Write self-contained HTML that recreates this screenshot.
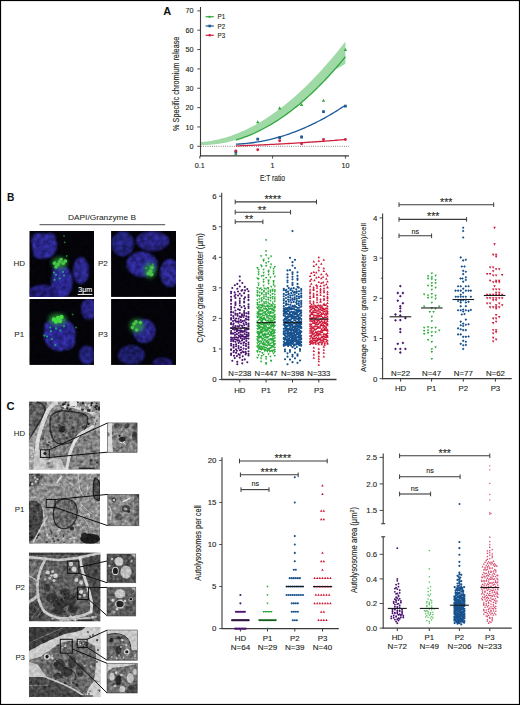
<!DOCTYPE html><html><head><meta charset="utf-8"><style>html,body{margin:0;padding:0;background:#fff;}svg{display:block;font-family:"Liberation Sans", sans-serif;}</style></head><body>
<svg width="520" height="705" viewBox="0 0 520 705">
<defs><filter id="b1" x="-20%" y="-20%" width="140%" height="140%"><feGaussianBlur stdDeviation="1.2"/></filter><filter id="b2" x="-20%" y="-20%" width="140%" height="140%"><feGaussianBlur stdDeviation="0.6"/></filter><filter id="b3" x="-20%" y="-20%" width="140%" height="140%"><feGaussianBlur stdDeviation="2"/></filter><filter id="nz" x="0" y="0" width="100%" height="100%" color-interpolation-filters="sRGB"><feTurbulence type="fractalNoise" baseFrequency="0.3" numOctaves="2" seed="5"/><feColorMatrix type="matrix" values="1.6 0 0 0 -0.3  1.6 0 0 0 -0.3  1.6 0 0 0 -0.3  0 0 0 0 1"/></filter><filter id="nz2" x="0" y="0" width="100%" height="100%" color-interpolation-filters="sRGB"><feTurbulence type="fractalNoise" baseFrequency="0.22" numOctaves="2" seed="9"/><feColorMatrix type="matrix" values="1.8 0 0 0 -0.4  1.8 0 0 0 -0.4  1.8 0 0 0 -0.4  0 0 0 0 1"/></filter><filter id="bem" x="-5%" y="-5%" width="110%" height="110%"><feGaussianBlur stdDeviation="0.55"/></filter></defs>
<rect x="0" y="0" width="520" height="705" fill="#fff"/>
<text x="167.3" y="15" font-size="11" text-anchor="middle" fill="#111" font-weight="bold">A</text>
<path d="M199.8 142.26L202.23 142.06L204.65 141.8L207.08 141.5L209.51 141.14L211.93 140.73L214.36 140.27L216.79 139.76L219.21 139.2L221.64 138.59L224.07 137.92L226.49 137.21L228.92 136.44L231.35 135.63L233.77 134.76L236.2 133.84L238.63 132.88L241.05 131.86L243.48 130.79L245.91 129.67L248.33 128.5L250.76 127.29L253.19 126.02L255.61 124.7L258.04 123.33L260.47 121.91L262.89 120.45L265.32 118.93L267.75 117.36L270.17 115.75L272.6 114.08L275.03 112.37L277.45 110.6L279.88 108.79L282.31 106.93L284.73 105.02L287.16 103.06L289.59 101.05L292.01 98.99L294.44 96.89L296.87 94.73L299.29 92.53L301.72 90.28L304.15 87.98L306.57 85.63L309 83.23L311.43 80.79L313.85 78.3L316.28 75.76L318.71 73.17L321.13 70.53L323.56 67.85L325.99 65.12L328.41 62.34L330.84 59.51L333.27 56.63L335.69 53.71L338.12 50.74L340.55 47.73L342.97 44.66L345.4 41.55L345.4 63.7L342.97 65.21L340.55 66.66L338.12 68.06L335.69 69.41L333.27 71.01L330.84 73.71L328.41 76.36L325.99 78.96L323.56 81.51L321.13 84.02L318.71 86.47L316.28 88.87L313.85 91.22L311.43 93.51L309 95.76L306.57 97.96L304.15 100.11L301.72 102.21L299.29 104.26L296.87 106.25L294.44 108.2L292.01 110.1L289.59 111.94L287.16 113.74L284.73 115.49L282.31 117.18L279.88 118.83L277.45 120.43L275.03 121.97L272.6 123.47L270.17 124.91L267.75 126.31L265.32 127.65L262.89 128.95L260.47 130.19L258.04 131.39L255.61 132.53L253.19 133.63L250.76 134.68L248.33 135.67L245.91 136.62L243.48 137.51L241.05 138.36L238.63 139.15L236.2 139.9L233.77 140.6L231.35 141.24L228.92 141.84L226.49 142.38L224.07 142.88L221.64 143.33L219.21 143.72L216.79 144.07L214.36 144.37L211.93 144.62L209.51 144.82L207.08 144.96L204.65 145.06L202.23 145.11L199.8 145.11Z" fill="#9fdaa6"/>
<line x1="201" y1="146.3" x2="349" y2="146.3" stroke="#444" stroke-width="0.8" stroke-dasharray="0.8 1.4"/>
<path d="M235.84 140.01L237.66 139.46L239.49 138.88L241.31 138.27L243.14 137.63L244.97 136.97L246.79 136.28L248.62 135.56L250.44 134.81L252.27 134.03L254.1 133.23L255.92 132.39L257.75 131.53L259.57 130.64L261.4 129.72L263.23 128.77L265.05 127.8L266.88 126.79L268.71 125.76L270.53 124.7L272.36 123.61L274.18 122.5L276.01 121.35L277.84 120.18L279.66 118.98L281.49 117.74L283.31 116.49L285.14 115.2L286.97 113.88L288.79 112.54L290.62 111.17L292.44 109.76L294.27 108.34L296.1 106.88L297.92 105.39L299.75 103.88L301.57 102.33L303.4 100.76L305.23 99.16L307.05 97.53L308.88 95.87L310.7 94.19L312.53 92.47L314.36 90.73L316.18 88.96L318.01 87.16L319.84 85.33L321.66 83.48L323.49 81.59L325.31 79.68L327.14 77.73L328.97 75.76L330.79 73.76L332.62 71.73L334.44 69.68L336.27 67.59L338.1 65.48L339.92 63.34L341.75 61.16L343.57 58.97L345.4 56.74" fill="none" stroke="#2fa83e" stroke-width="1.3"/>
<path d="M235.84 144.17L237.66 144.09L239.49 143.99L241.31 143.87L243.14 143.74L244.97 143.58L246.79 143.4L248.62 143.21L250.44 142.99L252.27 142.76L254.1 142.51L255.92 142.23L257.75 141.94L259.57 141.63L261.4 141.3L263.23 140.95L265.05 140.58L266.88 140.19L268.71 139.78L270.53 139.36L272.36 138.91L274.18 138.45L276.01 137.96L277.84 137.46L279.66 136.93L281.49 136.39L283.31 135.83L285.14 135.25L286.97 134.64L288.79 134.02L290.62 133.38L292.44 132.73L294.27 132.05L296.1 131.35L297.92 130.63L299.75 129.9L301.57 129.14L303.4 128.37L305.23 127.57L307.05 126.76L308.88 125.93L310.7 125.08L312.53 124.2L314.36 123.31L316.18 122.4L318.01 121.47L319.84 120.53L321.66 119.56L323.49 118.57L325.31 117.56L327.14 116.54L328.97 115.49L330.79 114.43L332.62 113.35L334.44 112.24L336.27 111.12L338.1 109.98L339.92 108.82L341.75 107.64L343.57 106.44L345.4 105.22" fill="none" stroke="#1d5a98" stroke-width="1.3"/>
<path d="M235.84 145.91L237.66 145.85L239.49 145.78L241.31 145.72L243.14 145.65L244.97 145.58L246.79 145.51L248.62 145.44L250.44 145.37L252.27 145.29L254.1 145.22L255.92 145.14L257.75 145.06L259.57 144.98L261.4 144.9L263.23 144.82L265.05 144.73L266.88 144.65L268.71 144.56L270.53 144.47L272.36 144.38L274.18 144.28L276.01 144.19L277.84 144.1L279.66 144L281.49 143.9L283.31 143.8L285.14 143.7L286.97 143.6L288.79 143.49L290.62 143.39L292.44 143.28L294.27 143.17L296.1 143.06L297.92 142.95L299.75 142.84L301.57 142.72L303.4 142.61L305.23 142.49L307.05 142.37L308.88 142.25L310.7 142.13L312.53 142L314.36 141.88L316.18 141.75L318.01 141.62L319.84 141.5L321.66 141.36L323.49 141.23L325.31 141.1L327.14 140.96L328.97 140.83L330.79 140.69L332.62 140.55L334.44 140.41L336.27 140.26L338.1 140.12L339.92 139.97L341.75 139.83L343.57 139.68L345.4 139.53" fill="none" stroke="#d0203f" stroke-width="1.3"/>
<path d="M235.83 152.2L237.53 155.26L234.13 155.26ZM257.74 120.28L259.44 123.34L256.04 123.34ZM279.66 106.34L281.36 109.4L277.96 109.4ZM301.57 102.86L303.27 105.92L299.87 105.92ZM323.49 98.8L325.19 101.86L321.79 101.86ZM345.4 47.91L347.1 50.97L343.7 50.97Z" fill="#2fa83e"/>
<path d="M234.43 150.71h2.8v2.8h-2.8ZM256.34 137.74h2.8v2.8h-2.8ZM278.26 136.19h2.8v2.8h-2.8ZM300.17 135.61h2.8v2.8h-2.8ZM322.09 110.26h2.8v2.8h-2.8ZM344 104.65h2.8v2.8h-2.8Z" fill="#1d5a98"/>
<path d="M234.38 150.94a1.45 1.45 0 1 0 2.9 0a1.45 1.45 0 1 0 -2.9 0ZM256.29 149.78a1.45 1.45 0 1 0 2.9 0a1.45 1.45 0 1 0 -2.9 0ZM278.21 140.69a1.45 1.45 0 1 0 2.9 0a1.45 1.45 0 1 0 -2.9 0ZM300.12 143.78a1.45 1.45 0 1 0 2.9 0a1.45 1.45 0 1 0 -2.9 0ZM322.04 139.53a1.45 1.45 0 1 0 2.9 0a1.45 1.45 0 1 0 -2.9 0ZM343.95 139.53a1.45 1.45 0 1 0 2.9 0a1.45 1.45 0 1 0 -2.9 0Z" fill="#d0203f"/>
<line x1="200.5" y1="7" x2="200.5" y2="156.5" stroke="#3a3a3a" stroke-width="1.1"/>
<line x1="200" y1="155.9" x2="349" y2="155.9" stroke="#3a3a3a" stroke-width="1.4"/>
<line x1="197.3" y1="146.3" x2="200.5" y2="146.3" stroke="#3a3a3a" stroke-width="0.9"/>
<text x="193.6" y="148.9" font-size="7.2" text-anchor="end" fill="#231f20" font-weight="normal" stroke="#231f20" stroke-width="0.12">0</text>
<line x1="197.3" y1="126.95" x2="200.5" y2="126.95" stroke="#3a3a3a" stroke-width="0.9"/>
<text x="193.6" y="129.55" font-size="7.2" text-anchor="end" fill="#231f20" font-weight="normal" stroke="#231f20" stroke-width="0.12">10</text>
<line x1="197.3" y1="107.6" x2="200.5" y2="107.6" stroke="#3a3a3a" stroke-width="0.9"/>
<text x="193.6" y="110.2" font-size="7.2" text-anchor="end" fill="#231f20" font-weight="normal" stroke="#231f20" stroke-width="0.12">20</text>
<line x1="197.3" y1="88.25" x2="200.5" y2="88.25" stroke="#3a3a3a" stroke-width="0.9"/>
<text x="193.6" y="90.85" font-size="7.2" text-anchor="end" fill="#231f20" font-weight="normal" stroke="#231f20" stroke-width="0.12">30</text>
<line x1="197.3" y1="68.9" x2="200.5" y2="68.9" stroke="#3a3a3a" stroke-width="0.9"/>
<text x="193.6" y="71.5" font-size="7.2" text-anchor="end" fill="#231f20" font-weight="normal" stroke="#231f20" stroke-width="0.12">40</text>
<line x1="197.3" y1="49.55" x2="200.5" y2="49.55" stroke="#3a3a3a" stroke-width="0.9"/>
<text x="193.6" y="52.15" font-size="7.2" text-anchor="end" fill="#231f20" font-weight="normal" stroke="#231f20" stroke-width="0.12">50</text>
<line x1="197.3" y1="30.2" x2="200.5" y2="30.2" stroke="#3a3a3a" stroke-width="0.9"/>
<text x="193.6" y="32.8" font-size="7.2" text-anchor="end" fill="#231f20" font-weight="normal" stroke="#231f20" stroke-width="0.12">60</text>
<line x1="197.3" y1="10.85" x2="200.5" y2="10.85" stroke="#3a3a3a" stroke-width="0.9"/>
<text x="193.6" y="13.45" font-size="7.2" text-anchor="end" fill="#231f20" font-weight="normal" stroke="#231f20" stroke-width="0.12">70</text>
<line x1="199.8" y1="155.9" x2="199.8" y2="158.6" stroke="#3a3a3a" stroke-width="0.9"/>
<text x="199.8" y="168.3" font-size="7.2" text-anchor="middle" fill="#231f20" font-weight="normal" stroke="#231f20" stroke-width="0.12">0.1</text>
<line x1="272.6" y1="155.9" x2="272.6" y2="158.6" stroke="#3a3a3a" stroke-width="0.9"/>
<text x="272.6" y="168.3" font-size="7.2" text-anchor="middle" fill="#231f20" font-weight="normal" stroke="#231f20" stroke-width="0.12">1</text>
<line x1="345.4" y1="155.9" x2="345.4" y2="158.6" stroke="#3a3a3a" stroke-width="0.9"/>
<text x="345.4" y="168.3" font-size="7.2" text-anchor="middle" fill="#231f20" font-weight="normal" stroke="#231f20" stroke-width="0.12">10</text>
<text x="272.5" y="181.3" font-size="8.4" text-anchor="middle" fill="#231f20" font-weight="normal" stroke="#231f20" stroke-width="0.12" textLength="25.2" lengthAdjust="spacingAndGlyphs">E:T ratio</text>
<text x="178.8" y="83.8" font-size="8.4" text-anchor="middle" fill="#231f20" font-weight="normal" stroke="#231f20" stroke-width="0.12" textLength="94.5" lengthAdjust="spacingAndGlyphs" transform="rotate(-90 178.8 83.8)">% Specific chromium release</text>
<line x1="205.6" y1="16.7" x2="213.8" y2="16.7" stroke="#2fa83e" stroke-width="1.2"/>
<path d="M209.7 15.3L211 17.64L208.4 17.64Z" fill="#2fa83e"/>
<text x="217.6" y="19.3" font-size="7.4" text-anchor="start" fill="#231f20" font-weight="normal" stroke="#231f20" stroke-width="0.12" textLength="7.6" lengthAdjust="spacingAndGlyphs">P1</text>
<line x1="205.6" y1="26" x2="213.8" y2="26" stroke="#1d5a98" stroke-width="1.2"/>
<path d="M208.4 24.7h2.6v2.6h-2.6Z" fill="#1d5a98"/>
<text x="217.6" y="28.6" font-size="7.4" text-anchor="start" fill="#231f20" font-weight="normal" stroke="#231f20" stroke-width="0.12" textLength="7.6" lengthAdjust="spacingAndGlyphs">P2</text>
<line x1="205.6" y1="35.3" x2="213.8" y2="35.3" stroke="#d0203f" stroke-width="1.2"/>
<path d="M208.4 35.3a1.3 1.3 0 1 0 2.6 0a1.3 1.3 0 1 0 -2.6 0Z" fill="#d0203f"/>
<text x="217.6" y="37.9" font-size="7.4" text-anchor="start" fill="#231f20" font-weight="normal" stroke="#231f20" stroke-width="0.12" textLength="7.6" lengthAdjust="spacingAndGlyphs">P3</text>
<text x="7" y="200.6" font-size="10.2" text-anchor="start" fill="#111" font-weight="bold">B</text>
<text x="102" y="220" font-size="8" text-anchor="middle" fill="#231f20" font-weight="normal" stroke="#231f20" stroke-width="0.05" textLength="68" lengthAdjust="spacingAndGlyphs">DAPI/Granzyme B</text>
<line x1="39.5" y1="224.6" x2="165.2" y2="224.6" stroke="#6d6e70" stroke-width="1.1"/>
<clipPath id="mc1"><rect x="29.3" y="231" width="64.7" height="65.9"/></clipPath>
<g clip-path="url(#mc1)" style="isolation:isolate">
<rect x="29.3" y="231" width="64.7" height="65.9" fill="#030308"/>
<g filter="url(#b1)">
<ellipse cx="44.5" cy="246" rx="12.5" ry="12.5" fill="#2a268c"/>
<ellipse cx="38" cy="240" rx="7" ry="7" fill="#2a268c"/>
<ellipse cx="50" cy="238" rx="6" ry="5" fill="#2a268c"/>
<ellipse cx="40" cy="253" rx="7" ry="6" fill="#2a268c"/>
<ellipse cx="81" cy="270.5" rx="8" ry="13.5" fill="#2a268a"/>
<ellipse cx="62" cy="282" rx="10.5" ry="16.5" fill="#2c2890"/>
<ellipse cx="58" cy="271" rx="5.5" ry="5.5" fill="#2c2890"/>
<ellipse cx="43" cy="293" rx="14.5" ry="8.5" fill="#221e72"/>
</g>
<rect x="29.3" y="231" width="64.7" height="65.9" fill="#808080" filter="url(#nz2)" style="mix-blend-mode:overlay" opacity="0.32"/>
<g filter="url(#b3)" opacity="0.8">
<ellipse cx="59.5" cy="263" rx="7.8" ry="5.85" fill="#2a9a3a"/>
</g><g filter="url(#b2)">
<ellipse cx="54.6" cy="263.2" rx="1.9" ry="1.9" fill="#46c646"/>
<ellipse cx="59.6" cy="261.8" rx="1.9" ry="1.9" fill="#46c646"/>
<ellipse cx="63.2" cy="263.2" rx="1.9" ry="1.9" fill="#46c646"/>
<ellipse cx="56" cy="266.8" rx="1.9" ry="1.9" fill="#46c646"/>
<ellipse cx="61.1" cy="259.6" rx="1.9" ry="1.9" fill="#46c646"/>
<ellipse cx="65.4" cy="261.1" rx="1.9" ry="1.9" fill="#46c646"/>
<ellipse cx="58" cy="264.5" rx="1.9" ry="1.9" fill="#46c646"/>
<ellipse cx="53.9" cy="272.6" rx="1.1" ry="1.1" fill="#22a07a"/>
<ellipse cx="63.2" cy="271.9" rx="1.1" ry="1.1" fill="#22a07a"/>
<ellipse cx="56" cy="274.8" rx="1.1" ry="1.1" fill="#22a07a"/>
<ellipse cx="64" cy="275.5" rx="1.1" ry="1.1" fill="#22a07a"/>
<ellipse cx="59.6" cy="278.4" rx="1.1" ry="1.1" fill="#22a07a"/>
<ellipse cx="54.6" cy="279.8" rx="1.1" ry="1.1" fill="#22a07a"/>
<ellipse cx="64" cy="235.8" rx="0.9" ry="0.9" fill="#1d8a30"/>
<ellipse cx="64.7" cy="242.3" rx="0.9" ry="0.9" fill="#1d8a30"/>
<ellipse cx="66.8" cy="256" rx="0.9" ry="0.9" fill="#1d8a30"/>
</g></g>
<text x="85.3" y="292" font-size="7" text-anchor="middle" fill="#fff" font-weight="normal" stroke="#fff" stroke-width="0.12" textLength="14" lengthAdjust="spacingAndGlyphs">3&#956;m</text>
<line x1="77.7" y1="294.4" x2="92.5" y2="294.4" stroke="#fff" stroke-width="1"/>
<clipPath id="mc2"><rect x="111.1" y="231" width="64.9" height="65.9"/></clipPath>
<g clip-path="url(#mc2)" style="isolation:isolate">
<rect x="111.1" y="231" width="64.9" height="65.9" fill="#030308"/>
<g filter="url(#b1)">
<ellipse cx="122.7" cy="243.7" rx="11.2" ry="12.5" fill="#24207a"/>
<ellipse cx="152.6" cy="241" rx="16.6" ry="10" fill="#26227e"/>
<ellipse cx="142" cy="264.4" rx="15.5" ry="12.6" fill="#2c2890"/>
<ellipse cx="170" cy="273" rx="10" ry="14" fill="#2a268a"/>
</g>
<rect x="111.1" y="231" width="64.9" height="65.9" fill="#808080" filter="url(#nz2)" style="mix-blend-mode:overlay" opacity="0.32"/>
<g filter="url(#b3)" opacity="0.8">
<ellipse cx="150" cy="270.5" rx="5.85" ry="7.8" fill="#2a9a3a"/>
</g><g filter="url(#b2)">
<ellipse cx="150.5" cy="271.2" rx="2" ry="2" fill="#46c646"/>
<ellipse cx="148.5" cy="273.5" rx="2" ry="2" fill="#46c646"/>
<ellipse cx="152" cy="267.5" rx="2" ry="2" fill="#46c646"/>
<ellipse cx="151.5" cy="274.5" rx="2" ry="2" fill="#46c646"/>
<ellipse cx="153" cy="264.5" rx="1" ry="1" fill="#2aa84a"/>
<ellipse cx="146" cy="268" rx="1" ry="1" fill="#2aa84a"/>
</g></g>
<clipPath id="mc3"><rect x="29.3" y="299" width="64.7" height="65.9"/></clipPath>
<g clip-path="url(#mc3)" style="isolation:isolate">
<rect x="29.3" y="299" width="64.7" height="65.9" fill="#030308"/>
<g filter="url(#b1)">
<ellipse cx="59.7" cy="334.6" rx="15.9" ry="16.3" fill="#2c2890"/>
<ellipse cx="52" cy="328" rx="8" ry="8" fill="#2c2890"/>
<ellipse cx="66" cy="342" rx="9" ry="8" fill="#2c2890"/>
<ellipse cx="89" cy="309" rx="8" ry="11" fill="#26227e"/>
<ellipse cx="87" cy="355" rx="8" ry="9.5" fill="#24207a"/>
</g>
<rect x="29.3" y="299" width="64.7" height="65.9" fill="#808080" filter="url(#nz2)" style="mix-blend-mode:overlay" opacity="0.32"/>
<g filter="url(#b3)" opacity="0.8">
<ellipse cx="57.5" cy="319.3" rx="9.1" ry="5.85" fill="#2a9a3a"/>
</g><g filter="url(#b2)">
<ellipse cx="54" cy="319.5" rx="2.2" ry="2.2" fill="#44dc44"/>
<ellipse cx="58" cy="318" rx="2.2" ry="2.2" fill="#44dc44"/>
<ellipse cx="61.5" cy="317" rx="2.2" ry="2.2" fill="#44dc44"/>
<ellipse cx="56" cy="321.5" rx="2.2" ry="2.2" fill="#44dc44"/>
<ellipse cx="60" cy="321" rx="2.2" ry="2.2" fill="#44dc44"/>
<ellipse cx="64" cy="326.2" rx="1.1" ry="1.1" fill="#22a07a"/>
<ellipse cx="56" cy="328.4" rx="1.1" ry="1.1" fill="#22a07a"/>
<ellipse cx="60.4" cy="330.5" rx="1.1" ry="1.1" fill="#22a07a"/>
<ellipse cx="50.3" cy="327.6" rx="1.1" ry="1.1" fill="#22a07a"/>
<ellipse cx="51" cy="331.2" rx="1.1" ry="1.1" fill="#22a07a"/>
<ellipse cx="44.5" cy="335.6" rx="1.1" ry="1.1" fill="#22a07a"/>
<ellipse cx="47" cy="336.5" rx="1.1" ry="1.1" fill="#22a07a"/>
<ellipse cx="51.7" cy="339.2" rx="1.1" ry="1.1" fill="#22a07a"/>
<ellipse cx="55.3" cy="345" rx="1.1" ry="1.1" fill="#22a07a"/>
<ellipse cx="72.6" cy="314.6" rx="1" ry="1" fill="#1d7a30"/>
<ellipse cx="76.2" cy="327.6" rx="1" ry="1" fill="#1d7a30"/>
</g></g>
<clipPath id="mc4"><rect x="111.1" y="299" width="64.9" height="65.9"/></clipPath>
<g clip-path="url(#mc4)" style="isolation:isolate">
<rect x="111.1" y="299" width="64.9" height="65.9" fill="#030308"/>
<g filter="url(#b1)">
<ellipse cx="144.3" cy="331" rx="11.2" ry="11.9" fill="#2a268a"/>
<ellipse cx="131.4" cy="355" rx="13.4" ry="10" fill="#1e1a66"/>
<ellipse cx="162.7" cy="362.5" rx="10" ry="5" fill="#1c1860"/>
</g>
<rect x="111.1" y="299" width="64.9" height="65.9" fill="#808080" filter="url(#nz2)" style="mix-blend-mode:overlay" opacity="0.32"/>
<g filter="url(#b3)" opacity="0.8">
<ellipse cx="136.7" cy="325.8" rx="7.15" ry="6.76" fill="#2a9a3a"/>
</g><g filter="url(#b2)">
<ellipse cx="136" cy="321.9" rx="1.8" ry="1.8" fill="#46c646"/>
<ellipse cx="140.4" cy="322.6" rx="1.8" ry="1.8" fill="#46c646"/>
<ellipse cx="132.4" cy="327.6" rx="1.8" ry="1.8" fill="#46c646"/>
<ellipse cx="136.7" cy="330" rx="1.8" ry="1.8" fill="#46c646"/>
<ellipse cx="134" cy="324" rx="1.8" ry="1.8" fill="#46c646"/>
</g></g>
<text x="19.2" y="266.2" font-size="8" text-anchor="middle" fill="#231f20" font-weight="normal" stroke="#231f20" stroke-width="0.05">HD</text>
<text x="102.8" y="266.2" font-size="8" text-anchor="middle" fill="#231f20" font-weight="normal" stroke="#231f20" stroke-width="0.05">P2</text>
<text x="19.2" y="336.6" font-size="8" text-anchor="middle" fill="#231f20" font-weight="normal" stroke="#231f20" stroke-width="0.05">P1</text>
<text x="102.8" y="336.6" font-size="8" text-anchor="middle" fill="#231f20" font-weight="normal" stroke="#231f20" stroke-width="0.05">P3</text>
<line x1="221.7" y1="192.8" x2="221.7" y2="380" stroke="#3a3a3a" stroke-width="1.1"/>
<line x1="221.2" y1="379.5" x2="336.5" y2="379.5" stroke="#3a3a3a" stroke-width="1.3"/>
<line x1="218.9" y1="379.5" x2="221.7" y2="379.5" stroke="#3a3a3a" stroke-width="0.9"/>
<text x="216.6" y="382.3" font-size="7.8" text-anchor="end" fill="#231f20" font-weight="normal" stroke="#231f20" stroke-width="0.12">0</text>
<line x1="218.9" y1="348.95" x2="221.7" y2="348.95" stroke="#3a3a3a" stroke-width="0.9"/>
<text x="216.6" y="351.75" font-size="7.8" text-anchor="end" fill="#231f20" font-weight="normal" stroke="#231f20" stroke-width="0.12">1</text>
<line x1="218.9" y1="318.4" x2="221.7" y2="318.4" stroke="#3a3a3a" stroke-width="0.9"/>
<text x="216.6" y="321.2" font-size="7.8" text-anchor="end" fill="#231f20" font-weight="normal" stroke="#231f20" stroke-width="0.12">2</text>
<line x1="218.9" y1="287.85" x2="221.7" y2="287.85" stroke="#3a3a3a" stroke-width="0.9"/>
<text x="216.6" y="290.65" font-size="7.8" text-anchor="end" fill="#231f20" font-weight="normal" stroke="#231f20" stroke-width="0.12">3</text>
<line x1="218.9" y1="257.3" x2="221.7" y2="257.3" stroke="#3a3a3a" stroke-width="0.9"/>
<text x="216.6" y="260.1" font-size="7.8" text-anchor="end" fill="#231f20" font-weight="normal" stroke="#231f20" stroke-width="0.12">4</text>
<line x1="218.9" y1="226.75" x2="221.7" y2="226.75" stroke="#3a3a3a" stroke-width="0.9"/>
<text x="216.6" y="229.55" font-size="7.8" text-anchor="end" fill="#231f20" font-weight="normal" stroke="#231f20" stroke-width="0.12">5</text>
<line x1="218.9" y1="196.2" x2="221.7" y2="196.2" stroke="#3a3a3a" stroke-width="0.9"/>
<text x="216.6" y="199" font-size="7.8" text-anchor="end" fill="#231f20" font-weight="normal" stroke="#231f20" stroke-width="0.12">6</text>
<text x="203.4" y="288" font-size="8.2" text-anchor="middle" fill="#231f20" font-weight="normal" stroke="#231f20" stroke-width="0.12" textLength="109.6" lengthAdjust="spacingAndGlyphs" transform="rotate(-90 203.4 288)">Cytotoxic granule diameter (&#956;m)</text>
<path d="M238.75 276.55a1.05 1.05 0 1 0 2.1 0a1.05 1.05 0 1 0 -2.1 0ZM238.75 280.59a1.05 1.05 0 1 0 2.1 0a1.05 1.05 0 1 0 -2.1 0ZM241.25 282.99a1.05 1.05 0 1 0 2.1 0a1.05 1.05 0 1 0 -2.1 0ZM236.25 283.88a1.05 1.05 0 1 0 2.1 0a1.05 1.05 0 1 0 -2.1 0ZM233.75 285.26a1.05 1.05 0 1 0 2.1 0a1.05 1.05 0 1 0 -2.1 0ZM238.75 286.46a1.05 1.05 0 1 0 2.1 0a1.05 1.05 0 1 0 -2.1 0ZM243.75 286.88a1.05 1.05 0 1 0 2.1 0a1.05 1.05 0 1 0 -2.1 0ZM231.25 288.05a1.05 1.05 0 1 0 2.1 0a1.05 1.05 0 1 0 -2.1 0ZM236.25 288.78a1.05 1.05 0 1 0 2.1 0a1.05 1.05 0 1 0 -2.1 0ZM246.25 289.09a1.05 1.05 0 1 0 2.1 0a1.05 1.05 0 1 0 -2.1 0ZM241.25 289.99a1.05 1.05 0 1 0 2.1 0a1.05 1.05 0 1 0 -2.1 0ZM243.97 290.39a1.05 1.05 0 1 0 2.1 0a1.05 1.05 0 1 0 -2.1 0ZM240.49 290.66a1.05 1.05 0 1 0 2.1 0a1.05 1.05 0 1 0 -2.1 0ZM247.45 291.21a1.05 1.05 0 1 0 2.1 0a1.05 1.05 0 1 0 -2.1 0ZM237.01 291.53a1.05 1.05 0 1 0 2.1 0a1.05 1.05 0 1 0 -2.1 0ZM230.05 291.84a1.05 1.05 0 1 0 2.1 0a1.05 1.05 0 1 0 -2.1 0ZM233.53 292.37a1.05 1.05 0 1 0 2.1 0a1.05 1.05 0 1 0 -2.1 0ZM243.1 293.14a1.05 1.05 0 1 0 2.1 0a1.05 1.05 0 1 0 -2.1 0ZM230.05 293.3a1.05 1.05 0 1 0 2.1 0a1.05 1.05 0 1 0 -2.1 0ZM238.75 293.72a1.05 1.05 0 1 0 2.1 0a1.05 1.05 0 1 0 -2.1 0ZM234.4 294.52a1.05 1.05 0 1 0 2.1 0a1.05 1.05 0 1 0 -2.1 0ZM247.45 294.99a1.05 1.05 0 1 0 2.1 0a1.05 1.05 0 1 0 -2.1 0ZM237.01 295.43a1.05 1.05 0 1 0 2.1 0a1.05 1.05 0 1 0 -2.1 0ZM240.49 295.64a1.05 1.05 0 1 0 2.1 0a1.05 1.05 0 1 0 -2.1 0ZM233.53 295.99a1.05 1.05 0 1 0 2.1 0a1.05 1.05 0 1 0 -2.1 0ZM230.05 296.71a1.05 1.05 0 1 0 2.1 0a1.05 1.05 0 1 0 -2.1 0ZM247.45 297.17a1.05 1.05 0 1 0 2.1 0a1.05 1.05 0 1 0 -2.1 0ZM243.97 297.36a1.05 1.05 0 1 0 2.1 0a1.05 1.05 0 1 0 -2.1 0ZM234.4 297.9a1.05 1.05 0 1 0 2.1 0a1.05 1.05 0 1 0 -2.1 0ZM238.75 298.58a1.05 1.05 0 1 0 2.1 0a1.05 1.05 0 1 0 -2.1 0ZM243.1 298.83a1.05 1.05 0 1 0 2.1 0a1.05 1.05 0 1 0 -2.1 0ZM230.05 299.57a1.05 1.05 0 1 0 2.1 0a1.05 1.05 0 1 0 -2.1 0ZM247.45 299.89a1.05 1.05 0 1 0 2.1 0a1.05 1.05 0 1 0 -2.1 0ZM247.45 300.22a1.05 1.05 0 1 0 2.1 0a1.05 1.05 0 1 0 -2.1 0ZM230.05 300.67a1.05 1.05 0 1 0 2.1 0a1.05 1.05 0 1 0 -2.1 0ZM238.75 301.07a1.05 1.05 0 1 0 2.1 0a1.05 1.05 0 1 0 -2.1 0ZM243.1 301.64a1.05 1.05 0 1 0 2.1 0a1.05 1.05 0 1 0 -2.1 0ZM234.4 302.37a1.05 1.05 0 1 0 2.1 0a1.05 1.05 0 1 0 -2.1 0ZM243.1 302.5a1.05 1.05 0 1 0 2.1 0a1.05 1.05 0 1 0 -2.1 0ZM238.75 303.03a1.05 1.05 0 1 0 2.1 0a1.05 1.05 0 1 0 -2.1 0ZM234.4 303.56a1.05 1.05 0 1 0 2.1 0a1.05 1.05 0 1 0 -2.1 0ZM230.05 303.86a1.05 1.05 0 1 0 2.1 0a1.05 1.05 0 1 0 -2.1 0ZM247.45 304.29a1.05 1.05 0 1 0 2.1 0a1.05 1.05 0 1 0 -2.1 0ZM234.4 304.88a1.05 1.05 0 1 0 2.1 0a1.05 1.05 0 1 0 -2.1 0ZM238.75 305.53a1.05 1.05 0 1 0 2.1 0a1.05 1.05 0 1 0 -2.1 0ZM243.1 305.99a1.05 1.05 0 1 0 2.1 0a1.05 1.05 0 1 0 -2.1 0ZM247.45 306.44a1.05 1.05 0 1 0 2.1 0a1.05 1.05 0 1 0 -2.1 0ZM230.05 306.9a1.05 1.05 0 1 0 2.1 0a1.05 1.05 0 1 0 -2.1 0ZM240.49 307.3a1.05 1.05 0 1 0 2.1 0a1.05 1.05 0 1 0 -2.1 0ZM233.53 307.48a1.05 1.05 0 1 0 2.1 0a1.05 1.05 0 1 0 -2.1 0ZM247.45 307.93a1.05 1.05 0 1 0 2.1 0a1.05 1.05 0 1 0 -2.1 0ZM243.97 308.41a1.05 1.05 0 1 0 2.1 0a1.05 1.05 0 1 0 -2.1 0ZM230.05 309.1a1.05 1.05 0 1 0 2.1 0a1.05 1.05 0 1 0 -2.1 0ZM237.01 309.32a1.05 1.05 0 1 0 2.1 0a1.05 1.05 0 1 0 -2.1 0ZM238.75 309.9a1.05 1.05 0 1 0 2.1 0a1.05 1.05 0 1 0 -2.1 0ZM234.4 310.56a1.05 1.05 0 1 0 2.1 0a1.05 1.05 0 1 0 -2.1 0ZM243.1 311.01a1.05 1.05 0 1 0 2.1 0a1.05 1.05 0 1 0 -2.1 0ZM230.05 311.59a1.05 1.05 0 1 0 2.1 0a1.05 1.05 0 1 0 -2.1 0ZM247.45 312.05a1.05 1.05 0 1 0 2.1 0a1.05 1.05 0 1 0 -2.1 0ZM232.22 312.33a1.05 1.05 0 1 0 2.1 0a1.05 1.05 0 1 0 -2.1 0ZM230.05 312.55a1.05 1.05 0 1 0 2.1 0a1.05 1.05 0 1 0 -2.1 0ZM243.1 312.9a1.05 1.05 0 1 0 2.1 0a1.05 1.05 0 1 0 -2.1 0ZM238.75 313.03a1.05 1.05 0 1 0 2.1 0a1.05 1.05 0 1 0 -2.1 0ZM245.28 313.27a1.05 1.05 0 1 0 2.1 0a1.05 1.05 0 1 0 -2.1 0ZM234.4 313.54a1.05 1.05 0 1 0 2.1 0a1.05 1.05 0 1 0 -2.1 0ZM247.45 313.8a1.05 1.05 0 1 0 2.1 0a1.05 1.05 0 1 0 -2.1 0ZM236.57 314.03a1.05 1.05 0 1 0 2.1 0a1.05 1.05 0 1 0 -2.1 0ZM240.93 314.34a1.05 1.05 0 1 0 2.1 0a1.05 1.05 0 1 0 -2.1 0ZM234.4 314.77a1.05 1.05 0 1 0 2.1 0a1.05 1.05 0 1 0 -2.1 0ZM230.05 315.01a1.05 1.05 0 1 0 2.1 0a1.05 1.05 0 1 0 -2.1 0ZM243.1 315.15a1.05 1.05 0 1 0 2.1 0a1.05 1.05 0 1 0 -2.1 0ZM240.93 315.49a1.05 1.05 0 1 0 2.1 0a1.05 1.05 0 1 0 -2.1 0ZM236.57 315.69a1.05 1.05 0 1 0 2.1 0a1.05 1.05 0 1 0 -2.1 0ZM232.22 316.12a1.05 1.05 0 1 0 2.1 0a1.05 1.05 0 1 0 -2.1 0ZM245.28 316.33a1.05 1.05 0 1 0 2.1 0a1.05 1.05 0 1 0 -2.1 0ZM238.75 316.63a1.05 1.05 0 1 0 2.1 0a1.05 1.05 0 1 0 -2.1 0ZM247.45 316.78a1.05 1.05 0 1 0 2.1 0a1.05 1.05 0 1 0 -2.1 0ZM242.48 317a1.05 1.05 0 1 0 2.1 0a1.05 1.05 0 1 0 -2.1 0ZM239.99 317.24a1.05 1.05 0 1 0 2.1 0a1.05 1.05 0 1 0 -2.1 0ZM247.45 317.62a1.05 1.05 0 1 0 2.1 0a1.05 1.05 0 1 0 -2.1 0ZM232.54 318.02a1.05 1.05 0 1 0 2.1 0a1.05 1.05 0 1 0 -2.1 0ZM230.05 318.15a1.05 1.05 0 1 0 2.1 0a1.05 1.05 0 1 0 -2.1 0ZM235.02 318.53a1.05 1.05 0 1 0 2.1 0a1.05 1.05 0 1 0 -2.1 0ZM237.51 318.69a1.05 1.05 0 1 0 2.1 0a1.05 1.05 0 1 0 -2.1 0ZM244.96 318.84a1.05 1.05 0 1 0 2.1 0a1.05 1.05 0 1 0 -2.1 0ZM245.52 319.36a1.05 1.05 0 1 0 2.1 0a1.05 1.05 0 1 0 -2.1 0ZM230.05 319.59a1.05 1.05 0 1 0 2.1 0a1.05 1.05 0 1 0 -2.1 0ZM247.45 319.68a1.05 1.05 0 1 0 2.1 0a1.05 1.05 0 1 0 -2.1 0ZM239.72 320.1a1.05 1.05 0 1 0 2.1 0a1.05 1.05 0 1 0 -2.1 0ZM233.92 320.34a1.05 1.05 0 1 0 2.1 0a1.05 1.05 0 1 0 -2.1 0ZM243.58 320.67a1.05 1.05 0 1 0 2.1 0a1.05 1.05 0 1 0 -2.1 0ZM241.65 320.94a1.05 1.05 0 1 0 2.1 0a1.05 1.05 0 1 0 -2.1 0ZM231.98 321.11a1.05 1.05 0 1 0 2.1 0a1.05 1.05 0 1 0 -2.1 0ZM237.78 321.38a1.05 1.05 0 1 0 2.1 0a1.05 1.05 0 1 0 -2.1 0ZM235.85 321.5a1.05 1.05 0 1 0 2.1 0a1.05 1.05 0 1 0 -2.1 0ZM235.02 321.81a1.05 1.05 0 1 0 2.1 0a1.05 1.05 0 1 0 -2.1 0ZM239.99 322.27a1.05 1.05 0 1 0 2.1 0a1.05 1.05 0 1 0 -2.1 0ZM244.96 322.47a1.05 1.05 0 1 0 2.1 0a1.05 1.05 0 1 0 -2.1 0ZM237.51 322.74a1.05 1.05 0 1 0 2.1 0a1.05 1.05 0 1 0 -2.1 0ZM230.05 323.04a1.05 1.05 0 1 0 2.1 0a1.05 1.05 0 1 0 -2.1 0ZM242.48 323.33a1.05 1.05 0 1 0 2.1 0a1.05 1.05 0 1 0 -2.1 0ZM232.54 323.47a1.05 1.05 0 1 0 2.1 0a1.05 1.05 0 1 0 -2.1 0ZM247.45 323.67a1.05 1.05 0 1 0 2.1 0a1.05 1.05 0 1 0 -2.1 0ZM230.05 324.16a1.05 1.05 0 1 0 2.1 0a1.05 1.05 0 1 0 -2.1 0ZM245.28 324.34a1.05 1.05 0 1 0 2.1 0a1.05 1.05 0 1 0 -2.1 0ZM232.22 324.68a1.05 1.05 0 1 0 2.1 0a1.05 1.05 0 1 0 -2.1 0ZM243.1 324.93a1.05 1.05 0 1 0 2.1 0a1.05 1.05 0 1 0 -2.1 0ZM238.75 325.24a1.05 1.05 0 1 0 2.1 0a1.05 1.05 0 1 0 -2.1 0ZM247.45 325.49a1.05 1.05 0 1 0 2.1 0a1.05 1.05 0 1 0 -2.1 0ZM240.93 325.68a1.05 1.05 0 1 0 2.1 0a1.05 1.05 0 1 0 -2.1 0ZM234.4 326a1.05 1.05 0 1 0 2.1 0a1.05 1.05 0 1 0 -2.1 0ZM236.57 326.25a1.05 1.05 0 1 0 2.1 0a1.05 1.05 0 1 0 -2.1 0ZM247.45 326.56a1.05 1.05 0 1 0 2.1 0a1.05 1.05 0 1 0 -2.1 0ZM237.78 326.82a1.05 1.05 0 1 0 2.1 0a1.05 1.05 0 1 0 -2.1 0ZM231.98 326.94a1.05 1.05 0 1 0 2.1 0a1.05 1.05 0 1 0 -2.1 0ZM241.65 327.35a1.05 1.05 0 1 0 2.1 0a1.05 1.05 0 1 0 -2.1 0ZM233.92 327.54a1.05 1.05 0 1 0 2.1 0a1.05 1.05 0 1 0 -2.1 0ZM243.58 327.8a1.05 1.05 0 1 0 2.1 0a1.05 1.05 0 1 0 -2.1 0ZM230.05 327.96a1.05 1.05 0 1 0 2.1 0a1.05 1.05 0 1 0 -2.1 0ZM245.52 328.2a1.05 1.05 0 1 0 2.1 0a1.05 1.05 0 1 0 -2.1 0ZM239.72 328.45a1.05 1.05 0 1 0 2.1 0a1.05 1.05 0 1 0 -2.1 0ZM235.85 328.64a1.05 1.05 0 1 0 2.1 0a1.05 1.05 0 1 0 -2.1 0ZM231.79 329.05a1.05 1.05 0 1 0 2.1 0a1.05 1.05 0 1 0 -2.1 0ZM247.45 329.13a1.05 1.05 0 1 0 2.1 0a1.05 1.05 0 1 0 -2.1 0ZM235.27 329.36a1.05 1.05 0 1 0 2.1 0a1.05 1.05 0 1 0 -2.1 0ZM245.71 329.61a1.05 1.05 0 1 0 2.1 0a1.05 1.05 0 1 0 -2.1 0ZM233.53 329.79a1.05 1.05 0 1 0 2.1 0a1.05 1.05 0 1 0 -2.1 0ZM243.97 329.95a1.05 1.05 0 1 0 2.1 0a1.05 1.05 0 1 0 -2.1 0ZM237.01 330.26a1.05 1.05 0 1 0 2.1 0a1.05 1.05 0 1 0 -2.1 0ZM238.75 330.52a1.05 1.05 0 1 0 2.1 0a1.05 1.05 0 1 0 -2.1 0ZM240.49 330.73a1.05 1.05 0 1 0 2.1 0a1.05 1.05 0 1 0 -2.1 0ZM230.05 331.05a1.05 1.05 0 1 0 2.1 0a1.05 1.05 0 1 0 -2.1 0ZM242.23 331.21a1.05 1.05 0 1 0 2.1 0a1.05 1.05 0 1 0 -2.1 0ZM235.85 331.36a1.05 1.05 0 1 0 2.1 0a1.05 1.05 0 1 0 -2.1 0ZM243.58 331.6a1.05 1.05 0 1 0 2.1 0a1.05 1.05 0 1 0 -2.1 0ZM239.72 331.88a1.05 1.05 0 1 0 2.1 0a1.05 1.05 0 1 0 -2.1 0ZM241.65 332.1a1.05 1.05 0 1 0 2.1 0a1.05 1.05 0 1 0 -2.1 0ZM245.52 332.33a1.05 1.05 0 1 0 2.1 0a1.05 1.05 0 1 0 -2.1 0ZM230.05 332.56a1.05 1.05 0 1 0 2.1 0a1.05 1.05 0 1 0 -2.1 0ZM233.92 332.6a1.05 1.05 0 1 0 2.1 0a1.05 1.05 0 1 0 -2.1 0ZM237.78 332.84a1.05 1.05 0 1 0 2.1 0a1.05 1.05 0 1 0 -2.1 0ZM247.45 333.17a1.05 1.05 0 1 0 2.1 0a1.05 1.05 0 1 0 -2.1 0ZM231.98 333.38a1.05 1.05 0 1 0 2.1 0a1.05 1.05 0 1 0 -2.1 0ZM230.05 333.63a1.05 1.05 0 1 0 2.1 0a1.05 1.05 0 1 0 -2.1 0ZM231.98 333.73a1.05 1.05 0 1 0 2.1 0a1.05 1.05 0 1 0 -2.1 0ZM243.58 333.96a1.05 1.05 0 1 0 2.1 0a1.05 1.05 0 1 0 -2.1 0ZM235.85 334.16a1.05 1.05 0 1 0 2.1 0a1.05 1.05 0 1 0 -2.1 0ZM239.72 334.46a1.05 1.05 0 1 0 2.1 0a1.05 1.05 0 1 0 -2.1 0ZM245.52 334.7a1.05 1.05 0 1 0 2.1 0a1.05 1.05 0 1 0 -2.1 0ZM247.45 335a1.05 1.05 0 1 0 2.1 0a1.05 1.05 0 1 0 -2.1 0ZM233.92 335.05a1.05 1.05 0 1 0 2.1 0a1.05 1.05 0 1 0 -2.1 0ZM241.65 335.38a1.05 1.05 0 1 0 2.1 0a1.05 1.05 0 1 0 -2.1 0ZM237.78 335.63a1.05 1.05 0 1 0 2.1 0a1.05 1.05 0 1 0 -2.1 0ZM247.45 335.87a1.05 1.05 0 1 0 2.1 0a1.05 1.05 0 1 0 -2.1 0ZM240.49 335.95a1.05 1.05 0 1 0 2.1 0a1.05 1.05 0 1 0 -2.1 0ZM245.71 336.33a1.05 1.05 0 1 0 2.1 0a1.05 1.05 0 1 0 -2.1 0ZM238.75 336.54a1.05 1.05 0 1 0 2.1 0a1.05 1.05 0 1 0 -2.1 0ZM242.23 336.75a1.05 1.05 0 1 0 2.1 0a1.05 1.05 0 1 0 -2.1 0ZM243.97 336.91a1.05 1.05 0 1 0 2.1 0a1.05 1.05 0 1 0 -2.1 0ZM235.27 337.22a1.05 1.05 0 1 0 2.1 0a1.05 1.05 0 1 0 -2.1 0ZM233.53 337.3a1.05 1.05 0 1 0 2.1 0a1.05 1.05 0 1 0 -2.1 0ZM230.05 337.58a1.05 1.05 0 1 0 2.1 0a1.05 1.05 0 1 0 -2.1 0ZM237.01 337.83a1.05 1.05 0 1 0 2.1 0a1.05 1.05 0 1 0 -2.1 0ZM231.79 337.93a1.05 1.05 0 1 0 2.1 0a1.05 1.05 0 1 0 -2.1 0ZM239.72 338.11a1.05 1.05 0 1 0 2.1 0a1.05 1.05 0 1 0 -2.1 0ZM245.52 338.41a1.05 1.05 0 1 0 2.1 0a1.05 1.05 0 1 0 -2.1 0ZM247.45 338.62a1.05 1.05 0 1 0 2.1 0a1.05 1.05 0 1 0 -2.1 0ZM243.58 338.98a1.05 1.05 0 1 0 2.1 0a1.05 1.05 0 1 0 -2.1 0ZM241.65 339.07a1.05 1.05 0 1 0 2.1 0a1.05 1.05 0 1 0 -2.1 0ZM233.92 339.33a1.05 1.05 0 1 0 2.1 0a1.05 1.05 0 1 0 -2.1 0ZM230.05 339.45a1.05 1.05 0 1 0 2.1 0a1.05 1.05 0 1 0 -2.1 0ZM235.85 339.69a1.05 1.05 0 1 0 2.1 0a1.05 1.05 0 1 0 -2.1 0ZM231.98 340a1.05 1.05 0 1 0 2.1 0a1.05 1.05 0 1 0 -2.1 0ZM237.78 340.19a1.05 1.05 0 1 0 2.1 0a1.05 1.05 0 1 0 -2.1 0ZM240.93 340.41a1.05 1.05 0 1 0 2.1 0a1.05 1.05 0 1 0 -2.1 0ZM236.57 340.61a1.05 1.05 0 1 0 2.1 0a1.05 1.05 0 1 0 -2.1 0ZM245.28 340.91a1.05 1.05 0 1 0 2.1 0a1.05 1.05 0 1 0 -2.1 0ZM230.05 341.01a1.05 1.05 0 1 0 2.1 0a1.05 1.05 0 1 0 -2.1 0ZM232.22 341.3a1.05 1.05 0 1 0 2.1 0a1.05 1.05 0 1 0 -2.1 0ZM238.75 341.53a1.05 1.05 0 1 0 2.1 0a1.05 1.05 0 1 0 -2.1 0ZM234.4 341.86a1.05 1.05 0 1 0 2.1 0a1.05 1.05 0 1 0 -2.1 0ZM243.1 342.35a1.05 1.05 0 1 0 2.1 0a1.05 1.05 0 1 0 -2.1 0ZM247.45 342.51a1.05 1.05 0 1 0 2.1 0a1.05 1.05 0 1 0 -2.1 0ZM242.48 342.91a1.05 1.05 0 1 0 2.1 0a1.05 1.05 0 1 0 -2.1 0ZM237.51 343.03a1.05 1.05 0 1 0 2.1 0a1.05 1.05 0 1 0 -2.1 0ZM239.99 343.43a1.05 1.05 0 1 0 2.1 0a1.05 1.05 0 1 0 -2.1 0ZM244.96 343.82a1.05 1.05 0 1 0 2.1 0a1.05 1.05 0 1 0 -2.1 0ZM230.05 343.86a1.05 1.05 0 1 0 2.1 0a1.05 1.05 0 1 0 -2.1 0ZM235.02 344.37a1.05 1.05 0 1 0 2.1 0a1.05 1.05 0 1 0 -2.1 0ZM247.45 344.54a1.05 1.05 0 1 0 2.1 0a1.05 1.05 0 1 0 -2.1 0ZM232.54 344.79a1.05 1.05 0 1 0 2.1 0a1.05 1.05 0 1 0 -2.1 0ZM242.48 345.2a1.05 1.05 0 1 0 2.1 0a1.05 1.05 0 1 0 -2.1 0ZM230.05 345.48a1.05 1.05 0 1 0 2.1 0a1.05 1.05 0 1 0 -2.1 0ZM244.96 345.88a1.05 1.05 0 1 0 2.1 0a1.05 1.05 0 1 0 -2.1 0ZM237.51 346.05a1.05 1.05 0 1 0 2.1 0a1.05 1.05 0 1 0 -2.1 0ZM235.02 346.32a1.05 1.05 0 1 0 2.1 0a1.05 1.05 0 1 0 -2.1 0ZM232.54 346.76a1.05 1.05 0 1 0 2.1 0a1.05 1.05 0 1 0 -2.1 0ZM247.45 347.02a1.05 1.05 0 1 0 2.1 0a1.05 1.05 0 1 0 -2.1 0ZM239.99 347.28a1.05 1.05 0 1 0 2.1 0a1.05 1.05 0 1 0 -2.1 0ZM232.54 347.66a1.05 1.05 0 1 0 2.1 0a1.05 1.05 0 1 0 -2.1 0ZM247.45 347.92a1.05 1.05 0 1 0 2.1 0a1.05 1.05 0 1 0 -2.1 0ZM237.51 348.15a1.05 1.05 0 1 0 2.1 0a1.05 1.05 0 1 0 -2.1 0ZM242.48 348.59a1.05 1.05 0 1 0 2.1 0a1.05 1.05 0 1 0 -2.1 0ZM244.96 348.93a1.05 1.05 0 1 0 2.1 0a1.05 1.05 0 1 0 -2.1 0ZM230.05 349.23a1.05 1.05 0 1 0 2.1 0a1.05 1.05 0 1 0 -2.1 0ZM235.02 349.38a1.05 1.05 0 1 0 2.1 0a1.05 1.05 0 1 0 -2.1 0ZM239.99 349.74a1.05 1.05 0 1 0 2.1 0a1.05 1.05 0 1 0 -2.1 0ZM230.05 349.96a1.05 1.05 0 1 0 2.1 0a1.05 1.05 0 1 0 -2.1 0ZM238.75 350.27a1.05 1.05 0 1 0 2.1 0a1.05 1.05 0 1 0 -2.1 0ZM235.85 350.69a1.05 1.05 0 1 0 2.1 0a1.05 1.05 0 1 0 -2.1 0ZM232.95 350.8a1.05 1.05 0 1 0 2.1 0a1.05 1.05 0 1 0 -2.1 0ZM247.45 351.25a1.05 1.05 0 1 0 2.1 0a1.05 1.05 0 1 0 -2.1 0ZM241.65 351.61a1.05 1.05 0 1 0 2.1 0a1.05 1.05 0 1 0 -2.1 0ZM244.55 351.9a1.05 1.05 0 1 0 2.1 0a1.05 1.05 0 1 0 -2.1 0ZM242.48 352.16a1.05 1.05 0 1 0 2.1 0a1.05 1.05 0 1 0 -2.1 0ZM232.54 352.29a1.05 1.05 0 1 0 2.1 0a1.05 1.05 0 1 0 -2.1 0ZM235.02 352.83a1.05 1.05 0 1 0 2.1 0a1.05 1.05 0 1 0 -2.1 0ZM239.99 352.85a1.05 1.05 0 1 0 2.1 0a1.05 1.05 0 1 0 -2.1 0ZM244.96 353.32a1.05 1.05 0 1 0 2.1 0a1.05 1.05 0 1 0 -2.1 0ZM230.05 353.57a1.05 1.05 0 1 0 2.1 0a1.05 1.05 0 1 0 -2.1 0ZM247.45 353.76a1.05 1.05 0 1 0 2.1 0a1.05 1.05 0 1 0 -2.1 0ZM237.51 354.15a1.05 1.05 0 1 0 2.1 0a1.05 1.05 0 1 0 -2.1 0ZM244.55 354.57a1.05 1.05 0 1 0 2.1 0a1.05 1.05 0 1 0 -2.1 0ZM230.05 354.9a1.05 1.05 0 1 0 2.1 0a1.05 1.05 0 1 0 -2.1 0ZM238.75 354.99a1.05 1.05 0 1 0 2.1 0a1.05 1.05 0 1 0 -2.1 0ZM247.45 355.41a1.05 1.05 0 1 0 2.1 0a1.05 1.05 0 1 0 -2.1 0ZM232.95 355.81a1.05 1.05 0 1 0 2.1 0a1.05 1.05 0 1 0 -2.1 0ZM235.85 356.12a1.05 1.05 0 1 0 2.1 0a1.05 1.05 0 1 0 -2.1 0ZM241.65 356.36a1.05 1.05 0 1 0 2.1 0a1.05 1.05 0 1 0 -2.1 0ZM238.75 357.61a1.05 1.05 0 1 0 2.1 0a1.05 1.05 0 1 0 -2.1 0ZM233.75 358.09a1.05 1.05 0 1 0 2.1 0a1.05 1.05 0 1 0 -2.1 0ZM243.75 359.39a1.05 1.05 0 1 0 2.1 0a1.05 1.05 0 1 0 -2.1 0ZM241.25 360.01a1.05 1.05 0 1 0 2.1 0a1.05 1.05 0 1 0 -2.1 0ZM231.25 360.73a1.05 1.05 0 1 0 2.1 0a1.05 1.05 0 1 0 -2.1 0ZM236.25 361.86a1.05 1.05 0 1 0 2.1 0a1.05 1.05 0 1 0 -2.1 0ZM246.25 362.18a1.05 1.05 0 1 0 2.1 0a1.05 1.05 0 1 0 -2.1 0ZM241.25 363.34a1.05 1.05 0 1 0 2.1 0a1.05 1.05 0 1 0 -2.1 0ZM236.25 364.23a1.05 1.05 0 1 0 2.1 0a1.05 1.05 0 1 0 -2.1 0Z" fill="#4b1570"/>
<path d="M266.1 241.49L267.3 239.33L264.9 239.33ZM266.1 252.48L267.3 250.32L264.9 250.32ZM266.1 256.38L267.3 254.22L264.9 254.22ZM261.1 257.43L262.3 255.27L259.9 255.27ZM271.1 257.76L272.3 255.6L269.9 255.6ZM268.6 259.71L269.8 257.55L267.4 257.55ZM263.6 260.96L264.8 258.8L262.4 258.8ZM263.6 262.21L264.8 260.05L262.4 260.05ZM268.6 263.11L269.8 260.95L267.4 260.95ZM266.1 264.52L267.3 262.36L264.9 262.36ZM271.1 265.72L272.3 263.56L269.9 263.56ZM261.1 266.57L262.3 264.41L259.9 264.41ZM266.1 267.17L267.3 265.01L264.9 265.01ZM261.75 267.76L262.95 265.6L260.55 265.6ZM274.8 268.07L276 265.91L273.6 265.91ZM270.45 268.69L271.65 266.53L269.25 266.53ZM257.4 269.28L258.6 267.12L256.2 267.12ZM273.6 270.02L274.8 267.86L272.4 267.86ZM263.6 270.81L264.8 268.65L262.4 268.65ZM258.6 271.02L259.8 268.86L257.4 268.86ZM268.6 271.88L269.8 269.72L267.4 269.72ZM273.6 272.68L274.8 270.52L272.4 270.52ZM268.6 273.26L269.8 271.1L267.4 271.1ZM258.6 273.38L259.8 271.22L257.4 271.22ZM263.6 273.97L264.8 271.81L262.4 271.81ZM273.6 274.92L274.8 272.76L272.4 272.76ZM258.6 275.65L259.8 273.49L257.4 273.49ZM268.6 276L269.8 273.84L267.4 273.84ZM263.6 276.94L264.8 274.78L262.4 274.78ZM261.75 277.52L262.95 275.36L260.55 275.36ZM274.8 277.93L276 275.77L273.6 275.77ZM270.45 278.69L271.65 276.53L269.25 276.53ZM266.1 279.07L267.3 276.91L264.9 276.91ZM257.4 279.71L258.6 277.55L256.2 277.55ZM258.6 280.21L259.8 278.05L257.4 278.05ZM263.6 280.96L264.8 278.8L262.4 278.8ZM268.6 281.71L269.8 279.55L267.4 279.55ZM273.6 282.17L274.8 280.01L272.4 280.01ZM268.6 282.7L269.8 280.54L267.4 280.54ZM263.6 283.26L264.8 281.1L262.4 281.1ZM273.6 283.75L274.8 281.59L272.4 281.59ZM258.6 284.54L259.8 282.38L257.4 282.38ZM268.6 284.91L269.8 282.75L267.4 282.75ZM273.6 285.89L274.8 283.73L272.4 283.73ZM258.6 286.54L259.8 284.38L257.4 284.38ZM263.6 286.82L264.8 284.66L262.4 284.66ZM274.8 287.65L276 285.49L273.6 285.49ZM271.32 287.88L272.52 285.72L270.12 285.72ZM267.84 289.04L269.04 286.88L266.64 286.88ZM257.4 289.24L258.6 287.08L256.2 287.08ZM260.88 289.6L262.08 287.44L259.68 287.44ZM264.36 289.69L265.56 287.53L263.16 287.53ZM268.28 289.93L269.48 287.77L267.08 287.77ZM259.58 290.23L260.78 288.07L258.38 288.07ZM266.1 290.5L267.3 288.34L264.9 288.34ZM272.62 290.85L273.82 288.69L271.43 288.69ZM261.75 291.06L262.95 288.9L260.55 288.9ZM274.8 291.49L276 289.33L273.6 289.33ZM270.45 291.56L271.65 289.4L269.25 289.4ZM263.93 292.04L265.12 289.88L262.73 289.88ZM257.4 292.07L258.6 289.91L256.2 289.91ZM272.62 292.37L273.82 290.21L271.43 290.21ZM268.28 292.7L269.48 290.54L267.08 290.54ZM274.8 292.93L276 290.77L273.6 290.77ZM263.93 293.32L265.12 291.16L262.73 291.16ZM270.45 293.42L271.65 291.26L269.25 291.26ZM259.58 293.75L260.78 291.59L258.38 291.59ZM257.4 294L258.6 291.84L256.2 291.84ZM266.1 294.46L267.3 292.3L264.9 292.3ZM261.75 294.48L262.95 292.32L260.55 292.32ZM268.28 294.92L269.48 292.76L267.08 292.76ZM272.62 295.18L273.82 293.02L271.43 293.02ZM261.75 295.38L262.95 293.22L260.55 293.22ZM274.8 295.8L276 293.64L273.6 293.64ZM266.1 296.03L267.3 293.87L264.9 293.87ZM263.93 296.33L265.12 294.17L262.73 294.17ZM257.4 296.4L258.6 294.24L256.2 294.24ZM270.45 296.76L271.65 294.6L269.25 294.6ZM259.58 297.05L260.78 294.89L258.38 294.89ZM257.4 297.32L258.6 295.16L256.2 295.16ZM259.58 297.52L260.78 295.36L258.38 295.36ZM266.1 297.89L267.3 295.73L264.9 295.73ZM272.62 298.06L273.82 295.9L271.43 295.9ZM263.93 298.37L265.12 296.21L262.73 296.21ZM274.8 298.57L276 296.41L273.6 296.41ZM268.28 298.95L269.48 296.79L267.08 296.79ZM270.45 299.18L271.65 297.02L269.25 297.02ZM261.75 299.43L262.95 297.27L260.55 297.27ZM272.62 299.79L273.82 297.63L271.43 297.63ZM263.93 299.92L265.12 297.76L262.73 297.76ZM259.58 300.35L260.78 298.19L258.38 298.19ZM274.8 300.43L276 298.27L273.6 298.27ZM266.1 300.83L267.3 298.67L264.9 298.67ZM268.28 300.98L269.48 298.82L267.08 298.82ZM261.75 301.35L262.95 299.19L260.55 299.19ZM257.4 301.52L258.6 299.36L256.2 299.36ZM270.45 301.84L271.65 299.68L269.25 299.68ZM270.45 302.02L271.65 299.86L269.25 299.86ZM261.75 302.41L262.95 300.25L260.55 300.25ZM274.8 302.77L276 300.61L273.6 300.61ZM266.1 303.04L267.3 300.88L264.9 300.88ZM263.93 303.3L265.12 301.14L262.73 301.14ZM259.58 303.48L260.78 301.32L258.38 301.32ZM272.62 303.6L273.82 301.44L271.43 301.44ZM268.28 303.91L269.48 301.75L267.08 301.75ZM257.4 304.21L258.6 302.05L256.2 302.05ZM264.36 304.59L265.56 302.43L263.16 302.43ZM266.1 304.82L267.3 302.66L264.9 302.66ZM269.58 305.07L270.78 302.91L268.38 302.91ZM273.06 305.3L274.26 303.14L271.86 303.14ZM262.62 305.7L263.82 303.54L261.42 303.54ZM257.4 305.96L258.6 303.8L256.2 303.8ZM271.32 306.14L272.52 303.98L270.12 303.98ZM259.14 306.29L260.34 304.13L257.94 304.13ZM274.8 306.42L276 304.26L273.6 304.26ZM260.88 306.52L262.08 304.36L259.68 304.36ZM267.84 306.72L269.04 304.56L266.64 304.56ZM264.09 306.93L265.29 304.77L262.89 304.77ZM261.42 307L262.62 304.84L260.22 304.84ZM272.12 307.21L273.32 305.05L270.92 305.05ZM266.77 307.34L267.97 305.18L265.57 305.18ZM269.45 307.6L270.65 305.44L268.25 305.44ZM270.78 307.75L271.98 305.59L269.58 305.59ZM262.75 307.78L263.95 305.62L261.55 305.62ZM258.74 307.99L259.94 305.83L257.54 305.83ZM265.43 308.24L266.63 306.08L264.23 306.08ZM274.8 308.26L276 306.1L273.6 306.1ZM268.11 308.49L269.31 306.33L266.91 306.33ZM273.46 308.59L274.66 306.43L272.26 306.43ZM257.4 308.79L258.6 306.63L256.2 306.63ZM260.08 308.95L261.28 306.79L258.88 306.79ZM274.8 309.2L276 307.04L273.6 307.04ZM261.13 309.23L262.33 307.07L259.93 307.07ZM257.4 309.49L258.6 307.33L256.2 307.33ZM263.61 309.62L264.81 307.46L262.41 307.46ZM271.07 309.83L272.27 307.67L269.87 307.67ZM268.59 309.9L269.79 307.74L267.39 307.74ZM272.31 310.15L273.51 307.99L271.11 307.99ZM266.1 310.26L267.3 308.1L264.9 308.1ZM264.86 310.49L266.06 308.33L263.66 308.33ZM269.83 310.53L271.03 308.37L268.63 308.37ZM258.64 310.78L259.84 308.62L257.44 308.62ZM273.56 310.99L274.76 308.83L272.36 308.83ZM267.34 311.09L268.54 308.93L266.14 308.93ZM259.89 311.25L261.09 309.09L258.69 309.09ZM262.37 311.36L263.57 309.2L261.17 309.2ZM272.12 311.52L273.32 309.36L270.92 309.36ZM273.46 311.72L274.66 309.56L272.26 309.56ZM266.77 311.9L267.97 309.74L265.57 309.74ZM261.42 312.05L262.62 309.89L260.22 309.89ZM262.75 312.24L263.95 310.08L261.55 310.08ZM268.11 312.43L269.31 310.27L266.91 310.27ZM274.8 312.5L276 310.34L273.6 310.34ZM260.08 312.62L261.28 310.46L258.88 310.46ZM258.74 312.89L259.94 310.73L257.54 310.73ZM265.43 313.08L266.63 310.92L264.23 310.92ZM270.78 313.14L271.98 310.98L269.58 310.98ZM269.45 313.34L270.65 311.18L268.25 311.18ZM257.4 313.56L258.6 311.4L256.2 311.4ZM264.09 313.64L265.29 311.48L262.89 311.48ZM264.09 313.81L265.29 311.65L262.89 311.65ZM273.46 314.01L274.66 311.85L272.26 311.85ZM268.11 314.08L269.31 311.92L266.91 311.92ZM272.12 314.33L273.32 312.17L270.92 312.17ZM270.78 314.49L271.98 312.33L269.58 312.33ZM258.74 314.54L259.94 312.38L257.54 312.38ZM262.75 314.77L263.95 312.61L261.55 312.61ZM265.43 315.02L266.63 312.86L264.23 312.86ZM257.4 315.06L258.6 312.9L256.2 312.9ZM261.42 315.3L262.62 313.14L260.22 313.14ZM269.45 315.47L270.65 313.31L268.25 313.31ZM260.08 315.51L261.28 313.35L258.88 313.35ZM266.77 315.78L267.97 313.62L265.57 313.62ZM274.8 315.97L276 313.81L273.6 313.81ZM265.43 316.03L266.63 313.87L264.23 313.87ZM258.74 316.24L259.94 314.08L257.54 314.08ZM260.08 316.39L261.28 314.23L258.88 314.23ZM266.77 316.53L267.97 314.37L265.57 314.37ZM262.75 316.64L263.95 314.48L261.55 314.48ZM273.46 316.84L274.66 314.68L272.26 314.68ZM269.45 317.11L270.65 314.95L268.25 314.95ZM264.09 317.19L265.29 315.03L262.89 315.03ZM270.78 317.42L271.98 315.26L269.58 315.26ZM268.11 317.6L269.31 315.44L266.91 315.44ZM257.4 317.64L258.6 315.48L256.2 315.48ZM274.8 317.91L276 315.75L273.6 315.75ZM272.12 317.94L273.32 315.78L270.92 315.78ZM261.42 318.11L262.62 315.95L260.22 315.95ZM258.74 318.3L259.94 316.14L257.54 316.14ZM266.77 318.44L267.97 316.28L265.57 316.28ZM257.4 318.71L258.6 316.55L256.2 316.55ZM272.12 318.74L273.32 316.58L270.92 316.58ZM274.8 319.03L276 316.87L273.6 316.87ZM260.08 319.18L261.28 317.02L258.88 317.02ZM264.09 319.25L265.29 317.09L262.89 317.09ZM268.11 319.47L269.31 317.31L266.91 317.31ZM273.46 319.62L274.66 317.46L272.26 317.46ZM261.42 319.77L262.62 317.61L260.22 317.61ZM269.45 319.87L270.65 317.71L268.25 317.71ZM262.75 320.03L263.95 317.87L261.55 317.87ZM265.43 320.33L266.63 318.17L264.23 318.17ZM270.78 320.43L271.98 318.27L269.58 318.27ZM264.09 320.51L265.29 318.35L262.89 318.35ZM260.08 320.7L261.28 318.54L258.88 318.54ZM274.8 320.87L276 318.71L273.6 318.71ZM262.75 321.08L263.95 318.92L261.55 318.92ZM273.46 321.29L274.66 319.13L272.26 319.13ZM258.74 321.32L259.94 319.16L257.54 319.16ZM265.43 321.5L266.63 319.34L264.23 319.34ZM268.11 321.75L269.31 319.59L266.91 319.59ZM270.78 321.89L271.98 319.73L269.58 319.73ZM261.42 322.01L262.62 319.85L260.22 319.85ZM272.12 322.22L273.32 320.06L270.92 320.06ZM266.77 322.3L267.97 320.14L265.57 320.14ZM269.45 322.59L270.65 320.43L268.25 320.43ZM257.4 322.63L258.6 320.47L256.2 320.47ZM261.13 322.8L262.33 320.64L259.93 320.64ZM262.37 323L263.57 320.84L261.17 320.84ZM274.8 323.14L276 320.98L273.6 320.98ZM272.31 323.35L273.51 321.19L271.11 321.19ZM269.83 323.48L271.03 321.32L268.63 321.32ZM271.07 323.65L272.27 321.49L269.87 321.49ZM268.59 323.77L269.79 321.61L267.39 321.61ZM257.4 324L258.6 321.84L256.2 321.84ZM267.34 324.14L268.54 321.98L266.14 321.98ZM266.1 324.2L267.3 322.04L264.9 322.04ZM258.64 324.38L259.84 322.22L257.44 322.22ZM273.56 324.45L274.76 322.29L272.36 322.29ZM264.86 324.69L266.06 322.53L263.66 322.53ZM263.61 324.8L264.81 322.64L262.41 322.64ZM259.89 324.85L261.09 322.69L258.69 322.69ZM267.19 325.04L268.39 322.88L265.99 322.88ZM260.66 325.18L261.86 323.02L259.46 323.02ZM269.36 325.28L270.56 323.12L268.16 323.12ZM265.01 325.46L266.21 323.3L263.81 323.3ZM271.54 325.58L272.74 323.42L270.34 323.42ZM262.84 325.67L264.04 323.51L261.64 323.51ZM261.75 325.82L262.95 323.66L260.55 323.66ZM258.49 325.91L259.69 323.75L257.29 323.75ZM272.62 326.09L273.82 323.93L271.43 323.93ZM273.71 326.21L274.91 324.05L272.51 324.05ZM268.28 326.33L269.48 324.17L267.08 324.17ZM263.93 326.43L265.12 324.27L262.73 324.27ZM266.1 326.6L267.3 324.44L264.9 324.44ZM270.45 326.78L271.65 324.62L269.25 324.62ZM257.4 326.84L258.6 324.68L256.2 324.68ZM259.58 327.04L260.78 324.88L258.38 324.88ZM274.8 327.1L276 324.94L273.6 324.94ZM274.8 327.26L276 325.1L273.6 325.1ZM272.62 327.42L273.82 325.26L271.43 325.26ZM257.4 327.53L258.6 325.37L256.2 325.37ZM271.54 327.63L272.74 325.47L270.34 325.47ZM263.93 327.75L265.12 325.59L262.73 325.59ZM266.1 327.94L267.3 325.78L264.9 325.78ZM265.01 328.07L266.21 325.91L263.81 325.91ZM259.58 328.18L260.78 326.02L258.38 326.02ZM261.75 328.35L262.95 326.19L260.55 326.19ZM273.71 328.43L274.91 326.27L272.51 326.27ZM258.49 328.51L259.69 326.35L257.29 326.35ZM260.66 328.7L261.86 326.54L259.46 326.54ZM269.36 328.78L270.56 326.62L268.16 326.62ZM270.45 329.01L271.65 326.85L269.25 326.85ZM268.28 329.08L269.48 326.92L267.08 326.92ZM262.84 329.23L264.04 327.07L261.64 327.07ZM267.19 329.3L268.39 327.14L265.99 327.14ZM259.58 329.54L260.78 327.38L258.38 327.38ZM270.45 329.65L271.65 327.49L269.25 327.49ZM263.93 329.74L265.12 327.58L262.73 327.58ZM269.36 329.83L270.56 327.67L268.16 327.67ZM265.01 330.02L266.21 327.86L263.81 327.86ZM258.49 330.11L259.69 327.95L257.29 327.95ZM257.4 330.33L258.6 328.17L256.2 328.17ZM268.28 330.41L269.48 328.25L267.08 328.25ZM262.84 330.5L264.04 328.34L261.64 328.34ZM272.62 330.63L273.82 328.47L271.43 328.47ZM266.1 330.82L267.3 328.66L264.9 328.66ZM271.54 330.94L272.74 328.78L270.34 328.78ZM261.75 331L262.95 328.84L260.55 328.84ZM267.19 331.24L268.39 329.08L265.99 329.08ZM260.66 331.3L261.86 329.14L259.46 329.14ZM273.71 331.43L274.91 329.27L272.51 329.27ZM274.8 331.64L276 329.48L273.6 329.48ZM265.01 331.74L266.21 329.58L263.81 329.58ZM272.62 331.8L273.82 329.64L271.43 329.64ZM274.8 331.94L276 329.78L273.6 329.78ZM267.19 332.05L268.39 329.89L265.99 329.89ZM269.36 332.3L270.56 330.14L268.16 330.14ZM260.66 332.32L261.86 330.16L259.46 330.16ZM263.93 332.52L265.12 330.36L262.73 330.36ZM262.84 332.69L264.04 330.53L261.64 330.53ZM257.4 332.8L258.6 330.64L256.2 330.64ZM266.1 332.86L267.3 330.7L264.9 330.7ZM258.49 333.09L259.69 330.93L257.29 330.93ZM261.75 333.2L262.95 331.04L260.55 331.04ZM271.54 333.23L272.74 331.07L270.34 331.07ZM273.71 333.43L274.91 331.27L272.51 331.27ZM259.58 333.57L260.78 331.41L258.38 331.41ZM270.45 333.71L271.65 331.55L269.25 331.55ZM268.28 333.84L269.48 331.68L267.08 331.68ZM260.66 334L261.86 331.84L259.46 331.84ZM274.8 334.09L276 331.93L273.6 331.93ZM270.45 334.22L271.65 332.06L269.25 332.06ZM257.4 334.31L258.6 332.15L256.2 332.15ZM261.75 334.48L262.95 332.32L260.55 332.32ZM272.62 334.58L273.82 332.42L271.43 332.42ZM273.71 334.67L274.91 332.51L272.51 332.51ZM265.01 334.91L266.21 332.75L263.81 332.75ZM258.49 335.01L259.69 332.85L257.29 332.85ZM268.28 335.08L269.48 332.92L267.08 332.92ZM271.54 335.26L272.74 333.1L270.34 333.1ZM259.58 335.41L260.78 333.25L258.38 333.25ZM267.19 335.57L268.39 333.41L265.99 333.41ZM262.84 335.68L264.04 333.52L261.64 333.52ZM263.93 335.77L265.12 333.61L262.73 333.61ZM266.1 335.9L267.3 333.74L264.9 333.74ZM269.36 336.06L270.56 333.9L268.16 333.9ZM262.52 336.21L263.72 334.05L261.32 334.05ZM264.56 336.28L265.76 334.12L263.36 334.12ZM269.68 336.49L270.88 334.33L268.48 334.33ZM258.42 336.63L259.62 334.47L257.22 334.47ZM270.71 336.64L271.91 334.48L269.51 334.48ZM271.73 336.78L272.93 334.62L270.53 334.62ZM273.78 336.98L274.98 334.82L272.58 334.82ZM265.59 337.03L266.79 334.87L264.39 334.87ZM263.54 337.16L264.74 335L262.34 335ZM274.8 337.36L276 335.2L273.6 335.2ZM261.49 337.54L262.69 335.38L260.29 335.38ZM259.45 337.65L260.65 335.49L258.25 335.49ZM260.47 337.75L261.67 335.59L259.27 335.59ZM272.75 337.94L273.95 335.78L271.55 335.78ZM268.66 338.04L269.86 335.88L267.46 335.88ZM257.4 338.14L258.6 335.98L256.2 335.98ZM267.64 338.21L268.84 336.05L266.44 336.05ZM266.61 338.37L267.81 336.21L265.41 336.21ZM264.86 338.54L266.06 336.38L263.66 336.38ZM267.34 338.71L268.54 336.55L266.14 336.55ZM261.13 338.8L262.33 336.64L259.93 336.64ZM258.64 338.99L259.84 336.83L257.44 336.83ZM259.89 339.19L261.09 337.03L258.69 337.03ZM266.1 339.36L267.3 337.2L264.9 337.2ZM274.8 339.38L276 337.22L273.6 337.22ZM262.37 339.62L263.57 337.46L261.17 337.46ZM263.61 339.77L264.81 337.61L262.41 337.61ZM273.56 339.98L274.76 337.82L272.36 337.82ZM271.07 340.06L272.27 337.9L269.87 337.9ZM272.31 340.21L273.51 338.05L271.11 338.05ZM257.4 340.37L258.6 338.21L256.2 338.21ZM269.83 340.58L271.03 338.42L268.63 338.42ZM268.59 340.69L269.79 338.53L267.39 338.53ZM262.37 340.91L263.57 338.75L261.17 338.75ZM269.83 341L271.03 338.84L268.63 338.84ZM264.86 341.25L266.06 339.09L263.66 339.09ZM272.31 341.36L273.51 339.2L271.11 339.2ZM271.07 341.42L272.27 339.26L269.87 339.26ZM258.64 341.71L259.84 339.55L257.44 339.55ZM257.4 341.75L258.6 339.59L256.2 339.59ZM267.34 341.96L268.54 339.8L266.14 339.8ZM273.56 342.09L274.76 339.93L272.36 339.93ZM266.1 342.31L267.3 340.15L264.9 340.15ZM274.8 342.39L276 340.23L273.6 340.23ZM263.61 342.62L264.81 340.46L262.41 340.46ZM261.13 342.68L262.33 340.52L259.93 340.52ZM259.89 342.85L261.09 340.69L258.69 340.69ZM268.59 343.05L269.79 340.89L267.39 340.89ZM266.1 343.17L267.3 341.01L264.9 341.01ZM258.64 343.36L259.84 341.2L257.44 341.2ZM272.31 343.58L273.51 341.42L271.11 341.42ZM261.13 343.61L262.33 341.45L259.93 341.45ZM273.56 343.76L274.76 341.6L272.36 341.6ZM268.59 344.05L269.79 341.89L267.39 341.89ZM263.61 344.15L264.81 341.99L262.41 341.99ZM267.34 344.34L268.54 342.18L266.14 342.18ZM257.4 344.5L258.6 342.34L256.2 342.34ZM271.07 344.61L272.27 342.45L269.87 342.45ZM264.86 344.84L266.06 342.68L263.66 342.68ZM262.37 344.99L263.57 342.83L261.17 342.83ZM274.8 345.09L276 342.93L273.6 342.93ZM259.89 345.26L261.09 343.1L258.69 343.1ZM269.83 345.32L271.03 343.16L268.63 343.16ZM262.37 345.53L263.57 343.37L261.17 343.37ZM273.56 345.78L274.76 343.62L272.36 343.62ZM274.8 345.93L276 343.77L273.6 343.77ZM268.59 346L269.79 343.84L267.39 343.84ZM263.61 346.1L264.81 343.94L262.41 343.94ZM266.1 346.3L267.3 344.14L264.9 344.14ZM258.64 346.44L259.84 344.28L257.44 344.28ZM264.86 346.61L266.06 344.45L263.66 344.45ZM269.83 346.87L271.03 344.71L268.63 344.71ZM267.34 346.91L268.54 344.75L266.14 344.75ZM271.07 347.1L272.27 344.94L269.87 344.94ZM272.31 347.23L273.51 345.07L271.11 345.07ZM257.4 347.36L258.6 345.2L256.2 345.2ZM259.89 347.58L261.09 345.42L258.69 345.42ZM261.13 347.71L262.33 345.55L259.93 345.55ZM273.56 347.9L274.76 345.74L272.36 345.74ZM263.61 348.05L264.81 345.89L262.41 345.89ZM257.4 348.17L258.6 346.01L256.2 346.01ZM272.31 348.31L273.51 346.15L271.11 346.15ZM258.64 348.57L259.84 346.41L257.44 346.41ZM262.37 348.66L263.57 346.5L261.17 346.5ZM266.1 348.86L267.3 346.7L264.9 346.7ZM274.8 348.99L276 346.83L273.6 346.83ZM271.07 349.11L272.27 346.95L269.87 346.95ZM264.86 349.26L266.06 347.1L263.66 347.1ZM259.89 349.44L261.09 347.28L258.69 347.28ZM261.13 349.57L262.33 347.41L259.93 347.41ZM269.83 349.71L271.03 347.55L268.63 347.55ZM267.34 349.98L268.54 347.82L266.14 347.82ZM268.59 350.02L269.79 347.86L267.39 347.86ZM262.75 350.16L263.95 348L261.55 348ZM258.74 350.46L259.94 348.3L257.54 348.3ZM260.08 350.53L261.28 348.37L258.88 348.37ZM269.45 350.74L270.65 348.58L268.25 348.58ZM264.09 350.88L265.29 348.72L262.89 348.72ZM261.42 351L262.62 348.84L260.22 348.84ZM274.8 351.23L276 349.07L273.6 349.07ZM265.43 351.28L266.63 349.12L264.23 349.12ZM273.46 351.55L274.66 349.39L272.26 349.39ZM268.11 351.6L269.31 349.44L266.91 349.44ZM266.77 351.84L267.97 349.68L265.57 349.68ZM272.12 351.93L273.32 349.77L270.92 349.77ZM257.4 352.15L258.6 349.99L256.2 349.99ZM270.78 352.33L271.98 350.17L269.58 350.17ZM264.86 352.45L266.06 350.29L263.66 350.29ZM269.83 352.63L271.03 350.47L268.63 350.47ZM267.34 352.78L268.54 350.62L266.14 350.62ZM272.31 352.83L273.51 350.67L271.11 350.67ZM274.8 353.12L276 350.96L273.6 350.96ZM257.4 353.23L258.6 351.07L256.2 351.07ZM259.89 353.28L261.09 351.12L258.69 351.12ZM262.37 354.15L263.57 351.99L261.17 351.99ZM273.6 354.68L274.8 352.52L272.4 352.52ZM268.6 355.42L269.8 353.26L267.4 353.26ZM263.6 355.82L264.8 353.66L262.4 353.66ZM258.6 356.41L259.8 354.25L257.4 354.25ZM274.8 357.04L276 354.88L273.6 354.88ZM261.75 357.23L262.95 355.07L260.55 355.07ZM270.45 357.83L271.65 355.67L269.25 355.67ZM266.1 358.17L267.3 356.01L264.9 356.01ZM257.4 358.97L258.6 356.81L256.2 356.81ZM261.1 359.71L262.3 357.55L259.9 357.55ZM266.1 360.36L267.3 358.2L264.9 358.2ZM271.1 361.83L272.3 359.67L269.9 359.67ZM271.1 362.39L272.3 360.23L269.9 360.23ZM261.1 362.9L262.3 360.74L259.9 360.74ZM266.1 364.04L267.3 361.88L264.9 361.88ZM266.1 365.52L267.3 363.36L264.9 363.36Z" fill="#2aab3c"/>
<path d="M291.4 231.03a1.1 1.1 0 1 0 2.2 0a1.1 1.1 0 1 0 -2.2 0ZM288.9 257.78a1.1 1.1 0 1 0 2.2 0a1.1 1.1 0 1 0 -2.2 0ZM293.9 259.82a1.1 1.1 0 1 0 2.2 0a1.1 1.1 0 1 0 -2.2 0ZM291.4 262.2a1.1 1.1 0 1 0 2.2 0a1.1 1.1 0 1 0 -2.2 0ZM291.4 265.56a1.1 1.1 0 1 0 2.2 0a1.1 1.1 0 1 0 -2.2 0ZM293.9 268.01a1.1 1.1 0 1 0 2.2 0a1.1 1.1 0 1 0 -2.2 0ZM288.9 270.1a1.1 1.1 0 1 0 2.2 0a1.1 1.1 0 1 0 -2.2 0ZM286.4 270.47a1.1 1.1 0 1 0 2.2 0a1.1 1.1 0 1 0 -2.2 0ZM291.4 272.23a1.1 1.1 0 1 0 2.2 0a1.1 1.1 0 1 0 -2.2 0ZM296.4 272.34a1.1 1.1 0 1 0 2.2 0a1.1 1.1 0 1 0 -2.2 0ZM291.4 274.04a1.1 1.1 0 1 0 2.2 0a1.1 1.1 0 1 0 -2.2 0ZM286.4 274.42a1.1 1.1 0 1 0 2.2 0a1.1 1.1 0 1 0 -2.2 0ZM296.4 275.82a1.1 1.1 0 1 0 2.2 0a1.1 1.1 0 1 0 -2.2 0ZM291.4 276.81a1.1 1.1 0 1 0 2.2 0a1.1 1.1 0 1 0 -2.2 0ZM286.4 277.38a1.1 1.1 0 1 0 2.2 0a1.1 1.1 0 1 0 -2.2 0ZM296.4 278.57a1.1 1.1 0 1 0 2.2 0a1.1 1.1 0 1 0 -2.2 0ZM291.4 279.36a1.1 1.1 0 1 0 2.2 0a1.1 1.1 0 1 0 -2.2 0ZM296.4 279.8a1.1 1.1 0 1 0 2.2 0a1.1 1.1 0 1 0 -2.2 0ZM286.4 280.62a1.1 1.1 0 1 0 2.2 0a1.1 1.1 0 1 0 -2.2 0ZM286.4 282.14a1.1 1.1 0 1 0 2.2 0a1.1 1.1 0 1 0 -2.2 0ZM291.4 282.91a1.1 1.1 0 1 0 2.2 0a1.1 1.1 0 1 0 -2.2 0ZM296.4 283.96a1.1 1.1 0 1 0 2.2 0a1.1 1.1 0 1 0 -2.2 0ZM291.4 284.94a1.1 1.1 0 1 0 2.2 0a1.1 1.1 0 1 0 -2.2 0ZM286.4 286.08a1.1 1.1 0 1 0 2.2 0a1.1 1.1 0 1 0 -2.2 0ZM296.4 286.82a1.1 1.1 0 1 0 2.2 0a1.1 1.1 0 1 0 -2.2 0ZM297.61 287.65a1.1 1.1 0 1 0 2.2 0a1.1 1.1 0 1 0 -2.2 0ZM287.67 288.08a1.1 1.1 0 1 0 2.2 0a1.1 1.1 0 1 0 -2.2 0ZM292.64 288.18a1.1 1.1 0 1 0 2.2 0a1.1 1.1 0 1 0 -2.2 0ZM290.16 288.54a1.1 1.1 0 1 0 2.2 0a1.1 1.1 0 1 0 -2.2 0ZM282.7 288.75a1.1 1.1 0 1 0 2.2 0a1.1 1.1 0 1 0 -2.2 0ZM300.1 289.14a1.1 1.1 0 1 0 2.2 0a1.1 1.1 0 1 0 -2.2 0ZM295.13 289.33a1.1 1.1 0 1 0 2.2 0a1.1 1.1 0 1 0 -2.2 0ZM285.19 289.75a1.1 1.1 0 1 0 2.2 0a1.1 1.1 0 1 0 -2.2 0ZM289.22 290.01a1.1 1.1 0 1 0 2.2 0a1.1 1.1 0 1 0 -2.2 0ZM282.7 290.2a1.1 1.1 0 1 0 2.2 0a1.1 1.1 0 1 0 -2.2 0ZM284.88 290.52a1.1 1.1 0 1 0 2.2 0a1.1 1.1 0 1 0 -2.2 0ZM300.1 290.81a1.1 1.1 0 1 0 2.2 0a1.1 1.1 0 1 0 -2.2 0ZM291.4 290.92a1.1 1.1 0 1 0 2.2 0a1.1 1.1 0 1 0 -2.2 0ZM297.92 291.26a1.1 1.1 0 1 0 2.2 0a1.1 1.1 0 1 0 -2.2 0ZM295.75 291.64a1.1 1.1 0 1 0 2.2 0a1.1 1.1 0 1 0 -2.2 0ZM287.05 291.71a1.1 1.1 0 1 0 2.2 0a1.1 1.1 0 1 0 -2.2 0ZM293.57 291.93a1.1 1.1 0 1 0 2.2 0a1.1 1.1 0 1 0 -2.2 0ZM285.19 292.27a1.1 1.1 0 1 0 2.2 0a1.1 1.1 0 1 0 -2.2 0ZM292.64 292.73a1.1 1.1 0 1 0 2.2 0a1.1 1.1 0 1 0 -2.2 0ZM295.13 293a1.1 1.1 0 1 0 2.2 0a1.1 1.1 0 1 0 -2.2 0ZM290.16 293.1a1.1 1.1 0 1 0 2.2 0a1.1 1.1 0 1 0 -2.2 0ZM300.1 293.45a1.1 1.1 0 1 0 2.2 0a1.1 1.1 0 1 0 -2.2 0ZM287.67 293.77a1.1 1.1 0 1 0 2.2 0a1.1 1.1 0 1 0 -2.2 0ZM282.7 293.91a1.1 1.1 0 1 0 2.2 0a1.1 1.1 0 1 0 -2.2 0ZM297.61 294.09a1.1 1.1 0 1 0 2.2 0a1.1 1.1 0 1 0 -2.2 0ZM287.05 294.51a1.1 1.1 0 1 0 2.2 0a1.1 1.1 0 1 0 -2.2 0ZM293.57 294.77a1.1 1.1 0 1 0 2.2 0a1.1 1.1 0 1 0 -2.2 0ZM284.88 295.09a1.1 1.1 0 1 0 2.2 0a1.1 1.1 0 1 0 -2.2 0ZM291.4 295.3a1.1 1.1 0 1 0 2.2 0a1.1 1.1 0 1 0 -2.2 0ZM289.22 295.52a1.1 1.1 0 1 0 2.2 0a1.1 1.1 0 1 0 -2.2 0ZM300.1 295.89a1.1 1.1 0 1 0 2.2 0a1.1 1.1 0 1 0 -2.2 0ZM295.75 296.2a1.1 1.1 0 1 0 2.2 0a1.1 1.1 0 1 0 -2.2 0ZM282.7 296.32a1.1 1.1 0 1 0 2.2 0a1.1 1.1 0 1 0 -2.2 0ZM297.92 296.62a1.1 1.1 0 1 0 2.2 0a1.1 1.1 0 1 0 -2.2 0ZM287.05 297.01a1.1 1.1 0 1 0 2.2 0a1.1 1.1 0 1 0 -2.2 0ZM300.1 297.26a1.1 1.1 0 1 0 2.2 0a1.1 1.1 0 1 0 -2.2 0ZM293.57 297.41a1.1 1.1 0 1 0 2.2 0a1.1 1.1 0 1 0 -2.2 0ZM289.22 297.62a1.1 1.1 0 1 0 2.2 0a1.1 1.1 0 1 0 -2.2 0ZM284.88 298a1.1 1.1 0 1 0 2.2 0a1.1 1.1 0 1 0 -2.2 0ZM297.92 298.25a1.1 1.1 0 1 0 2.2 0a1.1 1.1 0 1 0 -2.2 0ZM291.4 298.55a1.1 1.1 0 1 0 2.2 0a1.1 1.1 0 1 0 -2.2 0ZM295.75 298.72a1.1 1.1 0 1 0 2.2 0a1.1 1.1 0 1 0 -2.2 0ZM282.7 299.1a1.1 1.1 0 1 0 2.2 0a1.1 1.1 0 1 0 -2.2 0ZM293.57 299.45a1.1 1.1 0 1 0 2.2 0a1.1 1.1 0 1 0 -2.2 0ZM287.05 299.72a1.1 1.1 0 1 0 2.2 0a1.1 1.1 0 1 0 -2.2 0ZM291.4 299.84a1.1 1.1 0 1 0 2.2 0a1.1 1.1 0 1 0 -2.2 0ZM289.22 300.06a1.1 1.1 0 1 0 2.2 0a1.1 1.1 0 1 0 -2.2 0ZM282.7 300.54a1.1 1.1 0 1 0 2.2 0a1.1 1.1 0 1 0 -2.2 0ZM295.75 300.77a1.1 1.1 0 1 0 2.2 0a1.1 1.1 0 1 0 -2.2 0ZM300.1 300.97a1.1 1.1 0 1 0 2.2 0a1.1 1.1 0 1 0 -2.2 0ZM297.92 301.29a1.1 1.1 0 1 0 2.2 0a1.1 1.1 0 1 0 -2.2 0ZM284.88 301.47a1.1 1.1 0 1 0 2.2 0a1.1 1.1 0 1 0 -2.2 0ZM287.67 301.76a1.1 1.1 0 1 0 2.2 0a1.1 1.1 0 1 0 -2.2 0ZM292.64 301.94a1.1 1.1 0 1 0 2.2 0a1.1 1.1 0 1 0 -2.2 0ZM290.16 302.42a1.1 1.1 0 1 0 2.2 0a1.1 1.1 0 1 0 -2.2 0ZM295.13 302.45a1.1 1.1 0 1 0 2.2 0a1.1 1.1 0 1 0 -2.2 0ZM300.1 302.8a1.1 1.1 0 1 0 2.2 0a1.1 1.1 0 1 0 -2.2 0ZM282.7 303.09a1.1 1.1 0 1 0 2.2 0a1.1 1.1 0 1 0 -2.2 0ZM297.61 303.38a1.1 1.1 0 1 0 2.2 0a1.1 1.1 0 1 0 -2.2 0ZM285.19 303.69a1.1 1.1 0 1 0 2.2 0a1.1 1.1 0 1 0 -2.2 0ZM295.75 304.01a1.1 1.1 0 1 0 2.2 0a1.1 1.1 0 1 0 -2.2 0ZM300.1 304.12a1.1 1.1 0 1 0 2.2 0a1.1 1.1 0 1 0 -2.2 0ZM287.05 304.48a1.1 1.1 0 1 0 2.2 0a1.1 1.1 0 1 0 -2.2 0ZM289.22 304.83a1.1 1.1 0 1 0 2.2 0a1.1 1.1 0 1 0 -2.2 0ZM284.88 304.92a1.1 1.1 0 1 0 2.2 0a1.1 1.1 0 1 0 -2.2 0ZM297.92 305.26a1.1 1.1 0 1 0 2.2 0a1.1 1.1 0 1 0 -2.2 0ZM293.57 305.52a1.1 1.1 0 1 0 2.2 0a1.1 1.1 0 1 0 -2.2 0ZM291.4 305.88a1.1 1.1 0 1 0 2.2 0a1.1 1.1 0 1 0 -2.2 0ZM282.7 306.2a1.1 1.1 0 1 0 2.2 0a1.1 1.1 0 1 0 -2.2 0ZM300.1 306.44a1.1 1.1 0 1 0 2.2 0a1.1 1.1 0 1 0 -2.2 0ZM293.14 306.59a1.1 1.1 0 1 0 2.2 0a1.1 1.1 0 1 0 -2.2 0ZM294.88 306.88a1.1 1.1 0 1 0 2.2 0a1.1 1.1 0 1 0 -2.2 0ZM287.92 307.21a1.1 1.1 0 1 0 2.2 0a1.1 1.1 0 1 0 -2.2 0ZM289.66 307.43a1.1 1.1 0 1 0 2.2 0a1.1 1.1 0 1 0 -2.2 0ZM298.36 307.59a1.1 1.1 0 1 0 2.2 0a1.1 1.1 0 1 0 -2.2 0ZM296.62 307.88a1.1 1.1 0 1 0 2.2 0a1.1 1.1 0 1 0 -2.2 0ZM284.44 308a1.1 1.1 0 1 0 2.2 0a1.1 1.1 0 1 0 -2.2 0ZM286.18 308.22a1.1 1.1 0 1 0 2.2 0a1.1 1.1 0 1 0 -2.2 0ZM291.4 308.33a1.1 1.1 0 1 0 2.2 0a1.1 1.1 0 1 0 -2.2 0ZM282.7 308.49a1.1 1.1 0 1 0 2.2 0a1.1 1.1 0 1 0 -2.2 0ZM287.67 308.66a1.1 1.1 0 1 0 2.2 0a1.1 1.1 0 1 0 -2.2 0ZM292.64 308.7a1.1 1.1 0 1 0 2.2 0a1.1 1.1 0 1 0 -2.2 0ZM290.16 308.97a1.1 1.1 0 1 0 2.2 0a1.1 1.1 0 1 0 -2.2 0ZM291.4 309.04a1.1 1.1 0 1 0 2.2 0a1.1 1.1 0 1 0 -2.2 0ZM288.91 309.21a1.1 1.1 0 1 0 2.2 0a1.1 1.1 0 1 0 -2.2 0ZM285.19 309.39a1.1 1.1 0 1 0 2.2 0a1.1 1.1 0 1 0 -2.2 0ZM286.43 309.49a1.1 1.1 0 1 0 2.2 0a1.1 1.1 0 1 0 -2.2 0ZM283.94 309.68a1.1 1.1 0 1 0 2.2 0a1.1 1.1 0 1 0 -2.2 0ZM293.89 309.77a1.1 1.1 0 1 0 2.2 0a1.1 1.1 0 1 0 -2.2 0ZM295.13 309.92a1.1 1.1 0 1 0 2.2 0a1.1 1.1 0 1 0 -2.2 0ZM297.61 310.12a1.1 1.1 0 1 0 2.2 0a1.1 1.1 0 1 0 -2.2 0ZM298.86 310.24a1.1 1.1 0 1 0 2.2 0a1.1 1.1 0 1 0 -2.2 0ZM296.37 310.34a1.1 1.1 0 1 0 2.2 0a1.1 1.1 0 1 0 -2.2 0ZM282.7 310.54a1.1 1.1 0 1 0 2.2 0a1.1 1.1 0 1 0 -2.2 0ZM300.1 310.69a1.1 1.1 0 1 0 2.2 0a1.1 1.1 0 1 0 -2.2 0ZM298.86 310.91a1.1 1.1 0 1 0 2.2 0a1.1 1.1 0 1 0 -2.2 0ZM286.43 310.97a1.1 1.1 0 1 0 2.2 0a1.1 1.1 0 1 0 -2.2 0ZM287.67 311.17a1.1 1.1 0 1 0 2.2 0a1.1 1.1 0 1 0 -2.2 0ZM283.94 311.28a1.1 1.1 0 1 0 2.2 0a1.1 1.1 0 1 0 -2.2 0ZM297.61 311.45a1.1 1.1 0 1 0 2.2 0a1.1 1.1 0 1 0 -2.2 0ZM282.7 311.58a1.1 1.1 0 1 0 2.2 0a1.1 1.1 0 1 0 -2.2 0ZM290.16 311.69a1.1 1.1 0 1 0 2.2 0a1.1 1.1 0 1 0 -2.2 0ZM292.64 311.93a1.1 1.1 0 1 0 2.2 0a1.1 1.1 0 1 0 -2.2 0ZM285.19 312.03a1.1 1.1 0 1 0 2.2 0a1.1 1.1 0 1 0 -2.2 0ZM295.13 312.17a1.1 1.1 0 1 0 2.2 0a1.1 1.1 0 1 0 -2.2 0ZM291.4 312.35a1.1 1.1 0 1 0 2.2 0a1.1 1.1 0 1 0 -2.2 0ZM296.37 312.58a1.1 1.1 0 1 0 2.2 0a1.1 1.1 0 1 0 -2.2 0ZM293.89 312.62a1.1 1.1 0 1 0 2.2 0a1.1 1.1 0 1 0 -2.2 0ZM300.1 312.79a1.1 1.1 0 1 0 2.2 0a1.1 1.1 0 1 0 -2.2 0ZM288.91 312.95a1.1 1.1 0 1 0 2.2 0a1.1 1.1 0 1 0 -2.2 0ZM283.86 313.17a1.1 1.1 0 1 0 2.2 0a1.1 1.1 0 1 0 -2.2 0ZM291.98 313.23a1.1 1.1 0 1 0 2.2 0a1.1 1.1 0 1 0 -2.2 0ZM286.18 313.49a1.1 1.1 0 1 0 2.2 0a1.1 1.1 0 1 0 -2.2 0ZM298.94 313.51a1.1 1.1 0 1 0 2.2 0a1.1 1.1 0 1 0 -2.2 0ZM295.46 313.78a1.1 1.1 0 1 0 2.2 0a1.1 1.1 0 1 0 -2.2 0ZM282.7 313.88a1.1 1.1 0 1 0 2.2 0a1.1 1.1 0 1 0 -2.2 0ZM285.02 313.96a1.1 1.1 0 1 0 2.2 0a1.1 1.1 0 1 0 -2.2 0ZM294.3 314.1a1.1 1.1 0 1 0 2.2 0a1.1 1.1 0 1 0 -2.2 0ZM288.5 314.26a1.1 1.1 0 1 0 2.2 0a1.1 1.1 0 1 0 -2.2 0ZM293.14 314.41a1.1 1.1 0 1 0 2.2 0a1.1 1.1 0 1 0 -2.2 0ZM287.34 314.64a1.1 1.1 0 1 0 2.2 0a1.1 1.1 0 1 0 -2.2 0ZM290.82 314.81a1.1 1.1 0 1 0 2.2 0a1.1 1.1 0 1 0 -2.2 0ZM297.78 314.99a1.1 1.1 0 1 0 2.2 0a1.1 1.1 0 1 0 -2.2 0ZM296.62 315.07a1.1 1.1 0 1 0 2.2 0a1.1 1.1 0 1 0 -2.2 0ZM289.66 315.2a1.1 1.1 0 1 0 2.2 0a1.1 1.1 0 1 0 -2.2 0ZM300.1 315.36a1.1 1.1 0 1 0 2.2 0a1.1 1.1 0 1 0 -2.2 0ZM282.7 315.47a1.1 1.1 0 1 0 2.2 0a1.1 1.1 0 1 0 -2.2 0ZM300.1 315.75a1.1 1.1 0 1 0 2.2 0a1.1 1.1 0 1 0 -2.2 0ZM296.37 315.9a1.1 1.1 0 1 0 2.2 0a1.1 1.1 0 1 0 -2.2 0ZM283.94 316a1.1 1.1 0 1 0 2.2 0a1.1 1.1 0 1 0 -2.2 0ZM291.4 316.17a1.1 1.1 0 1 0 2.2 0a1.1 1.1 0 1 0 -2.2 0ZM288.91 316.26a1.1 1.1 0 1 0 2.2 0a1.1 1.1 0 1 0 -2.2 0ZM292.64 316.42a1.1 1.1 0 1 0 2.2 0a1.1 1.1 0 1 0 -2.2 0ZM295.13 316.55a1.1 1.1 0 1 0 2.2 0a1.1 1.1 0 1 0 -2.2 0ZM286.43 316.67a1.1 1.1 0 1 0 2.2 0a1.1 1.1 0 1 0 -2.2 0ZM290.16 316.88a1.1 1.1 0 1 0 2.2 0a1.1 1.1 0 1 0 -2.2 0ZM297.61 317.08a1.1 1.1 0 1 0 2.2 0a1.1 1.1 0 1 0 -2.2 0ZM287.67 317.11a1.1 1.1 0 1 0 2.2 0a1.1 1.1 0 1 0 -2.2 0ZM293.89 317.34a1.1 1.1 0 1 0 2.2 0a1.1 1.1 0 1 0 -2.2 0ZM285.19 317.45a1.1 1.1 0 1 0 2.2 0a1.1 1.1 0 1 0 -2.2 0ZM298.86 317.66a1.1 1.1 0 1 0 2.2 0a1.1 1.1 0 1 0 -2.2 0ZM291.98 317.81a1.1 1.1 0 1 0 2.2 0a1.1 1.1 0 1 0 -2.2 0ZM294.3 317.89a1.1 1.1 0 1 0 2.2 0a1.1 1.1 0 1 0 -2.2 0ZM286.18 318.16a1.1 1.1 0 1 0 2.2 0a1.1 1.1 0 1 0 -2.2 0ZM298.94 318.24a1.1 1.1 0 1 0 2.2 0a1.1 1.1 0 1 0 -2.2 0ZM290.82 318.43a1.1 1.1 0 1 0 2.2 0a1.1 1.1 0 1 0 -2.2 0ZM283.86 318.55a1.1 1.1 0 1 0 2.2 0a1.1 1.1 0 1 0 -2.2 0ZM295.46 318.64a1.1 1.1 0 1 0 2.2 0a1.1 1.1 0 1 0 -2.2 0ZM296.62 318.86a1.1 1.1 0 1 0 2.2 0a1.1 1.1 0 1 0 -2.2 0ZM300.1 319.04a1.1 1.1 0 1 0 2.2 0a1.1 1.1 0 1 0 -2.2 0ZM293.14 319.07a1.1 1.1 0 1 0 2.2 0a1.1 1.1 0 1 0 -2.2 0ZM285.02 319.26a1.1 1.1 0 1 0 2.2 0a1.1 1.1 0 1 0 -2.2 0ZM289.66 319.48a1.1 1.1 0 1 0 2.2 0a1.1 1.1 0 1 0 -2.2 0ZM297.78 319.63a1.1 1.1 0 1 0 2.2 0a1.1 1.1 0 1 0 -2.2 0ZM287.34 319.8a1.1 1.1 0 1 0 2.2 0a1.1 1.1 0 1 0 -2.2 0ZM288.5 319.83a1.1 1.1 0 1 0 2.2 0a1.1 1.1 0 1 0 -2.2 0ZM282.7 319.99a1.1 1.1 0 1 0 2.2 0a1.1 1.1 0 1 0 -2.2 0ZM293.14 320.27a1.1 1.1 0 1 0 2.2 0a1.1 1.1 0 1 0 -2.2 0ZM288.5 320.37a1.1 1.1 0 1 0 2.2 0a1.1 1.1 0 1 0 -2.2 0ZM297.78 320.44a1.1 1.1 0 1 0 2.2 0a1.1 1.1 0 1 0 -2.2 0ZM294.3 320.59a1.1 1.1 0 1 0 2.2 0a1.1 1.1 0 1 0 -2.2 0ZM282.7 320.77a1.1 1.1 0 1 0 2.2 0a1.1 1.1 0 1 0 -2.2 0ZM287.34 320.94a1.1 1.1 0 1 0 2.2 0a1.1 1.1 0 1 0 -2.2 0ZM285.02 321.04a1.1 1.1 0 1 0 2.2 0a1.1 1.1 0 1 0 -2.2 0ZM300.1 321.32a1.1 1.1 0 1 0 2.2 0a1.1 1.1 0 1 0 -2.2 0ZM286.18 321.4a1.1 1.1 0 1 0 2.2 0a1.1 1.1 0 1 0 -2.2 0ZM289.66 321.5a1.1 1.1 0 1 0 2.2 0a1.1 1.1 0 1 0 -2.2 0ZM290.82 321.75a1.1 1.1 0 1 0 2.2 0a1.1 1.1 0 1 0 -2.2 0ZM296.62 321.82a1.1 1.1 0 1 0 2.2 0a1.1 1.1 0 1 0 -2.2 0ZM298.94 322.02a1.1 1.1 0 1 0 2.2 0a1.1 1.1 0 1 0 -2.2 0ZM283.86 322.19a1.1 1.1 0 1 0 2.2 0a1.1 1.1 0 1 0 -2.2 0ZM291.98 322.24a1.1 1.1 0 1 0 2.2 0a1.1 1.1 0 1 0 -2.2 0ZM295.46 322.42a1.1 1.1 0 1 0 2.2 0a1.1 1.1 0 1 0 -2.2 0ZM299.01 322.64a1.1 1.1 0 1 0 2.2 0a1.1 1.1 0 1 0 -2.2 0ZM296.84 322.75a1.1 1.1 0 1 0 2.2 0a1.1 1.1 0 1 0 -2.2 0ZM292.49 322.93a1.1 1.1 0 1 0 2.2 0a1.1 1.1 0 1 0 -2.2 0ZM284.88 323.06a1.1 1.1 0 1 0 2.2 0a1.1 1.1 0 1 0 -2.2 0ZM287.05 323.19a1.1 1.1 0 1 0 2.2 0a1.1 1.1 0 1 0 -2.2 0ZM285.96 323.27a1.1 1.1 0 1 0 2.2 0a1.1 1.1 0 1 0 -2.2 0ZM297.92 323.4a1.1 1.1 0 1 0 2.2 0a1.1 1.1 0 1 0 -2.2 0ZM293.57 323.5a1.1 1.1 0 1 0 2.2 0a1.1 1.1 0 1 0 -2.2 0ZM288.14 323.67a1.1 1.1 0 1 0 2.2 0a1.1 1.1 0 1 0 -2.2 0ZM294.66 323.8a1.1 1.1 0 1 0 2.2 0a1.1 1.1 0 1 0 -2.2 0ZM283.79 323.91a1.1 1.1 0 1 0 2.2 0a1.1 1.1 0 1 0 -2.2 0ZM300.1 324.08a1.1 1.1 0 1 0 2.2 0a1.1 1.1 0 1 0 -2.2 0ZM290.31 324.22a1.1 1.1 0 1 0 2.2 0a1.1 1.1 0 1 0 -2.2 0ZM289.22 324.34a1.1 1.1 0 1 0 2.2 0a1.1 1.1 0 1 0 -2.2 0ZM295.75 324.45a1.1 1.1 0 1 0 2.2 0a1.1 1.1 0 1 0 -2.2 0ZM282.7 324.67a1.1 1.1 0 1 0 2.2 0a1.1 1.1 0 1 0 -2.2 0ZM291.4 324.84a1.1 1.1 0 1 0 2.2 0a1.1 1.1 0 1 0 -2.2 0ZM282.7 324.87a1.1 1.1 0 1 0 2.2 0a1.1 1.1 0 1 0 -2.2 0ZM298.94 325.07a1.1 1.1 0 1 0 2.2 0a1.1 1.1 0 1 0 -2.2 0ZM297.78 325.24a1.1 1.1 0 1 0 2.2 0a1.1 1.1 0 1 0 -2.2 0ZM287.34 325.34a1.1 1.1 0 1 0 2.2 0a1.1 1.1 0 1 0 -2.2 0ZM290.82 325.38a1.1 1.1 0 1 0 2.2 0a1.1 1.1 0 1 0 -2.2 0ZM288.5 325.62a1.1 1.1 0 1 0 2.2 0a1.1 1.1 0 1 0 -2.2 0ZM289.66 325.73a1.1 1.1 0 1 0 2.2 0a1.1 1.1 0 1 0 -2.2 0ZM285.02 325.8a1.1 1.1 0 1 0 2.2 0a1.1 1.1 0 1 0 -2.2 0ZM283.86 326.05a1.1 1.1 0 1 0 2.2 0a1.1 1.1 0 1 0 -2.2 0ZM294.3 326.13a1.1 1.1 0 1 0 2.2 0a1.1 1.1 0 1 0 -2.2 0ZM295.46 326.2a1.1 1.1 0 1 0 2.2 0a1.1 1.1 0 1 0 -2.2 0ZM296.62 326.42a1.1 1.1 0 1 0 2.2 0a1.1 1.1 0 1 0 -2.2 0ZM286.18 326.47a1.1 1.1 0 1 0 2.2 0a1.1 1.1 0 1 0 -2.2 0ZM293.14 326.72a1.1 1.1 0 1 0 2.2 0a1.1 1.1 0 1 0 -2.2 0ZM291.98 326.83a1.1 1.1 0 1 0 2.2 0a1.1 1.1 0 1 0 -2.2 0ZM300.1 326.96a1.1 1.1 0 1 0 2.2 0a1.1 1.1 0 1 0 -2.2 0ZM297.92 327.09a1.1 1.1 0 1 0 2.2 0a1.1 1.1 0 1 0 -2.2 0ZM292.49 327.25a1.1 1.1 0 1 0 2.2 0a1.1 1.1 0 1 0 -2.2 0ZM289.22 327.38a1.1 1.1 0 1 0 2.2 0a1.1 1.1 0 1 0 -2.2 0ZM296.84 327.51a1.1 1.1 0 1 0 2.2 0a1.1 1.1 0 1 0 -2.2 0ZM299.01 327.59a1.1 1.1 0 1 0 2.2 0a1.1 1.1 0 1 0 -2.2 0ZM284.88 327.79a1.1 1.1 0 1 0 2.2 0a1.1 1.1 0 1 0 -2.2 0ZM291.4 327.81a1.1 1.1 0 1 0 2.2 0a1.1 1.1 0 1 0 -2.2 0ZM293.57 327.95a1.1 1.1 0 1 0 2.2 0a1.1 1.1 0 1 0 -2.2 0ZM300.1 328.18a1.1 1.1 0 1 0 2.2 0a1.1 1.1 0 1 0 -2.2 0ZM294.66 328.22a1.1 1.1 0 1 0 2.2 0a1.1 1.1 0 1 0 -2.2 0ZM283.79 328.45a1.1 1.1 0 1 0 2.2 0a1.1 1.1 0 1 0 -2.2 0ZM288.14 328.57a1.1 1.1 0 1 0 2.2 0a1.1 1.1 0 1 0 -2.2 0ZM290.31 328.67a1.1 1.1 0 1 0 2.2 0a1.1 1.1 0 1 0 -2.2 0ZM282.7 328.79a1.1 1.1 0 1 0 2.2 0a1.1 1.1 0 1 0 -2.2 0ZM285.96 328.89a1.1 1.1 0 1 0 2.2 0a1.1 1.1 0 1 0 -2.2 0ZM287.05 329.06a1.1 1.1 0 1 0 2.2 0a1.1 1.1 0 1 0 -2.2 0ZM295.75 329.21a1.1 1.1 0 1 0 2.2 0a1.1 1.1 0 1 0 -2.2 0ZM288.14 329.32a1.1 1.1 0 1 0 2.2 0a1.1 1.1 0 1 0 -2.2 0ZM293.57 329.46a1.1 1.1 0 1 0 2.2 0a1.1 1.1 0 1 0 -2.2 0ZM297.92 329.67a1.1 1.1 0 1 0 2.2 0a1.1 1.1 0 1 0 -2.2 0ZM296.84 329.77a1.1 1.1 0 1 0 2.2 0a1.1 1.1 0 1 0 -2.2 0ZM291.4 329.88a1.1 1.1 0 1 0 2.2 0a1.1 1.1 0 1 0 -2.2 0ZM284.88 330.02a1.1 1.1 0 1 0 2.2 0a1.1 1.1 0 1 0 -2.2 0ZM289.22 330.2a1.1 1.1 0 1 0 2.2 0a1.1 1.1 0 1 0 -2.2 0ZM287.05 330.35a1.1 1.1 0 1 0 2.2 0a1.1 1.1 0 1 0 -2.2 0ZM295.75 330.48a1.1 1.1 0 1 0 2.2 0a1.1 1.1 0 1 0 -2.2 0ZM294.66 330.55a1.1 1.1 0 1 0 2.2 0a1.1 1.1 0 1 0 -2.2 0ZM290.31 330.72a1.1 1.1 0 1 0 2.2 0a1.1 1.1 0 1 0 -2.2 0ZM292.49 330.87a1.1 1.1 0 1 0 2.2 0a1.1 1.1 0 1 0 -2.2 0ZM285.96 330.98a1.1 1.1 0 1 0 2.2 0a1.1 1.1 0 1 0 -2.2 0ZM299.01 331.13a1.1 1.1 0 1 0 2.2 0a1.1 1.1 0 1 0 -2.2 0ZM283.79 331.21a1.1 1.1 0 1 0 2.2 0a1.1 1.1 0 1 0 -2.2 0ZM282.7 331.39a1.1 1.1 0 1 0 2.2 0a1.1 1.1 0 1 0 -2.2 0ZM300.1 331.51a1.1 1.1 0 1 0 2.2 0a1.1 1.1 0 1 0 -2.2 0ZM296.01 331.72a1.1 1.1 0 1 0 2.2 0a1.1 1.1 0 1 0 -2.2 0ZM293.96 331.78a1.1 1.1 0 1 0 2.2 0a1.1 1.1 0 1 0 -2.2 0ZM300.1 331.91a1.1 1.1 0 1 0 2.2 0a1.1 1.1 0 1 0 -2.2 0ZM286.79 332.05a1.1 1.1 0 1 0 2.2 0a1.1 1.1 0 1 0 -2.2 0ZM297.03 332.25a1.1 1.1 0 1 0 2.2 0a1.1 1.1 0 1 0 -2.2 0ZM289.86 332.28a1.1 1.1 0 1 0 2.2 0a1.1 1.1 0 1 0 -2.2 0ZM294.98 332.45a1.1 1.1 0 1 0 2.2 0a1.1 1.1 0 1 0 -2.2 0ZM287.82 332.54a1.1 1.1 0 1 0 2.2 0a1.1 1.1 0 1 0 -2.2 0ZM291.91 332.79a1.1 1.1 0 1 0 2.2 0a1.1 1.1 0 1 0 -2.2 0ZM298.05 332.87a1.1 1.1 0 1 0 2.2 0a1.1 1.1 0 1 0 -2.2 0ZM282.7 333.02a1.1 1.1 0 1 0 2.2 0a1.1 1.1 0 1 0 -2.2 0ZM299.08 333.17a1.1 1.1 0 1 0 2.2 0a1.1 1.1 0 1 0 -2.2 0ZM288.84 333.3a1.1 1.1 0 1 0 2.2 0a1.1 1.1 0 1 0 -2.2 0ZM284.75 333.4a1.1 1.1 0 1 0 2.2 0a1.1 1.1 0 1 0 -2.2 0ZM285.77 333.56a1.1 1.1 0 1 0 2.2 0a1.1 1.1 0 1 0 -2.2 0ZM292.94 333.65a1.1 1.1 0 1 0 2.2 0a1.1 1.1 0 1 0 -2.2 0ZM283.72 333.77a1.1 1.1 0 1 0 2.2 0a1.1 1.1 0 1 0 -2.2 0ZM290.89 333.9a1.1 1.1 0 1 0 2.2 0a1.1 1.1 0 1 0 -2.2 0ZM296.01 334.15a1.1 1.1 0 1 0 2.2 0a1.1 1.1 0 1 0 -2.2 0ZM282.7 334.25a1.1 1.1 0 1 0 2.2 0a1.1 1.1 0 1 0 -2.2 0ZM286.79 334.42a1.1 1.1 0 1 0 2.2 0a1.1 1.1 0 1 0 -2.2 0ZM297.03 334.49a1.1 1.1 0 1 0 2.2 0a1.1 1.1 0 1 0 -2.2 0ZM289.86 334.57a1.1 1.1 0 1 0 2.2 0a1.1 1.1 0 1 0 -2.2 0ZM293.96 334.77a1.1 1.1 0 1 0 2.2 0a1.1 1.1 0 1 0 -2.2 0ZM294.98 334.87a1.1 1.1 0 1 0 2.2 0a1.1 1.1 0 1 0 -2.2 0ZM299.08 334.98a1.1 1.1 0 1 0 2.2 0a1.1 1.1 0 1 0 -2.2 0ZM288.84 335.22a1.1 1.1 0 1 0 2.2 0a1.1 1.1 0 1 0 -2.2 0ZM298.05 335.34a1.1 1.1 0 1 0 2.2 0a1.1 1.1 0 1 0 -2.2 0ZM283.72 335.38a1.1 1.1 0 1 0 2.2 0a1.1 1.1 0 1 0 -2.2 0ZM292.94 335.54a1.1 1.1 0 1 0 2.2 0a1.1 1.1 0 1 0 -2.2 0ZM300.1 335.76a1.1 1.1 0 1 0 2.2 0a1.1 1.1 0 1 0 -2.2 0ZM291.91 335.84a1.1 1.1 0 1 0 2.2 0a1.1 1.1 0 1 0 -2.2 0ZM287.82 335.98a1.1 1.1 0 1 0 2.2 0a1.1 1.1 0 1 0 -2.2 0ZM290.89 336.06a1.1 1.1 0 1 0 2.2 0a1.1 1.1 0 1 0 -2.2 0ZM284.75 336.24a1.1 1.1 0 1 0 2.2 0a1.1 1.1 0 1 0 -2.2 0ZM285.77 336.32a1.1 1.1 0 1 0 2.2 0a1.1 1.1 0 1 0 -2.2 0ZM294.66 336.46a1.1 1.1 0 1 0 2.2 0a1.1 1.1 0 1 0 -2.2 0ZM285.96 336.61a1.1 1.1 0 1 0 2.2 0a1.1 1.1 0 1 0 -2.2 0ZM296.84 336.82a1.1 1.1 0 1 0 2.2 0a1.1 1.1 0 1 0 -2.2 0ZM284.88 336.91a1.1 1.1 0 1 0 2.2 0a1.1 1.1 0 1 0 -2.2 0ZM299.01 337.08a1.1 1.1 0 1 0 2.2 0a1.1 1.1 0 1 0 -2.2 0ZM289.22 337.12a1.1 1.1 0 1 0 2.2 0a1.1 1.1 0 1 0 -2.2 0ZM292.49 337.31a1.1 1.1 0 1 0 2.2 0a1.1 1.1 0 1 0 -2.2 0ZM290.31 337.41a1.1 1.1 0 1 0 2.2 0a1.1 1.1 0 1 0 -2.2 0ZM297.92 337.55a1.1 1.1 0 1 0 2.2 0a1.1 1.1 0 1 0 -2.2 0ZM293.57 337.7a1.1 1.1 0 1 0 2.2 0a1.1 1.1 0 1 0 -2.2 0ZM295.75 337.79a1.1 1.1 0 1 0 2.2 0a1.1 1.1 0 1 0 -2.2 0ZM291.4 337.89a1.1 1.1 0 1 0 2.2 0a1.1 1.1 0 1 0 -2.2 0ZM282.7 338.03a1.1 1.1 0 1 0 2.2 0a1.1 1.1 0 1 0 -2.2 0ZM300.1 338.18a1.1 1.1 0 1 0 2.2 0a1.1 1.1 0 1 0 -2.2 0ZM287.05 338.38a1.1 1.1 0 1 0 2.2 0a1.1 1.1 0 1 0 -2.2 0ZM283.79 338.45a1.1 1.1 0 1 0 2.2 0a1.1 1.1 0 1 0 -2.2 0ZM288.14 338.63a1.1 1.1 0 1 0 2.2 0a1.1 1.1 0 1 0 -2.2 0ZM293.96 338.7a1.1 1.1 0 1 0 2.2 0a1.1 1.1 0 1 0 -2.2 0ZM284.75 338.89a1.1 1.1 0 1 0 2.2 0a1.1 1.1 0 1 0 -2.2 0ZM282.7 338.93a1.1 1.1 0 1 0 2.2 0a1.1 1.1 0 1 0 -2.2 0ZM290.89 339.06a1.1 1.1 0 1 0 2.2 0a1.1 1.1 0 1 0 -2.2 0ZM292.94 339.25a1.1 1.1 0 1 0 2.2 0a1.1 1.1 0 1 0 -2.2 0ZM300.1 339.35a1.1 1.1 0 1 0 2.2 0a1.1 1.1 0 1 0 -2.2 0ZM298.05 339.47a1.1 1.1 0 1 0 2.2 0a1.1 1.1 0 1 0 -2.2 0ZM299.08 339.57a1.1 1.1 0 1 0 2.2 0a1.1 1.1 0 1 0 -2.2 0ZM294.98 339.69a1.1 1.1 0 1 0 2.2 0a1.1 1.1 0 1 0 -2.2 0ZM283.72 339.83a1.1 1.1 0 1 0 2.2 0a1.1 1.1 0 1 0 -2.2 0ZM288.84 340.06a1.1 1.1 0 1 0 2.2 0a1.1 1.1 0 1 0 -2.2 0ZM286.79 340.07a1.1 1.1 0 1 0 2.2 0a1.1 1.1 0 1 0 -2.2 0ZM296.01 340.28a1.1 1.1 0 1 0 2.2 0a1.1 1.1 0 1 0 -2.2 0ZM287.82 340.42a1.1 1.1 0 1 0 2.2 0a1.1 1.1 0 1 0 -2.2 0ZM289.86 340.54a1.1 1.1 0 1 0 2.2 0a1.1 1.1 0 1 0 -2.2 0ZM285.77 340.67a1.1 1.1 0 1 0 2.2 0a1.1 1.1 0 1 0 -2.2 0ZM297.03 340.75a1.1 1.1 0 1 0 2.2 0a1.1 1.1 0 1 0 -2.2 0ZM291.91 340.86a1.1 1.1 0 1 0 2.2 0a1.1 1.1 0 1 0 -2.2 0ZM292.94 341.08a1.1 1.1 0 1 0 2.2 0a1.1 1.1 0 1 0 -2.2 0ZM290.89 341.16a1.1 1.1 0 1 0 2.2 0a1.1 1.1 0 1 0 -2.2 0ZM293.96 341.27a1.1 1.1 0 1 0 2.2 0a1.1 1.1 0 1 0 -2.2 0ZM286.79 341.39a1.1 1.1 0 1 0 2.2 0a1.1 1.1 0 1 0 -2.2 0ZM299.08 341.6a1.1 1.1 0 1 0 2.2 0a1.1 1.1 0 1 0 -2.2 0ZM294.98 341.65a1.1 1.1 0 1 0 2.2 0a1.1 1.1 0 1 0 -2.2 0ZM282.7 341.75a1.1 1.1 0 1 0 2.2 0a1.1 1.1 0 1 0 -2.2 0ZM289.86 341.88a1.1 1.1 0 1 0 2.2 0a1.1 1.1 0 1 0 -2.2 0ZM300.1 342.13a1.1 1.1 0 1 0 2.2 0a1.1 1.1 0 1 0 -2.2 0ZM287.82 342.23a1.1 1.1 0 1 0 2.2 0a1.1 1.1 0 1 0 -2.2 0ZM291.91 342.36a1.1 1.1 0 1 0 2.2 0a1.1 1.1 0 1 0 -2.2 0ZM298.05 342.47a1.1 1.1 0 1 0 2.2 0a1.1 1.1 0 1 0 -2.2 0ZM285.77 342.56a1.1 1.1 0 1 0 2.2 0a1.1 1.1 0 1 0 -2.2 0ZM296.01 342.68a1.1 1.1 0 1 0 2.2 0a1.1 1.1 0 1 0 -2.2 0ZM284.75 342.79a1.1 1.1 0 1 0 2.2 0a1.1 1.1 0 1 0 -2.2 0ZM283.72 342.95a1.1 1.1 0 1 0 2.2 0a1.1 1.1 0 1 0 -2.2 0ZM288.84 343.1a1.1 1.1 0 1 0 2.2 0a1.1 1.1 0 1 0 -2.2 0ZM297.03 343.17a1.1 1.1 0 1 0 2.2 0a1.1 1.1 0 1 0 -2.2 0ZM299.08 343.4a1.1 1.1 0 1 0 2.2 0a1.1 1.1 0 1 0 -2.2 0ZM290.89 343.45a1.1 1.1 0 1 0 2.2 0a1.1 1.1 0 1 0 -2.2 0ZM288.84 343.57a1.1 1.1 0 1 0 2.2 0a1.1 1.1 0 1 0 -2.2 0ZM297.03 343.81a1.1 1.1 0 1 0 2.2 0a1.1 1.1 0 1 0 -2.2 0ZM286.79 343.93a1.1 1.1 0 1 0 2.2 0a1.1 1.1 0 1 0 -2.2 0ZM291.91 344.06a1.1 1.1 0 1 0 2.2 0a1.1 1.1 0 1 0 -2.2 0ZM296.01 344.12a1.1 1.1 0 1 0 2.2 0a1.1 1.1 0 1 0 -2.2 0ZM293.96 344.31a1.1 1.1 0 1 0 2.2 0a1.1 1.1 0 1 0 -2.2 0ZM282.7 344.45a1.1 1.1 0 1 0 2.2 0a1.1 1.1 0 1 0 -2.2 0ZM285.77 344.5a1.1 1.1 0 1 0 2.2 0a1.1 1.1 0 1 0 -2.2 0ZM294.98 344.59a1.1 1.1 0 1 0 2.2 0a1.1 1.1 0 1 0 -2.2 0ZM284.75 344.82a1.1 1.1 0 1 0 2.2 0a1.1 1.1 0 1 0 -2.2 0ZM287.82 344.89a1.1 1.1 0 1 0 2.2 0a1.1 1.1 0 1 0 -2.2 0ZM300.1 345.09a1.1 1.1 0 1 0 2.2 0a1.1 1.1 0 1 0 -2.2 0ZM283.72 345.23a1.1 1.1 0 1 0 2.2 0a1.1 1.1 0 1 0 -2.2 0ZM298.05 345.34a1.1 1.1 0 1 0 2.2 0a1.1 1.1 0 1 0 -2.2 0ZM289.86 345.42a1.1 1.1 0 1 0 2.2 0a1.1 1.1 0 1 0 -2.2 0ZM292.94 345.55a1.1 1.1 0 1 0 2.2 0a1.1 1.1 0 1 0 -2.2 0ZM300.1 345.7a1.1 1.1 0 1 0 2.2 0a1.1 1.1 0 1 0 -2.2 0ZM282.7 345.78a1.1 1.1 0 1 0 2.2 0a1.1 1.1 0 1 0 -2.2 0ZM287.05 345.89a1.1 1.1 0 1 0 2.2 0a1.1 1.1 0 1 0 -2.2 0ZM295.75 347a1.1 1.1 0 1 0 2.2 0a1.1 1.1 0 1 0 -2.2 0ZM291.4 347.19a1.1 1.1 0 1 0 2.2 0a1.1 1.1 0 1 0 -2.2 0ZM293.9 348.48a1.1 1.1 0 1 0 2.2 0a1.1 1.1 0 1 0 -2.2 0ZM298.9 349.17a1.1 1.1 0 1 0 2.2 0a1.1 1.1 0 1 0 -2.2 0ZM283.9 349.49a1.1 1.1 0 1 0 2.2 0a1.1 1.1 0 1 0 -2.2 0ZM288.9 350.2a1.1 1.1 0 1 0 2.2 0a1.1 1.1 0 1 0 -2.2 0ZM298.9 350.83a1.1 1.1 0 1 0 2.2 0a1.1 1.1 0 1 0 -2.2 0ZM283.9 351.29a1.1 1.1 0 1 0 2.2 0a1.1 1.1 0 1 0 -2.2 0ZM288.9 351.87a1.1 1.1 0 1 0 2.2 0a1.1 1.1 0 1 0 -2.2 0ZM293.9 352.58a1.1 1.1 0 1 0 2.2 0a1.1 1.1 0 1 0 -2.2 0ZM286.4 353.3a1.1 1.1 0 1 0 2.2 0a1.1 1.1 0 1 0 -2.2 0ZM296.4 354.29a1.1 1.1 0 1 0 2.2 0a1.1 1.1 0 1 0 -2.2 0ZM291.4 354.81a1.1 1.1 0 1 0 2.2 0a1.1 1.1 0 1 0 -2.2 0ZM296.4 355.63a1.1 1.1 0 1 0 2.2 0a1.1 1.1 0 1 0 -2.2 0ZM291.4 356.43a1.1 1.1 0 1 0 2.2 0a1.1 1.1 0 1 0 -2.2 0ZM286.4 356.63a1.1 1.1 0 1 0 2.2 0a1.1 1.1 0 1 0 -2.2 0ZM293.9 358.32a1.1 1.1 0 1 0 2.2 0a1.1 1.1 0 1 0 -2.2 0ZM283.9 359.23a1.1 1.1 0 1 0 2.2 0a1.1 1.1 0 1 0 -2.2 0ZM288.9 359.58a1.1 1.1 0 1 0 2.2 0a1.1 1.1 0 1 0 -2.2 0ZM298.9 360.48a1.1 1.1 0 1 0 2.2 0a1.1 1.1 0 1 0 -2.2 0ZM291.4 362.14a1.1 1.1 0 1 0 2.2 0a1.1 1.1 0 1 0 -2.2 0ZM296.4 362.78a1.1 1.1 0 1 0 2.2 0a1.1 1.1 0 1 0 -2.2 0ZM286.4 364.23a1.1 1.1 0 1 0 2.2 0a1.1 1.1 0 1 0 -2.2 0Z" fill="#17528e"/>
<path d="M318.8 255.95L320.05 258.2L317.55 258.2ZM323.8 258.62L325.05 260.87L322.55 260.87ZM318.8 259.51L320.05 261.76L317.55 261.76ZM313.8 260.23L315.05 262.48L312.55 262.48ZM321.3 262.54L322.55 264.79L320.05 264.79ZM316.3 263.08L317.55 265.33L315.05 265.33ZM313.8 264.86L315.05 267.11L312.55 267.11ZM318.8 266.09L320.05 268.34L317.55 268.34ZM323.8 267L325.05 269.25L322.55 269.25ZM318.8 269.01L320.05 271.26L317.55 271.26ZM323.8 269.74L325.05 271.99L322.55 271.99ZM313.8 270.68L315.05 272.93L312.55 272.93ZM316.3 271.3L317.55 273.55L315.05 273.55ZM311.3 271.68L312.55 273.93L310.05 273.93ZM326.3 272.55L327.55 274.8L325.05 274.8ZM321.3 273.06L322.55 275.31L320.05 275.31ZM314.45 273.79L315.7 276.04L313.2 276.04ZM327.5 274.21L328.75 276.46L326.25 276.46ZM310.1 274.8L311.35 277.05L308.85 277.05ZM323.15 275.55L324.4 277.8L321.9 277.8ZM318.8 275.75L320.05 278L317.55 278ZM316.3 276.37L317.55 278.62L315.05 278.62ZM321.3 277.02L322.55 279.27L320.05 279.27ZM326.3 277.43L327.55 279.68L325.05 279.68ZM311.3 278.1L312.55 280.35L310.05 280.35ZM314.45 278.9L315.7 281.15L313.2 281.15ZM310.1 279.48L311.35 281.73L308.85 281.73ZM327.5 280.21L328.75 282.46L326.25 282.46ZM318.8 280.82L320.05 283.07L317.55 283.07ZM323.15 280.95L324.4 283.2L321.9 283.2ZM321.3 281.71L322.55 283.96L320.05 283.96ZM311.3 282.38L312.55 284.63L310.05 284.63ZM326.3 283.03L327.55 285.28L325.05 285.28ZM316.3 283.63L317.55 285.88L315.05 285.88ZM324.02 284.09L325.27 286.34L322.77 286.34ZM317.06 284.51L318.31 286.76L315.81 286.76ZM320.54 284.74L321.79 286.99L319.29 286.99ZM310.1 285.04L311.35 287.29L308.85 287.29ZM327.5 285.69L328.75 287.94L326.25 287.94ZM313.58 285.92L314.83 288.17L312.33 288.17ZM327.5 286.34L328.75 288.59L326.25 288.59ZM317.06 286.61L318.31 288.86L315.81 288.86ZM324.02 286.97L325.27 289.22L322.77 289.22ZM320.54 287.52L321.79 289.77L319.29 289.77ZM313.58 287.85L314.83 290.1L312.33 290.1ZM310.1 288.37L311.35 290.62L308.85 290.62ZM313.58 288.68L314.83 290.93L312.33 290.93ZM320.54 289.17L321.79 291.42L319.29 291.42ZM324.02 289.33L325.27 291.58L322.77 291.58ZM317.06 289.98L318.31 292.23L315.81 292.23ZM327.5 290.47L328.75 292.72L326.25 292.72ZM310.1 290.5L311.35 292.75L308.85 292.75ZM324.02 290.92L325.27 293.17L322.77 293.17ZM320.54 291.29L321.79 293.54L319.29 293.54ZM310.1 291.94L311.35 294.19L308.85 294.19ZM313.58 292.37L314.83 294.62L312.33 294.62ZM327.5 292.63L328.75 294.88L326.25 294.88ZM317.06 292.88L318.31 295.13L315.81 295.13ZM317.06 293.53L318.31 295.78L315.81 295.78ZM320.54 293.73L321.79 295.98L319.29 295.98ZM313.58 294.36L314.83 296.61L312.33 296.61ZM324.02 294.7L325.27 296.95L322.77 296.95ZM310.1 295.08L311.35 297.33L308.85 297.33ZM327.5 295.33L328.75 297.58L326.25 297.58ZM313.58 295.83L314.83 298.08L312.33 298.08ZM317.06 296.33L318.31 298.58L315.81 298.58ZM310.1 296.69L311.35 298.94L308.85 298.94ZM327.5 296.85L328.75 299.1L326.25 299.1ZM324.02 297.34L325.27 299.59L322.77 299.59ZM320.54 298.03L321.79 300.28L319.29 300.28ZM317.06 298.17L318.31 300.42L315.81 300.42ZM324.02 298.59L325.27 300.84L322.77 300.84ZM327.5 299.02L328.75 301.27L326.25 301.27ZM310.1 299.48L311.35 301.73L308.85 301.73ZM320.54 299.88L321.79 302.13L319.29 302.13ZM313.58 300.31L314.83 302.56L312.33 302.56ZM320.54 300.54L321.79 302.79L319.29 302.79ZM317.06 300.88L318.31 303.13L315.81 303.13ZM310.1 301.57L311.35 303.82L308.85 303.82ZM327.5 301.76L328.75 304.01L326.25 304.01ZM313.58 302.3L314.83 304.55L312.33 304.55ZM324.02 302.47L325.27 304.72L322.77 304.72ZM311.44 303.14L312.69 305.39L310.19 305.39ZM323.48 303.21L324.73 305.46L322.23 305.46ZM326.16 303.54L327.41 305.79L324.91 305.79ZM318.13 303.76L319.38 306.01L316.88 306.01ZM324.82 303.85L326.07 306.1L323.57 306.1ZM320.81 304.05L322.06 306.3L319.56 306.3ZM314.12 304.28L315.37 306.53L312.87 306.53ZM315.45 304.4L316.7 306.65L314.2 306.65ZM319.47 304.52L320.72 306.77L318.22 306.77ZM310.1 304.7L311.35 306.95L308.85 306.95ZM316.79 304.88L318.04 307.13L315.54 307.13ZM327.5 305.11L328.75 307.36L326.25 307.36ZM322.15 305.16L323.4 307.41L320.9 307.41ZM312.78 305.34L314.03 307.59L311.53 307.59ZM311.55 305.53L312.8 307.78L310.3 307.78ZM320.25 305.83L321.5 308.08L319 308.08ZM315.9 305.87L317.15 308.12L314.65 308.12ZM310.1 306.14L311.35 308.39L308.85 308.39ZM317.35 306.26L318.6 308.51L316.1 308.51ZM321.7 306.5L322.95 308.75L320.45 308.75ZM313 306.68L314.25 308.93L311.75 308.93ZM326.05 306.77L327.3 309.02L324.8 309.02ZM314.45 306.98L315.7 309.23L313.2 309.23ZM323.15 307.07L324.4 309.32L321.9 309.32ZM327.5 307.28L328.75 309.53L326.25 309.53ZM318.8 307.4L320.05 309.65L317.55 309.65ZM324.6 307.65L325.85 309.9L323.35 309.9ZM324.6 307.78L325.85 310.03L323.35 310.03ZM311.55 308.03L312.8 310.28L310.3 310.28ZM320.25 308.12L321.5 310.37L319 310.37ZM323.15 308.34L324.4 310.59L321.9 310.59ZM315.9 308.49L317.15 310.74L314.65 310.74ZM314.45 308.72L315.7 310.97L313.2 310.97ZM321.7 308.85L322.95 311.1L320.45 311.1ZM310.1 309.03L311.35 311.28L308.85 311.28ZM326.05 309.29L327.3 311.54L324.8 311.54ZM318.8 309.46L320.05 311.71L317.55 311.71ZM317.35 309.6L318.6 311.85L316.1 311.85ZM327.5 309.66L328.75 311.91L326.25 311.91ZM313 309.94L314.25 312.19L311.75 312.19ZM324.6 310.1L325.85 312.35L323.35 312.35ZM310.1 310.27L311.35 312.52L308.85 312.52ZM323.15 310.34L324.4 312.59L321.9 312.59ZM320.25 310.65L321.5 312.9L319 312.9ZM315.9 310.69L317.15 312.94L314.65 312.94ZM313 310.95L314.25 313.2L311.75 313.2ZM314.45 311.03L315.7 313.28L313.2 313.28ZM327.5 311.27L328.75 313.52L326.25 313.52ZM311.55 311.51L312.8 313.76L310.3 313.76ZM326.05 311.65L327.3 313.9L324.8 313.9ZM317.35 311.88L318.6 314.13L316.1 314.13ZM318.8 311.91L320.05 314.16L317.55 314.16ZM321.7 312.15L322.95 314.4L320.45 314.4ZM323.48 312.35L324.73 314.6L322.23 314.6ZM327.5 312.42L328.75 314.67L326.25 314.67ZM322.15 312.68L323.4 314.93L320.9 314.93ZM311.44 312.82L312.69 315.07L310.19 315.07ZM312.78 313.02L314.03 315.27L311.53 315.27ZM320.81 313.22L322.06 315.47L319.56 315.47ZM324.82 313.32L326.07 315.57L323.57 315.57ZM326.16 313.53L327.41 315.78L324.91 315.78ZM310.1 313.73L311.35 315.98L308.85 315.98ZM318.13 313.83L319.38 316.08L316.88 316.08ZM314.12 314L315.37 316.25L312.87 316.25ZM316.79 314.25L318.04 316.5L315.54 316.5ZM315.45 314.37L316.7 316.62L314.2 316.62ZM319.47 314.48L320.72 316.73L318.22 316.73ZM321.17 314.66L322.42 316.91L319.92 316.91ZM319.59 314.9L320.84 317.15L318.34 317.15ZM310.1 315.08L311.35 317.33L308.85 317.33ZM327.5 315.17L328.75 317.42L326.25 317.42ZM318.01 315.4L319.26 317.65L316.76 317.65ZM325.92 315.66L327.17 317.91L324.67 317.91ZM324.34 315.69L325.59 317.94L323.09 317.94ZM313.26 315.86L314.51 318.11L312.01 318.11ZM322.75 316.03L324 318.28L321.5 318.28ZM316.43 316.36L317.68 318.61L315.18 318.61ZM314.85 316.51L316.1 318.76L313.6 318.76ZM311.68 316.65L312.93 318.9L310.43 318.9ZM313 316.87L314.25 319.12L311.75 319.12ZM310.1 317.05L311.35 319.3L308.85 319.3ZM323.15 317.19L324.4 319.44L321.9 319.44ZM327.5 317.4L328.75 319.65L326.25 319.65ZM311.55 317.55L312.8 319.8L310.3 319.8ZM320.25 317.73L321.5 319.98L319 319.98ZM321.7 317.92L322.95 320.17L320.45 320.17ZM315.9 317.96L317.15 320.21L314.65 320.21ZM326.05 318.17L327.3 320.42L324.8 320.42ZM324.6 318.34L325.85 320.59L323.35 320.59ZM318.8 318.47L320.05 320.72L317.55 320.72ZM314.45 318.7L315.7 320.95L313.2 320.95ZM317.35 318.83L318.6 321.08L316.1 321.08ZM318.8 319.15L320.05 321.4L317.55 321.4ZM313 319.16L314.25 321.41L311.75 321.41ZM310.1 319.34L311.35 321.59L308.85 321.59ZM311.55 319.68L312.8 321.93L310.3 321.93ZM321.7 319.78L322.95 322.03L320.45 322.03ZM327.5 319.86L328.75 322.11L326.25 322.11ZM324.6 320.15L325.85 322.4L323.35 322.4ZM314.45 320.32L315.7 322.57L313.2 322.57ZM317.35 320.53L318.6 322.78L316.1 322.78ZM320.25 320.63L321.5 322.88L319 322.88ZM323.15 320.88L324.4 323.13L321.9 323.13ZM315.9 321.04L317.15 323.29L314.65 323.29ZM326.05 321.24L327.3 323.49L324.8 323.49ZM312.78 321.43L314.03 323.68L311.53 323.68ZM319.47 321.62L320.72 323.87L318.22 323.87ZM314.12 321.68L315.37 323.93L312.87 323.93ZM324.82 321.82L326.07 324.07L323.57 324.07ZM322.15 322.09L323.4 324.34L320.9 324.34ZM327.5 322.21L328.75 324.46L326.25 324.46ZM316.79 322.48L318.04 324.73L315.54 324.73ZM310.1 322.62L311.35 324.87L308.85 324.87ZM318.13 322.76L319.38 325.01L316.88 325.01ZM315.45 322.96L316.7 325.21L314.2 325.21ZM326.16 323.15L327.41 325.4L324.91 325.4ZM311.44 323.21L312.69 325.46L310.19 325.46ZM320.81 323.46L322.06 325.71L319.56 325.71ZM323.48 323.59L324.73 325.84L322.23 325.84ZM321.7 323.79L322.95 326.04L320.45 326.04ZM327.5 323.94L328.75 326.19L326.25 326.19ZM323.15 324.2L324.4 326.45L321.9 326.45ZM315.9 324.38L317.15 326.63L314.65 326.63ZM310.1 324.61L311.35 326.86L308.85 326.86ZM320.25 324.62L321.5 326.87L319 326.87ZM324.6 324.96L325.85 327.21L323.35 327.21ZM317.35 325.04L318.6 327.29L316.1 327.29ZM314.45 325.22L315.7 327.47L313.2 327.47ZM313 325.38L314.25 327.63L311.75 327.63ZM311.55 325.56L312.8 327.81L310.3 327.81ZM326.05 325.85L327.3 328.1L324.8 328.1ZM318.8 325.86L320.05 328.11L317.55 328.11ZM318.8 326.13L320.05 328.38L317.55 328.38ZM323.15 326.3L324.4 328.55L321.9 328.55ZM320.25 326.44L321.5 328.69L319 328.69ZM317.35 326.69L318.6 328.94L316.1 328.94ZM313 326.87L314.25 329.12L311.75 329.12ZM326.05 326.99L327.3 329.24L324.8 329.24ZM310.1 327.11L311.35 329.36L308.85 329.36ZM324.6 327.42L325.85 329.67L323.35 329.67ZM311.55 327.59L312.8 329.84L310.3 329.84ZM314.45 327.66L315.7 329.91L313.2 329.91ZM315.9 327.86L317.15 330.11L314.65 330.11ZM321.7 328.06L322.95 330.31L320.45 330.31ZM327.5 328.27L328.75 330.52L326.25 330.52ZM314.45 328.46L315.7 330.71L313.2 330.71ZM326.05 328.65L327.3 330.9L324.8 330.9ZM324.6 328.78L325.85 331.03L323.35 331.03ZM323.15 328.94L324.4 331.19L321.9 331.19ZM321.7 329.16L322.95 331.41L320.45 331.41ZM310.1 329.29L311.35 331.54L308.85 331.54ZM311.55 329.44L312.8 331.69L310.3 331.69ZM327.5 329.58L328.75 331.83L326.25 331.83ZM313 329.86L314.25 332.11L311.75 332.11ZM320.25 329.95L321.5 332.2L319 332.2ZM318.8 330.09L320.05 332.34L317.55 332.34ZM317.35 330.43L318.6 332.68L316.1 332.68ZM315.9 330.44L317.15 332.69L314.65 332.69ZM322.15 330.69L323.4 332.94L320.9 332.94ZM315.45 330.9L316.7 333.15L314.2 333.15ZM320.81 331.11L322.06 333.36L319.56 333.36ZM312.78 331.2L314.03 333.45L311.53 333.45ZM311.44 331.47L312.69 333.72L310.19 333.72ZM310.1 331.62L311.35 333.87L308.85 333.87ZM327.5 331.82L328.75 334.07L326.25 334.07ZM316.79 331.88L318.04 334.13L315.54 334.13ZM318.13 332.19L319.38 334.44L316.88 334.44ZM314.12 332.29L315.37 334.54L312.87 334.54ZM319.47 332.41L320.72 334.66L318.22 334.66ZM326.16 332.67L327.41 334.92L324.91 334.92ZM324.82 332.8L326.07 335.05L323.57 335.05ZM323.48 332.86L324.73 335.11L322.23 335.11ZM312.78 333.08L314.03 335.33L311.53 335.33ZM319.47 333.19L320.72 335.44L318.22 335.44ZM320.81 333.36L322.06 335.61L319.56 335.61ZM316.79 333.5L318.04 335.75L315.54 335.75ZM326.16 333.68L327.41 335.93L324.91 335.93ZM311.44 333.93L312.69 336.18L310.19 336.18ZM315.45 334.07L316.7 336.32L314.2 336.32ZM327.5 334.28L328.75 336.53L326.25 336.53ZM318.13 334.3L319.38 336.55L316.88 336.55ZM310.1 334.46L311.35 336.71L308.85 336.71ZM323.48 334.72L324.73 336.97L322.23 336.97ZM314.12 334.8L315.37 337.05L312.87 337.05ZM324.82 335L326.07 337.25L323.57 337.25ZM322.15 335.14L323.4 337.39L320.9 337.39ZM325.01 335.41L326.26 337.66L323.76 337.66ZM311.34 335.42L312.59 337.67L310.09 337.67ZM327.5 335.65L328.75 337.9L326.25 337.9ZM326.26 335.86L327.51 338.11L325.01 338.11ZM321.29 335.95L322.54 338.2L320.04 338.2ZM322.53 336.2L323.78 338.45L321.28 338.45ZM316.31 336.26L317.56 338.51L315.06 338.51ZM318.8 336.47L320.05 338.72L317.55 338.72ZM313.83 336.69L315.08 338.94L312.58 338.94ZM312.59 336.71L313.84 338.96L311.34 338.96ZM315.07 336.92L316.32 339.17L313.82 339.17ZM320.04 337.14L321.29 339.39L318.79 339.39ZM310.1 337.29L311.35 339.54L308.85 339.54ZM323.77 337.42L325.02 339.67L322.52 339.67ZM317.56 337.52L318.81 339.77L316.31 339.77ZM319.47 337.69L320.72 339.94L318.22 339.94ZM326.16 337.9L327.41 340.15L324.91 340.15ZM324.82 338.03L326.07 340.28L323.57 340.28ZM312.78 338.3L314.03 340.55L311.53 340.55ZM318.13 338.42L319.38 340.67L316.88 340.67ZM320.81 338.6L322.06 340.85L319.56 340.85ZM316.79 338.69L318.04 340.94L315.54 340.94ZM314.12 338.84L315.37 341.09L312.87 341.09ZM322.15 339.09L323.4 341.34L320.9 341.34ZM327.5 339.24L328.75 341.49L326.25 341.49ZM315.45 339.31L316.7 341.56L314.2 341.56ZM323.48 339.47L324.73 341.72L322.23 341.72ZM311.44 339.61L312.69 341.86L310.19 341.86ZM310.1 339.78L311.35 342.03L308.85 342.03ZM316.79 339.98L318.04 342.23L315.54 342.23ZM323.48 340.2L324.73 342.45L322.23 342.45ZM326.16 340.36L327.41 342.61L324.91 342.61ZM320.81 340.47L322.06 342.72L319.56 342.72ZM312.78 340.58L314.03 342.83L311.53 342.83ZM310.1 340.85L311.35 343.1L308.85 343.1ZM319.47 340.99L320.72 343.24L318.22 343.24ZM315.45 341.13L316.7 343.38L314.2 343.38ZM314.12 341.35L315.37 343.6L312.87 343.6ZM322.15 341.46L323.4 343.71L320.9 343.71ZM327.5 341.63L328.75 343.88L326.25 343.88ZM318.13 341.69L319.38 343.94L316.88 343.94ZM311.44 341.87L312.69 344.12L310.19 344.12ZM324.82 342.09L326.07 344.34L323.57 344.34ZM313 342.24L314.25 344.49L311.75 344.49ZM327.5 342.4L328.75 344.65L326.25 344.65ZM315.9 342.57L317.15 344.82L314.65 344.82ZM310.1 342.7L311.35 344.95L308.85 344.95ZM318.8 342.94L320.05 345.19L317.55 345.19ZM321.7 342.96L322.95 345.21L320.45 345.21ZM324.6 343.86L325.85 346.11L323.35 346.11ZM323.8 345.59L325.05 347.84L322.55 347.84ZM313.8 346.36L315.05 348.61L312.55 348.61ZM318.8 347.41L320.05 349.66L317.55 349.66ZM323.8 348.6L325.05 350.85L322.55 350.85ZM313.8 349.63L315.05 351.88L312.55 351.88ZM318.8 350.64L320.05 352.89L317.55 352.89ZM323.8 351.5L325.05 353.75L322.55 353.75ZM318.8 351.98L320.05 354.23L317.55 354.23ZM313.8 353.23L315.05 355.48L312.55 355.48ZM318.8 354.92L320.05 357.17L317.55 357.17ZM323.8 355.21L325.05 357.46L322.55 357.46ZM313.8 356.53L315.05 358.78L312.55 358.78ZM318.8 357.58L320.05 359.83L317.55 359.83ZM318.8 359.88L320.05 362.13L317.55 362.13ZM318.8 363.49L320.05 365.74L317.55 365.74Z" fill="#cf1838"/>
<line x1="230.3" y1="328.18" x2="249.3" y2="328.18" stroke="#1a1a1a" stroke-width="1.1"/>
<line x1="256.6" y1="322.68" x2="275.6" y2="322.68" stroke="#1a1a1a" stroke-width="1.1"/>
<line x1="283" y1="322.68" x2="302" y2="322.68" stroke="#1a1a1a" stroke-width="1.1"/>
<line x1="309.3" y1="319.01" x2="328.3" y2="319.01" stroke="#1a1a1a" stroke-width="1.1"/>
<line x1="239.8" y1="379.5" x2="239.8" y2="382.4" stroke="#3a3a3a" stroke-width="1"/>
<text x="239.8" y="375.6" font-size="7.2" text-anchor="middle" fill="#231f20" font-weight="normal" stroke="#231f20" stroke-width="0.12" textLength="23" lengthAdjust="spacingAndGlyphs">N=238</text>
<text x="239.8" y="393.4" font-size="7.8" text-anchor="middle" fill="#231f20" font-weight="normal" stroke="#231f20" stroke-width="0.12">HD</text>
<line x1="266.1" y1="379.5" x2="266.1" y2="382.4" stroke="#3a3a3a" stroke-width="1"/>
<text x="266.1" y="375.6" font-size="7.2" text-anchor="middle" fill="#231f20" font-weight="normal" stroke="#231f20" stroke-width="0.12" textLength="23" lengthAdjust="spacingAndGlyphs">N=447</text>
<text x="266.1" y="393.4" font-size="7.8" text-anchor="middle" fill="#231f20" font-weight="normal" stroke="#231f20" stroke-width="0.12">P1</text>
<line x1="292.5" y1="379.5" x2="292.5" y2="382.4" stroke="#3a3a3a" stroke-width="1"/>
<text x="292.5" y="375.6" font-size="7.2" text-anchor="middle" fill="#231f20" font-weight="normal" stroke="#231f20" stroke-width="0.12" textLength="23" lengthAdjust="spacingAndGlyphs">N=398</text>
<text x="292.5" y="393.4" font-size="7.8" text-anchor="middle" fill="#231f20" font-weight="normal" stroke="#231f20" stroke-width="0.12">P2</text>
<line x1="318.8" y1="379.5" x2="318.8" y2="382.4" stroke="#3a3a3a" stroke-width="1"/>
<text x="318.8" y="375.6" font-size="7.2" text-anchor="middle" fill="#231f20" font-weight="normal" stroke="#231f20" stroke-width="0.12" textLength="23" lengthAdjust="spacingAndGlyphs">N=333</text>
<text x="318.8" y="393.4" font-size="7.8" text-anchor="middle" fill="#231f20" font-weight="normal" stroke="#231f20" stroke-width="0.12">P3</text>
<line x1="235.2" y1="221.8" x2="262.9" y2="221.8" stroke="#3a3a3a" stroke-width="1.1"/>
<line x1="235.2" y1="219.5" x2="235.2" y2="224.1" stroke="#3a3a3a" stroke-width="1"/>
<line x1="262.9" y1="219.5" x2="262.9" y2="224.1" stroke="#3a3a3a" stroke-width="1"/>
<text x="249" y="223.4" font-size="10" text-anchor="middle" fill="#231f20" font-weight="normal" stroke="#231f20" stroke-width="0.12" textLength="8.4" lengthAdjust="spacingAndGlyphs">**</text>
<line x1="235.2" y1="212.2" x2="290.6" y2="212.2" stroke="#3a3a3a" stroke-width="1.1"/>
<line x1="235.2" y1="209.9" x2="235.2" y2="214.5" stroke="#3a3a3a" stroke-width="1"/>
<line x1="290.6" y1="209.9" x2="290.6" y2="214.5" stroke="#3a3a3a" stroke-width="1"/>
<text x="262" y="213.6" font-size="10" text-anchor="middle" fill="#231f20" font-weight="normal" stroke="#231f20" stroke-width="0.12" textLength="8.4" lengthAdjust="spacingAndGlyphs">**</text>
<line x1="235.2" y1="201.9" x2="316.5" y2="201.9" stroke="#3a3a3a" stroke-width="1.1"/>
<line x1="235.2" y1="199.6" x2="235.2" y2="204.2" stroke="#3a3a3a" stroke-width="1"/>
<line x1="316.5" y1="199.6" x2="316.5" y2="204.2" stroke="#3a3a3a" stroke-width="1"/>
<text x="272.8" y="202.8" font-size="10" text-anchor="middle" fill="#231f20" font-weight="normal" stroke="#231f20" stroke-width="0.12" textLength="16.8" lengthAdjust="spacingAndGlyphs">****</text>
<line x1="382.6" y1="213.6" x2="382.6" y2="379.2" stroke="#3a3a3a" stroke-width="1.1"/>
<line x1="382.1" y1="378.7" x2="511.7" y2="378.7" stroke="#3a3a3a" stroke-width="1.3"/>
<line x1="379.6" y1="378.7" x2="382.6" y2="378.7" stroke="#3a3a3a" stroke-width="0.9"/>
<text x="377.4" y="381.5" font-size="7.8" text-anchor="end" fill="#231f20" font-weight="normal" stroke="#231f20" stroke-width="0.12">0</text>
<line x1="379.6" y1="338.5" x2="382.6" y2="338.5" stroke="#3a3a3a" stroke-width="0.9"/>
<text x="377.4" y="341.3" font-size="7.8" text-anchor="end" fill="#231f20" font-weight="normal" stroke="#231f20" stroke-width="0.12">1</text>
<line x1="379.6" y1="298.3" x2="382.6" y2="298.3" stroke="#3a3a3a" stroke-width="0.9"/>
<text x="377.4" y="301.1" font-size="7.8" text-anchor="end" fill="#231f20" font-weight="normal" stroke="#231f20" stroke-width="0.12">2</text>
<line x1="379.6" y1="258.1" x2="382.6" y2="258.1" stroke="#3a3a3a" stroke-width="0.9"/>
<text x="377.4" y="260.9" font-size="7.8" text-anchor="end" fill="#231f20" font-weight="normal" stroke="#231f20" stroke-width="0.12">3</text>
<line x1="379.6" y1="217.9" x2="382.6" y2="217.9" stroke="#3a3a3a" stroke-width="0.9"/>
<text x="377.4" y="220.7" font-size="7.8" text-anchor="end" fill="#231f20" font-weight="normal" stroke="#231f20" stroke-width="0.12">4</text>
<line x1="380.8" y1="358.6" x2="382.6" y2="358.6" stroke="#3a3a3a" stroke-width="0.8"/>
<line x1="380.8" y1="318.4" x2="382.6" y2="318.4" stroke="#3a3a3a" stroke-width="0.8"/>
<line x1="380.8" y1="278.2" x2="382.6" y2="278.2" stroke="#3a3a3a" stroke-width="0.8"/>
<line x1="380.8" y1="238" x2="382.6" y2="238" stroke="#3a3a3a" stroke-width="0.8"/>
<text x="365.6" y="297.5" font-size="7.8" text-anchor="middle" fill="#231f20" font-weight="normal" stroke="#231f20" stroke-width="0.12" textLength="148.8" lengthAdjust="spacingAndGlyphs" transform="rotate(-90 365.6 297.5)">Average cytotoxic granule diameter (&#956;m)/cell</text>
<path d="M400.3 284.7L401.7 286.1L400.3 287.5L398.9 286.1ZM397.8 291.6L399.2 293L397.8 294.4L396.4 293ZM402.9 291.6L404.3 293L402.9 294.4L401.5 293ZM400.3 294.8L401.7 296.2L400.3 297.6L398.9 296.2ZM397.8 299.3L399.2 300.7L397.8 302.1L396.4 300.7ZM402.9 301.8L404.3 303.2L402.9 304.6L401.5 303.2ZM400.3 304.8L401.7 306.2L400.3 307.6L398.9 306.2ZM400.3 306.9L401.7 308.3L400.3 309.7L398.9 308.3ZM400.3 309.9L401.7 311.3L400.3 312.7L398.9 311.3ZM395.5 313.1L396.9 314.5L395.5 315.9L394.1 314.5ZM400.3 314.1L401.7 315.5L400.3 316.9L398.9 315.5ZM405.4 316.6L406.8 318L405.4 319.4L404 318ZM395.5 318.9L396.9 320.3L395.5 321.7L394.1 320.3ZM400.3 318.7L401.7 320.1L400.3 321.5L398.9 320.1ZM400.3 327.7L401.7 329.1L400.3 330.5L398.9 329.1ZM400.3 330.7L401.7 332.1L400.3 333.5L398.9 332.1ZM397.8 342.4L399.2 343.8L397.8 345.2L396.4 343.8ZM402.9 341.5L404.3 342.9L402.9 344.3L401.5 342.9ZM395.5 347.5L396.9 348.9L395.5 350.3L394.1 348.9ZM400.3 347.5L401.7 348.9L400.3 350.3L398.9 348.9ZM405.4 347.5L406.8 348.9L405.4 350.3L404 348.9ZM400.3 351.1L401.7 352.5L400.3 353.9L398.9 352.5Z" fill="#4b1570"/>
<path d="M431.82 274.69L433.07 272.44L430.57 272.44ZM428.06 277.39L429.31 275.14L426.81 275.14ZM431.82 278.46L433.07 276.21L430.57 276.21ZM435.59 277.12L436.84 274.87L434.34 274.87ZM428.06 280.08L429.31 277.83L426.81 277.83ZM431.82 280.48L433.07 278.23L430.57 278.23ZM435.59 281.42L436.84 279.17L434.34 279.17ZM431.82 284.52L433.07 282.27L430.57 282.27ZM435.59 284.52L436.84 282.27L434.34 282.27ZM428.06 286.94L429.31 284.69L426.81 284.69ZM431.82 287.21L433.07 284.96L430.57 284.96ZM435.59 288.96L436.84 286.71L434.34 286.71ZM431.82 290.98L433.07 288.73L430.57 288.73ZM424.15 295.69L425.4 293.44L422.9 293.44ZM428.06 296.63L429.31 294.38L426.81 294.38ZM431.82 295.29L433.07 293.04L430.57 293.04ZM435.59 297.04L436.84 294.79L434.34 294.79ZM428.06 299.32L429.31 297.07L426.81 297.07ZM431.82 298.65L433.07 296.4L430.57 296.4ZM435.59 300L436.84 297.75L434.34 297.75ZM431.82 304.04L433.07 301.79L430.57 301.79ZM424.15 307.67L425.4 305.42L422.9 305.42ZM439.23 307.67L440.48 305.42L437.98 305.42ZM431.82 309.42L433.07 307.17L430.57 307.17ZM435.59 310.09L436.84 307.84L434.34 307.84ZM429.8 313.19L431.05 310.94L428.55 310.94ZM433.57 313.19L434.82 310.94L432.32 310.94ZM431.82 317.9L433.07 315.65L430.57 315.65ZM431.82 322.61L433.07 320.36L430.57 320.36ZM424.15 328.93L425.4 326.68L422.9 326.68ZM428.06 328.53L429.31 326.28L426.81 326.28ZM431.82 329.34L433.07 327.09L430.57 327.09ZM435.59 328.93L436.84 326.68L434.34 326.68ZM424.15 332.3L425.4 330.05L422.9 330.05ZM428.06 331.63L429.31 329.38L426.81 329.38ZM431.82 333.38L433.07 331.13L430.57 331.13ZM435.59 333.38L436.84 331.13L434.34 331.13ZM439.23 331.63L440.48 329.38L437.98 329.38ZM424.15 335.26L425.4 333.01L422.9 333.01ZM428.06 334.32L429.31 332.07L426.81 332.07ZM431.82 337.28L433.07 335.03L430.57 335.03ZM428.06 341.32L429.31 339.07L426.81 339.07ZM431.82 343.34L433.07 341.09L430.57 341.09ZM435.59 348.45L436.84 346.2L434.34 346.2ZM431.82 350.47L433.07 348.22L430.57 348.22ZM431.82 353.16L433.07 350.91L430.57 350.91ZM431.82 360.16L433.07 357.91L430.57 357.91Z" fill="#2aab3c"/>
<path d="M463.17 226.51L464.47 227.81L463.17 229.11L461.87 227.81ZM463.17 229.74L464.47 231.04L463.17 232.34L461.87 231.04ZM463.17 236.2L464.47 237.5L463.17 238.8L461.87 237.5ZM460.75 256.12L462.05 257.42L460.75 258.72L459.45 257.42ZM463.17 259.08L464.47 260.38L463.17 261.68L461.87 260.38ZM465.86 258.4L467.16 259.7L465.86 261L464.56 259.7ZM461.82 265.13L463.12 266.43L461.82 267.73L460.52 266.43ZM464.52 265.13L465.82 266.43L464.52 267.73L463.22 266.43ZM463.17 269.57L464.47 270.87L463.17 272.17L461.87 270.87ZM465.86 270.52L467.16 271.82L465.86 273.12L464.56 271.82ZM463.17 272.8L464.47 274.1L463.17 275.4L461.87 274.1ZM460.48 277.25L461.78 278.55L460.48 279.85L459.18 278.55ZM462.5 277.25L463.8 278.55L462.5 279.85L461.2 278.55ZM465.86 275.9L467.16 277.2L465.86 278.5L464.56 277.2ZM465.86 278.59L467.16 279.89L465.86 281.19L464.56 279.89ZM463.17 280.34L464.47 281.64L463.17 282.94L461.87 281.64ZM458.06 284.92L459.36 286.22L458.06 287.52L456.76 286.22ZM460.75 284.92L462.05 286.22L460.75 287.52L459.45 286.22ZM465.86 284.92L467.16 286.22L465.86 287.52L464.56 286.22ZM468.55 284.92L469.85 286.22L468.55 287.52L467.25 286.22ZM463.17 287.34L464.47 288.64L463.17 289.94L461.87 288.64ZM455.5 289.36L456.8 290.66L455.5 291.96L454.2 290.66ZM458.06 289.36L459.36 290.66L458.06 291.96L456.76 290.66ZM460.75 289.36L462.05 290.66L460.75 291.96L459.45 290.66ZM465.86 289.36L467.16 290.66L465.86 291.96L464.56 290.66ZM468.55 289.36L469.85 290.66L468.55 291.96L467.25 290.66ZM470.84 289.36L472.14 290.66L470.84 291.96L469.54 290.66ZM463.17 291.38L464.47 292.68L463.17 293.98L461.87 292.68ZM460.75 293.4L462.05 294.7L460.75 296L459.45 294.7ZM455.77 295.42L457.07 296.72L455.77 298.02L454.47 296.72ZM458.06 295.42L459.36 296.72L458.06 298.02L456.76 296.72ZM460.75 295.42L462.05 296.72L460.75 298.02L459.45 296.72ZM463.17 295.42L464.47 296.72L463.17 298.02L461.87 296.72ZM465.86 295.42L467.16 296.72L465.86 298.02L464.56 296.72ZM470.84 295.42L472.14 296.72L470.84 298.02L469.54 296.72ZM458.06 299.74L459.36 301.04L458.06 302.34L456.76 301.04ZM460.75 299.2L462.05 300.5L460.75 301.8L459.45 300.5ZM463.17 298.79L464.47 300.09L463.17 301.39L461.87 300.09ZM465.86 298.39L467.16 299.69L465.86 300.99L464.56 299.69ZM468.55 300.54L469.85 301.84L468.55 303.14L467.25 301.84ZM460.75 301.08L462.05 302.38L460.75 303.68L459.45 302.38ZM465.86 301.08L467.16 302.38L465.86 303.68L464.56 302.38ZM460.75 304.85L462.05 306.15L460.75 307.45L459.45 306.15ZM465.86 304.85L467.16 306.15L465.86 307.45L464.56 306.15ZM458.06 308.89L459.36 310.19L458.06 311.49L456.76 310.19ZM460.75 308.89L462.05 310.19L460.75 311.49L459.45 310.19ZM463.17 308.22L464.47 309.52L463.17 310.82L461.87 309.52ZM465.86 308.89L467.16 310.19L465.86 311.49L464.56 310.19ZM468.55 309.56L469.85 310.86L468.55 312.16L467.25 310.86ZM470.84 308.62L472.14 309.92L470.84 311.22L469.54 309.92ZM463.17 310.23L464.47 311.53L463.17 312.83L461.87 311.53ZM461.82 313.2L463.12 314.5L461.82 315.8L460.52 314.5ZM464.52 312.66L465.82 313.96L464.52 315.26L463.22 313.96ZM465.86 318.31L467.16 319.61L465.86 320.91L464.56 319.61ZM460.75 320.33L462.05 321.63L460.75 322.93L459.45 321.63ZM463.17 322.35L464.47 323.65L463.17 324.95L461.87 323.65ZM465.86 323.42L467.16 324.72L465.86 326.02L464.56 324.72ZM468.55 323.02L469.85 324.32L468.55 325.62L467.25 324.32ZM460.75 323.96L462.05 325.26L460.75 326.56L459.45 325.26ZM463.17 324.77L464.47 326.07L463.17 327.37L461.87 326.07ZM458.06 327.06L459.36 328.36L458.06 329.66L456.76 328.36ZM460.75 328L462.05 329.3L460.75 330.6L459.45 329.3ZM463.17 328.81L464.47 330.11L463.17 331.41L461.87 330.11ZM465.86 328.81L467.16 330.11L465.86 331.41L464.56 330.11ZM458.06 333.11L459.36 334.41L458.06 335.71L456.76 334.41ZM460.75 333.11L462.05 334.41L460.75 335.71L459.45 334.41ZM463.17 335.54L464.47 336.84L463.17 338.14L461.87 336.84ZM465.86 335.54L467.16 336.84L465.86 338.14L464.56 336.84ZM468.55 335.13L469.85 336.43L468.55 337.73L467.25 336.43ZM463.17 339.57L464.47 340.87L463.17 342.17L461.87 340.87ZM465.86 340.52L467.16 341.82L465.86 343.12L464.56 341.82ZM460.75 342.54L462.05 343.84L460.75 345.14L459.45 343.84ZM463.17 343.88L464.47 345.18L463.17 346.48L461.87 345.18ZM465.86 343.61L467.16 344.91L465.86 346.21L464.56 344.91ZM463.17 347.65L464.47 348.95L463.17 350.25L461.87 348.95Z" fill="#17528e"/>
<path d="M494.53 229.21L495.83 226.87L493.23 226.87ZM494.53 245.63L495.83 243.29L493.23 243.29ZM493.18 256.13L494.48 253.79L491.88 253.79ZM496.14 256.13L497.44 253.79L494.84 253.79ZM496.14 258.01L497.44 255.67L494.84 255.67ZM490.09 268.78L491.39 266.44L488.79 266.44ZM493.18 268.78L494.48 266.44L491.88 266.44ZM496.14 270.53L497.44 268.19L494.84 268.19ZM499.24 270.53L500.54 268.19L497.94 268.19ZM493.18 272.55L494.48 270.21L491.88 270.21ZM487.13 275.24L488.43 272.9L485.83 272.9ZM490.09 275.24L491.39 272.9L488.79 272.9ZM493.18 276.85L494.48 274.51L491.88 274.51ZM496.14 276.85L497.44 274.51L494.84 274.51ZM502.2 276.32L503.5 273.98L500.9 273.98ZM490.09 281.97L491.39 279.63L488.79 279.63ZM496.14 281.97L497.44 279.63L494.84 279.63ZM499.24 281.97L500.54 279.63L497.94 279.63ZM493.18 283.58L494.48 281.24L491.88 281.24ZM496.14 283.58L497.44 281.24L494.84 281.24ZM499.24 283.58L500.54 281.24L497.94 281.24ZM494.53 287.62L495.83 285.28L493.23 285.28ZM493.18 290.72L494.48 288.38L491.88 288.38ZM496.14 290.72L497.44 288.38L494.84 288.38ZM499.24 290.72L500.54 288.38L497.94 288.38ZM496.14 294.08L497.44 291.74L494.84 291.74ZM499.24 294.08L500.54 291.74L497.94 291.74ZM487.13 296.1L488.43 293.76L485.83 293.76ZM490.09 296.1L491.39 293.76L488.79 293.76ZM493.18 296.1L494.48 293.76L491.88 293.76ZM496.14 296.1L497.44 293.76L494.84 293.76ZM499.24 296.1L500.54 293.76L497.94 293.76ZM502.2 296.1L503.5 293.76L500.9 293.76ZM487.13 299.47L488.43 297.13L485.83 297.13ZM490.09 299.47L491.39 297.13L488.79 297.13ZM493.18 299.47L494.48 297.13L491.88 297.13ZM496.14 299.47L497.44 297.13L494.84 297.13ZM499.24 299.47L500.54 297.13L497.94 297.13ZM502.2 299.47L503.5 297.13L500.9 297.13ZM493.18 301.5L494.48 299.16L491.88 299.16ZM496.14 301.5L497.44 299.16L494.84 299.16ZM487.13 304.86L488.43 302.52L485.83 302.52ZM490.09 304.86L491.39 302.52L488.79 302.52ZM499.24 304.86L500.54 302.52L497.94 302.52ZM496.14 306.48L497.44 304.14L494.84 304.14ZM502.2 306.48L503.5 304.14L500.9 304.14ZM490.09 308.63L491.39 306.29L488.79 306.29ZM493.18 308.63L494.48 306.29L491.88 306.29ZM496.14 308.63L497.44 306.29L494.84 306.29ZM499.24 308.63L500.54 306.29L497.94 306.29ZM496.14 309.98L497.44 307.64L494.84 307.64ZM496.14 316.3L497.44 313.96L494.84 313.96ZM499.24 318.32L500.54 315.98L497.94 315.98ZM493.18 319.94L494.48 317.6L491.88 317.6ZM496.14 319.94L497.44 317.6L494.84 317.6ZM496.14 323.03L497.44 320.69L494.84 320.69ZM493.18 324.38L494.48 322.04L491.88 322.04ZM493.18 331.51L494.48 329.17L491.88 329.17ZM496.14 331.51L497.44 329.17L494.84 329.17ZM496.14 333.4L497.44 331.06L494.84 331.06ZM493.18 334.74L494.48 332.4L491.88 332.4ZM493.18 339.18L494.48 336.84L491.88 336.84ZM496.14 340.93L497.44 338.59L494.84 338.59ZM493.18 342.82L494.48 340.48L491.88 340.48Z" fill="#cf1838"/>
<line x1="389.6" y1="316.79" x2="411.2" y2="316.79" stroke="#1a1a1a" stroke-width="1.1"/>
<line x1="421" y1="307.95" x2="442.6" y2="307.95" stroke="#1a1a1a" stroke-width="1.1"/>
<line x1="452.5" y1="299.51" x2="474.1" y2="299.51" stroke="#1a1a1a" stroke-width="1.1"/>
<line x1="483.8" y1="295.49" x2="505.4" y2="295.49" stroke="#1a1a1a" stroke-width="1.1"/>
<line x1="400.6" y1="378.7" x2="400.6" y2="381.6" stroke="#3a3a3a" stroke-width="1"/>
<text x="400.6" y="376" font-size="7.2" text-anchor="middle" fill="#231f20" font-weight="normal" stroke="#231f20" stroke-width="0.12" textLength="19" lengthAdjust="spacingAndGlyphs">N=22</text>
<text x="400.6" y="390.7" font-size="7.8" text-anchor="middle" fill="#231f20" font-weight="normal" stroke="#231f20" stroke-width="0.12">HD</text>
<line x1="431.6" y1="378.7" x2="431.6" y2="381.6" stroke="#3a3a3a" stroke-width="1"/>
<text x="431.6" y="376" font-size="7.2" text-anchor="middle" fill="#231f20" font-weight="normal" stroke="#231f20" stroke-width="0.12" textLength="19" lengthAdjust="spacingAndGlyphs">N=47</text>
<text x="431.6" y="390.7" font-size="7.8" text-anchor="middle" fill="#231f20" font-weight="normal" stroke="#231f20" stroke-width="0.12">P1</text>
<line x1="463.3" y1="378.7" x2="463.3" y2="381.6" stroke="#3a3a3a" stroke-width="1"/>
<text x="463.3" y="376" font-size="7.2" text-anchor="middle" fill="#231f20" font-weight="normal" stroke="#231f20" stroke-width="0.12" textLength="19" lengthAdjust="spacingAndGlyphs">N=77</text>
<text x="463.3" y="390.7" font-size="7.8" text-anchor="middle" fill="#231f20" font-weight="normal" stroke="#231f20" stroke-width="0.12">P2</text>
<line x1="495.4" y1="378.7" x2="495.4" y2="381.6" stroke="#3a3a3a" stroke-width="1"/>
<text x="495.4" y="376" font-size="7.2" text-anchor="middle" fill="#231f20" font-weight="normal" stroke="#231f20" stroke-width="0.12" textLength="19" lengthAdjust="spacingAndGlyphs">N=62</text>
<text x="495.4" y="390.7" font-size="7.8" text-anchor="middle" fill="#231f20" font-weight="normal" stroke="#231f20" stroke-width="0.12">P3</text>
<line x1="399" y1="235.8" x2="431.6" y2="235.8" stroke="#3a3a3a" stroke-width="1.1"/>
<line x1="399" y1="233.5" x2="399" y2="238.1" stroke="#3a3a3a" stroke-width="1"/>
<line x1="431.6" y1="233.5" x2="431.6" y2="238.1" stroke="#3a3a3a" stroke-width="1"/>
<text x="415.3" y="233.6" font-size="7.6" text-anchor="middle" fill="#231f20" font-weight="normal" stroke="#231f20" stroke-width="0.12" textLength="7.6" lengthAdjust="spacingAndGlyphs">ns</text>
<line x1="399" y1="219.4" x2="466.6" y2="219.4" stroke="#3a3a3a" stroke-width="1.1"/>
<line x1="399" y1="217.1" x2="399" y2="221.7" stroke="#3a3a3a" stroke-width="1"/>
<line x1="466.6" y1="217.1" x2="466.6" y2="221.7" stroke="#3a3a3a" stroke-width="1"/>
<text x="433.3" y="220.2" font-size="10" text-anchor="middle" fill="#231f20" font-weight="normal" stroke="#231f20" stroke-width="0.12" textLength="12.4" lengthAdjust="spacingAndGlyphs">***</text>
<line x1="399" y1="204.7" x2="493.7" y2="204.7" stroke="#3a3a3a" stroke-width="1.1"/>
<line x1="399" y1="202.4" x2="399" y2="207" stroke="#3a3a3a" stroke-width="1"/>
<line x1="493.7" y1="202.4" x2="493.7" y2="207" stroke="#3a3a3a" stroke-width="1"/>
<text x="446.3" y="205.5" font-size="10" text-anchor="middle" fill="#231f20" font-weight="normal" stroke="#231f20" stroke-width="0.12" textLength="12.4" lengthAdjust="spacingAndGlyphs">***</text>
<text x="6.4" y="409.8" font-size="11.2" text-anchor="start" fill="#111" font-weight="bold">C</text>
<clipPath id="ec1"><rect x="28.9" y="401.5" width="71.1" height="68.2"/></clipPath>
<g clip-path="url(#ec1)" style="isolation:isolate">
<rect x="28.9" y="401.5" width="71.1" height="68.2" fill="#838383"/>
<g filter="url(#bem)">
<path d="M29 401.5L47 401.5L46 412L42 420L36 430L29 440Z" fill="#646464" stroke="none" stroke-width="1" opacity="1" stroke-linejoin="round" stroke-linecap="round"/><ellipse cx="34.88" cy="417.67" rx="1.54" ry="1.17" fill="#4a4a4a" opacity="1"/><ellipse cx="35.6" cy="418.45" rx="0.95" ry="1.21" fill="#4a4a4a" opacity="1"/><ellipse cx="37.19" cy="424.2" rx="0.88" ry="1.04" fill="#4a4a4a" opacity="1"/><ellipse cx="30.18" cy="424.67" rx="1.35" ry="0.83" fill="#4a4a4a" opacity="1"/><ellipse cx="41.77" cy="429.01" rx="1.32" ry="1.29" fill="#4a4a4a" opacity="1"/><ellipse cx="31.05" cy="402.42" rx="1.22" ry="0.85" fill="#4a4a4a" opacity="1"/><ellipse cx="31.47" cy="408.77" rx="0.82" ry="1.17" fill="#4a4a4a" opacity="1"/><ellipse cx="34.73" cy="425.59" rx="1.22" ry="1.31" fill="#4a4a4a" opacity="1"/><ellipse cx="35.5" cy="420.55" rx="1.17" ry="1.02" fill="#4a4a4a" opacity="1"/><ellipse cx="41.97" cy="429.88" rx="1.47" ry="1.37" fill="#4a4a4a" opacity="1"/><path d="M37 401.8C43 403 46 407 44.5 412C43 417 39 423 35 429C33 433 30.5 438 29 441" fill="none" stroke="#2a2a2a" stroke-width="1.5" opacity="1" stroke-linejoin="round" stroke-linecap="round"/><path d="M29.5 405C32 403.5 34 404.5 34 408" fill="none" stroke="#2e2e2e" stroke-width="1" opacity="1" stroke-linejoin="round" stroke-linecap="round"/><path d="M47 401.5L54 401.5L48 410L44 420L40 432L36 444L29 452L29 440L36 430L42 420L46 412Z" fill="#9c9c9c" stroke="none" stroke-width="1" opacity="1" stroke-linejoin="round" stroke-linecap="round"/><path d="M37 470C36 462 36 452 37.5 442C39.5 432 42 425 45.5 416C48 410 50.5 405.5 55 403.5C60 402 67 404 75 406.5C82 408.5 88 410.5 93 413" fill="none" stroke="#d8d8d8" stroke-width="3.8" opacity="1" stroke-linejoin="round" stroke-linecap="round"/><path d="M33 452L44 448L46 460L56 458L62 462L66 470L32 470Z" fill="#c4c4c4" stroke="none" stroke-width="1" opacity="1" stroke-linejoin="round" stroke-linecap="round"/><ellipse cx="50" cy="465" rx="4" ry="3" fill="#8a8a8a" opacity="1"/><path d="M58 401.5L100 401.5L100 412L92 412L80 408.5L66 405L58 404.5Z" fill="#8e8e8e" stroke="none" stroke-width="1" opacity="1" stroke-linejoin="round" stroke-linecap="round"/><ellipse cx="72.61" cy="403.68" rx="1.03" ry="0.86" fill="#2a2a2a" opacity="1"/><ellipse cx="90.65" cy="405.3" rx="1.48" ry="1.11" fill="#2a2a2a" opacity="1"/><ellipse cx="98.32" cy="409.55" rx="0.8" ry="0.97" fill="#2a2a2a" opacity="1"/><ellipse cx="96.41" cy="405.96" rx="1.58" ry="1.12" fill="#2a2a2a" opacity="1"/><ellipse cx="62.92" cy="407.48" rx="1.42" ry="1.02" fill="#2a2a2a" opacity="1"/><ellipse cx="63.49" cy="404.66" rx="1.57" ry="1.41" fill="#2a2a2a" opacity="1"/><ellipse cx="64.72" cy="403.84" rx="0.88" ry="0.85" fill="#2a2a2a" opacity="1"/><ellipse cx="91.88" cy="403.19" rx="1.25" ry="1.16" fill="#2a2a2a" opacity="1"/><ellipse cx="67.63" cy="408.45" rx="0.9" ry="1.31" fill="#2a2a2a" opacity="1"/><ellipse cx="64.66" cy="405.5" rx="0.97" ry="1.02" fill="#2a2a2a" opacity="1"/><ellipse cx="98.84" cy="409.13" rx="1.04" ry="1.51" fill="#2a2a2a" opacity="1"/><ellipse cx="68.43" cy="405.25" rx="1.48" ry="1.31" fill="#2a2a2a" opacity="1"/><ellipse cx="64.01" cy="410.9" rx="0.97" ry="1.01" fill="#2a2a2a" opacity="1"/><ellipse cx="90.91" cy="404.63" rx="1.04" ry="0.86" fill="#2a2a2a" opacity="1"/><ellipse cx="63.6" cy="407.04" rx="0.99" ry="1.28" fill="#2a2a2a" opacity="1"/><ellipse cx="74.87" cy="405.81" rx="1.57" ry="1.19" fill="#2a2a2a" opacity="1"/><ellipse cx="82.98" cy="409.73" rx="0.95" ry="0.92" fill="#2a2a2a" opacity="1"/><ellipse cx="96.34" cy="409.27" rx="1" ry="0.95" fill="#2a2a2a" opacity="1"/><ellipse cx="89.58" cy="410.43" rx="0.96" ry="1.56" fill="#2a2a2a" opacity="1"/><ellipse cx="95.29" cy="407.23" rx="1.14" ry="0.88" fill="#2a2a2a" opacity="1"/><ellipse cx="61.55" cy="410.65" rx="0.99" ry="1.36" fill="#2a2a2a" opacity="1"/><ellipse cx="70.28" cy="409.33" rx="1.28" ry="1.03" fill="#2a2a2a" opacity="1"/><ellipse cx="67.02" cy="408.34" rx="0.86" ry="0.98" fill="#2a2a2a" opacity="1"/><ellipse cx="82.37" cy="409.6" rx="1.29" ry="1.02" fill="#2a2a2a" opacity="1"/><ellipse cx="96.69" cy="403.44" rx="0.81" ry="1.02" fill="#2a2a2a" opacity="1"/><ellipse cx="77.83" cy="402.07" rx="0.94" ry="1.1" fill="#2a2a2a" opacity="1"/><ellipse cx="82.89" cy="402.75" rx="1.09" ry="1.51" fill="#2a2a2a" opacity="1"/><ellipse cx="99.22" cy="407.74" rx="1.35" ry="1.27" fill="#2a2a2a" opacity="1"/><ellipse cx="65.61" cy="401.83" rx="0.81" ry="1.53" fill="#2a2a2a" opacity="1"/><ellipse cx="88.04" cy="410.65" rx="0.82" ry="1.31" fill="#2a2a2a" opacity="1"/><ellipse cx="80.32" cy="407.71" rx="0.89" ry="1.3" fill="#dadada" opacity="1"/><ellipse cx="64.86" cy="406.14" rx="1.14" ry="1.24" fill="#dadada" opacity="1"/><ellipse cx="90.01" cy="407.48" rx="1.18" ry="1.25" fill="#dadada" opacity="1"/><ellipse cx="75.37" cy="407.32" rx="1.24" ry="1.22" fill="#dadada" opacity="1"/><ellipse cx="77.85" cy="408.22" rx="1.22" ry="1.04" fill="#dadada" opacity="1"/><ellipse cx="85.75" cy="404.75" rx="1.05" ry="1.07" fill="#dadada" opacity="1"/><ellipse cx="65.05" cy="406.93" rx="1.3" ry="1.23" fill="#dadada" opacity="1"/><ellipse cx="89.67" cy="404.8" rx="1.14" ry="1.05" fill="#dadada" opacity="1"/><ellipse cx="78.74" cy="408.63" rx="0.75" ry="1.15" fill="#dadada" opacity="1"/><ellipse cx="63.13" cy="406.61" rx="0.99" ry="0.84" fill="#dadada" opacity="1"/><ellipse cx="88.54" cy="405.73" rx="1.07" ry="1.25" fill="#dadada" opacity="1"/><ellipse cx="71.72" cy="401.6" rx="0.88" ry="1.11" fill="#dadada" opacity="1"/><path d="M69.5 401.5H77V406H69.5Z" fill="#e6e6e6" stroke="none" stroke-width="1" opacity="1" stroke-linejoin="round" stroke-linecap="round"/><path d="M51 416C55 411.5 63 410 71 411.5C79 413 85 413 87.5 417C88.5 423 85 432 79 437.5C73 442 65 445.5 58 443.5C52.5 441 50 433 50 426C50 421 50 418.5 51 416Z" fill="#6a6a6a" stroke="#2f2f2f" stroke-width="1.5" opacity="1" stroke-linejoin="round" stroke-linecap="round"/><ellipse cx="59.48" cy="418.58" rx="1.62" ry="1.39" fill="#4a4a4a" opacity="1"/><ellipse cx="67.14" cy="438.08" rx="1.09" ry="1.4" fill="#4a4a4a" opacity="1"/><ellipse cx="59.35" cy="425.63" rx="1.53" ry="1.62" fill="#4a4a4a" opacity="1"/><ellipse cx="81.17" cy="424.38" rx="1.32" ry="1.08" fill="#4a4a4a" opacity="1"/><ellipse cx="57.36" cy="427.4" rx="1.55" ry="1.56" fill="#4a4a4a" opacity="1"/><ellipse cx="75.76" cy="439.65" rx="1.05" ry="0.95" fill="#4a4a4a" opacity="1"/><ellipse cx="67.42" cy="421.43" rx="0.99" ry="1.17" fill="#4a4a4a" opacity="1"/><ellipse cx="73.02" cy="427.33" rx="1.08" ry="1.56" fill="#4a4a4a" opacity="1"/><ellipse cx="84.43" cy="426.22" rx="0.87" ry="0.83" fill="#4a4a4a" opacity="1"/><ellipse cx="80.93" cy="415.12" rx="1.44" ry="1.31" fill="#4a4a4a" opacity="1"/><ellipse cx="62.89" cy="435.37" rx="0.82" ry="0.92" fill="#4a4a4a" opacity="1"/><ellipse cx="67.55" cy="414.67" rx="1.55" ry="1.01" fill="#4a4a4a" opacity="1"/><ellipse cx="57.51" cy="415.27" rx="1.37" ry="1.2" fill="#4a4a4a" opacity="1"/><ellipse cx="73.16" cy="431.69" rx="1.53" ry="1.66" fill="#4a4a4a" opacity="1"/><ellipse cx="74.9" cy="419.38" rx="1.23" ry="0.96" fill="#4a4a4a" opacity="1"/><ellipse cx="53.34" cy="426.75" rx="1.44" ry="0.96" fill="#4a4a4a" opacity="1"/><ellipse cx="61.72" cy="423.33" rx="1.43" ry="1.27" fill="#4a4a4a" opacity="1"/><ellipse cx="72.66" cy="434.42" rx="1.15" ry="1.51" fill="#4a4a4a" opacity="1"/><ellipse cx="82" cy="416.35" rx="1.64" ry="1.45" fill="#4a4a4a" opacity="1"/><ellipse cx="57.16" cy="426.25" rx="1.36" ry="1.62" fill="#4a4a4a" opacity="1"/><ellipse cx="65.06" cy="429.36" rx="1.59" ry="1.52" fill="#4a4a4a" opacity="1"/><ellipse cx="83.22" cy="426.52" rx="1.39" ry="0.98" fill="#4a4a4a" opacity="1"/><ellipse cx="76.1" cy="436.1" rx="1.38" ry="1.45" fill="#4a4a4a" opacity="1"/><ellipse cx="59.83" cy="438.3" rx="1.68" ry="1.68" fill="#4a4a4a" opacity="1"/><ellipse cx="70.18" cy="435.35" rx="1.09" ry="1.62" fill="#4a4a4a" opacity="1"/><ellipse cx="80.39" cy="423.41" rx="0.87" ry="1.2" fill="#4a4a4a" opacity="1"/><ellipse cx="70.61" cy="434.74" rx="1.24" ry="0.83" fill="#4a4a4a" opacity="1"/><ellipse cx="78.89" cy="415.73" rx="1.52" ry="0.96" fill="#4a4a4a" opacity="1"/><ellipse cx="63.72" cy="435.27" rx="0.93" ry="0.93" fill="#4a4a4a" opacity="1"/><ellipse cx="69.53" cy="433.54" rx="1.56" ry="1.42" fill="#4a4a4a" opacity="1"/><ellipse cx="83.26" cy="427.3" rx="1.65" ry="0.88" fill="#4a4a4a" opacity="1"/><ellipse cx="60.09" cy="428.22" rx="1.06" ry="1.46" fill="#4a4a4a" opacity="1"/><ellipse cx="73.44" cy="428.12" rx="1.56" ry="1.3" fill="#4a4a4a" opacity="1"/><ellipse cx="62.97" cy="424.29" rx="1.56" ry="1.61" fill="#4a4a4a" opacity="1"/><ellipse cx="59.66" cy="436.97" rx="1.18" ry="0.91" fill="#8a8a8a" opacity="1"/><ellipse cx="71.34" cy="419.43" rx="0.92" ry="0.9" fill="#8a8a8a" opacity="1"/><ellipse cx="72.37" cy="414.75" rx="1.18" ry="0.91" fill="#8a8a8a" opacity="1"/><ellipse cx="65.82" cy="435.63" rx="0.94" ry="0.89" fill="#8a8a8a" opacity="1"/><ellipse cx="75.11" cy="415.78" rx="0.92" ry="0.85" fill="#8a8a8a" opacity="1"/><ellipse cx="83.62" cy="438.93" rx="0.76" ry="0.88" fill="#8a8a8a" opacity="1"/><ellipse cx="57.06" cy="425.71" rx="1.09" ry="1.14" fill="#8a8a8a" opacity="1"/><ellipse cx="68.25" cy="422.56" rx="0.71" ry="0.97" fill="#8a8a8a" opacity="1"/><ellipse cx="62" cy="429.2" rx="3.1" ry="3.1" fill="#262626" opacity="1"/><ellipse cx="88.6" cy="423.9" rx="1.1" ry="1.1" fill="#1a1a1a" opacity="1"/><path d="M93 413L100 412L100 432L94 430Z" fill="#a8a8a8" stroke="none" stroke-width="1" opacity="1" stroke-linejoin="round" stroke-linecap="round"/><ellipse cx="99.48" cy="416.07" rx="0.99" ry="0.61" fill="#505050" opacity="1"/><ellipse cx="94.36" cy="417.64" rx="0.94" ry="0.76" fill="#505050" opacity="1"/><ellipse cx="95.49" cy="423.92" rx="0.65" ry="0.97" fill="#505050" opacity="1"/><ellipse cx="93.86" cy="422.17" rx="0.73" ry="0.7" fill="#505050" opacity="1"/><ellipse cx="96.71" cy="420.99" rx="0.79" ry="0.81" fill="#505050" opacity="1"/><path d="M93 426.5C89 429 84 431.5 80 434.5C76 438 73 444 71 450C69 456 68 462 66.5 470" fill="none" stroke="#dadada" stroke-width="3" opacity="1" stroke-linejoin="round" stroke-linecap="round"/><ellipse cx="57.5" cy="462" rx="5" ry="3.5" fill="#c0c0c0" opacity="1"/><path d="M29 444L34 442L33.5 470L29 470Z" fill="#9e9e9e" stroke="none" stroke-width="1" opacity="1" stroke-linejoin="round" stroke-linecap="round"/><ellipse cx="31.65" cy="447.83" rx="0.7" ry="0.92" fill="#d8d8d8" opacity="1"/><ellipse cx="32.19" cy="456.71" rx="1.03" ry="0.91" fill="#d8d8d8" opacity="1"/><ellipse cx="33.28" cy="449.58" rx="0.97" ry="1.01" fill="#d8d8d8" opacity="1"/><ellipse cx="33.51" cy="451.58" rx="0.76" ry="1.06" fill="#d8d8d8" opacity="1"/><ellipse cx="30.09" cy="467.96" rx="1.04" ry="0.67" fill="#d8d8d8" opacity="1"/><ellipse cx="30.2" cy="461.44" rx="0.73" ry="0.65" fill="#d8d8d8" opacity="1"/><ellipse cx="53.31" cy="441.06" rx="1.19" ry="0.86" fill="#3e3e3e" opacity="1"/><ellipse cx="46.44" cy="444.22" rx="0.81" ry="0.9" fill="#3e3e3e" opacity="1"/><ellipse cx="50.92" cy="446.94" rx="1.28" ry="0.86" fill="#3e3e3e" opacity="1"/><ellipse cx="48.09" cy="445.1" rx="1.05" ry="1.14" fill="#3e3e3e" opacity="1"/><ellipse cx="43.02" cy="436.85" rx="0.85" ry="0.82" fill="#3e3e3e" opacity="1"/><ellipse cx="48.83" cy="442.18" rx="1.08" ry="0.87" fill="#3e3e3e" opacity="1"/><ellipse cx="42.95" cy="438.45" rx="1.22" ry="1.3" fill="#3e3e3e" opacity="1"/><ellipse cx="54.83" cy="437.14" rx="0.83" ry="1.28" fill="#3e3e3e" opacity="1"/><ellipse cx="47.39" cy="445.18" rx="0.96" ry="1.03" fill="#3e3e3e" opacity="1"/><ellipse cx="85.91" cy="452.04" rx="1.02" ry="0.61" fill="#6a6a6a" opacity="1"/><ellipse cx="90.93" cy="463.64" rx="0.73" ry="0.92" fill="#6a6a6a" opacity="1"/><ellipse cx="91.96" cy="451.35" rx="0.74" ry="0.72" fill="#6a6a6a" opacity="1"/><ellipse cx="85.84" cy="440.43" rx="1.23" ry="1.16" fill="#6a6a6a" opacity="1"/><ellipse cx="91.03" cy="464.1" rx="1.04" ry="0.88" fill="#6a6a6a" opacity="1"/><ellipse cx="88.19" cy="454.12" rx="1.29" ry="1.16" fill="#6a6a6a" opacity="1"/><ellipse cx="78.97" cy="465.52" rx="1.12" ry="1.14" fill="#6a6a6a" opacity="1"/><ellipse cx="94" cy="451.36" rx="1.23" ry="1.22" fill="#6a6a6a" opacity="1"/><ellipse cx="90.76" cy="461.48" rx="1.14" ry="0.88" fill="#6a6a6a" opacity="1"/><ellipse cx="91.51" cy="441.98" rx="0.84" ry="0.93" fill="#6a6a6a" opacity="1"/><ellipse cx="45" cy="453.5" rx="1.6" ry="1.4" fill="#222" opacity="1"/><ellipse cx="91.3" cy="460.3" rx="1.3" ry="1.3" fill="#333" opacity="1"/><ellipse cx="97.3" cy="462.5" rx="1.3" ry="1.3" fill="#333" opacity="1"/>
</g>
<rect x="28.9" y="401.5" width="71.1" height="68.2" fill="#808080" filter="url(#nz)" style="mix-blend-mode:overlay" opacity="0.38"/>
</g>
<line x1="78.9" y1="468.3" x2="94.3" y2="468.3" stroke="#1e1e1e" stroke-width="1.2"/>
<clipPath id="ec2"><rect x="107.3" y="422.9" width="29.8" height="29.5"/></clipPath>
<g clip-path="url(#ec2)" style="isolation:isolate">
<rect x="107.3" y="422.9" width="29.8" height="29.5" fill="#868686"/>
<g filter="url(#bem)">
<ellipse cx="112.26" cy="433.31" rx="1.69" ry="1.67" fill="#5e5e5e" opacity="1"/><ellipse cx="117.8" cy="450.4" rx="1.73" ry="1.27" fill="#5e5e5e" opacity="1"/><ellipse cx="128.49" cy="439.52" rx="1.55" ry="1.35" fill="#5e5e5e" opacity="1"/><ellipse cx="137" cy="441.63" rx="1.78" ry="1.87" fill="#5e5e5e" opacity="1"/><ellipse cx="136.5" cy="423.66" rx="1.66" ry="1.83" fill="#5e5e5e" opacity="1"/><ellipse cx="118.42" cy="434.65" rx="0.87" ry="1.07" fill="#5e5e5e" opacity="1"/><ellipse cx="121.39" cy="425.86" rx="1.15" ry="2.07" fill="#5e5e5e" opacity="1"/><ellipse cx="125.75" cy="437.73" rx="2.15" ry="1.6" fill="#5e5e5e" opacity="1"/><ellipse cx="136.88" cy="441.5" rx="1.93" ry="0.91" fill="#5e5e5e" opacity="1"/><ellipse cx="126.94" cy="445.02" rx="0.86" ry="2.1" fill="#5e5e5e" opacity="1"/><ellipse cx="116" cy="436.68" rx="1.04" ry="1.49" fill="#5e5e5e" opacity="1"/><ellipse cx="127.28" cy="424.7" rx="2.12" ry="1.39" fill="#5e5e5e" opacity="1"/><ellipse cx="125.17" cy="440.34" rx="1.31" ry="1.2" fill="#5e5e5e" opacity="1"/><ellipse cx="128.38" cy="439.26" rx="1.2" ry="1.8" fill="#5e5e5e" opacity="1"/><path d="M107.3 422.9H112.5C111.5 430 112 440 113 452.4H107.3Z" fill="#dcdcdc" stroke="none" stroke-width="1" opacity="1" stroke-linejoin="round" stroke-linecap="round"/><ellipse cx="107.8" cy="434.5" rx="1.8" ry="2.4" fill="#6a6a6a" opacity="1"/><ellipse cx="116.8" cy="425.6" rx="3" ry="2.4" fill="#4a4a4a" opacity="1"/><ellipse cx="126.8" cy="426" rx="2.6" ry="2.2" fill="#4e4e4e" opacity="1"/><ellipse cx="134.6" cy="436" rx="2.8" ry="4.5" fill="#444" opacity="1"/><ellipse cx="135" cy="427" rx="2.2" ry="2.8" fill="#4a4a4a" opacity="1"/><ellipse cx="122.1" cy="439.3" rx="3" ry="2.5" fill="#262626" opacity="1"/><ellipse cx="119.5" cy="435.8" rx="0.9" ry="1.1" fill="#222" opacity="1"/><path d="M120 442.6Q122.6 444 125 441.6" fill="none" stroke="#e6e6e6" stroke-width="1" opacity="1" stroke-linejoin="round" stroke-linecap="round"/><ellipse cx="121.8" cy="447.5" rx="1.2" ry="1.2" fill="#404040" opacity="1"/>
</g>
<rect x="107.3" y="422.9" width="29.8" height="29.5" fill="#808080" filter="url(#nz)" style="mix-blend-mode:overlay" opacity="0.38"/>
</g>
<rect x="107.3" y="422.9" width="29.8" height="29.5" fill="none" stroke="#333" stroke-width="0.5"/>
<rect x="40.4" y="449.8" width="8.9" height="7.6" fill="none" stroke="#111" stroke-width="1"/>
<line x1="49.3" y1="449.8" x2="107.3" y2="423.1" stroke="#111" stroke-width="1"/>
<line x1="49.3" y1="457.4" x2="107.3" y2="452.2" stroke="#111" stroke-width="1"/>
<text x="19.5" y="436.3" font-size="7.8" text-anchor="middle" fill="#231f20" font-weight="normal" stroke="#231f20" stroke-width="0.05">HD</text>
<clipPath id="ec3"><rect x="28.9" y="473.5" width="71.1" height="70.3"/></clipPath>
<g clip-path="url(#ec3)" style="isolation:isolate">
<rect x="28.9" y="473.5" width="71.1" height="70.3" fill="#8c8c8c"/>
<g filter="url(#bem)">
<path d="M29 473.5L44 473.5L42 480L38 486L29 487Z" fill="#6a6a6a" stroke="none" stroke-width="1" opacity="1" stroke-linejoin="round" stroke-linecap="round"/><ellipse cx="32.85" cy="474.17" rx="1" ry="0.83" fill="#3a3a3a" opacity="1"/><ellipse cx="31.04" cy="483.06" rx="1.11" ry="1.52" fill="#3a3a3a" opacity="1"/><ellipse cx="38.73" cy="474.6" rx="1.59" ry="1.56" fill="#3a3a3a" opacity="1"/><ellipse cx="29.96" cy="484.87" rx="1.14" ry="1.18" fill="#3a3a3a" opacity="1"/><ellipse cx="41.65" cy="476.92" rx="1.22" ry="1.55" fill="#3a3a3a" opacity="1"/><ellipse cx="38.4" cy="479.62" rx="1.58" ry="1.45" fill="#3a3a3a" opacity="1"/><ellipse cx="36.85" cy="475.38" rx="1.3" ry="1.16" fill="#3a3a3a" opacity="1"/><ellipse cx="31.65" cy="474.62" rx="1.22" ry="0.9" fill="#3a3a3a" opacity="1"/><ellipse cx="35.87" cy="481.68" rx="1.07" ry="0.96" fill="#c4c4c4" opacity="1"/><ellipse cx="37.4" cy="479.2" rx="1.27" ry="1.12" fill="#c4c4c4" opacity="1"/><ellipse cx="41.97" cy="484.53" rx="1.24" ry="0.94" fill="#c4c4c4" opacity="1"/><ellipse cx="32.25" cy="483.93" rx="1.27" ry="1.17" fill="#c4c4c4" opacity="1"/><ellipse cx="34.95" cy="477.72" rx="1.21" ry="1.14" fill="#c4c4c4" opacity="1"/><path d="M57 482.5L61 477" fill="none" stroke="#e2e2e2" stroke-width="1.6" opacity="1" stroke-linejoin="round" stroke-linecap="round"/><path d="M77.8 473.5C78.3 478 79 483 79.3 487C79.6 490 81 493 83 495" fill="none" stroke="#cfcfcf" stroke-width="0.9" opacity="1" stroke-linejoin="round" stroke-linecap="round"/><path d="M66 480C70 483 74 486 78 489" fill="none" stroke="#bdbdbd" stroke-width="0.8" opacity="1" stroke-linejoin="round" stroke-linecap="round"/><path d="M88 484C87 488 88 492 86 496" fill="none" stroke="#c8c8c8" stroke-width="0.8" opacity="1" stroke-linejoin="round" stroke-linecap="round"/><path d="M95 478C98 479 100 482 100 487L100 500C97 501 94 499 93.5 495C93 490 93 483 95 478Z" fill="#505050" stroke="#1e1e1e" stroke-width="1.2" opacity="1" stroke-linejoin="round" stroke-linecap="round"/><path d="M29 501C36 500 41.5 503 42.8 510C44 519 41.5 529 36 536C33.5 539 31 541 29 542Z" fill="#474747" stroke="none" stroke-width="1" opacity="1" stroke-linejoin="round" stroke-linecap="round"/><ellipse cx="36.1" cy="524.79" rx="1.55" ry="0.99" fill="#2e2e2e" opacity="1"/><ellipse cx="31.99" cy="537.27" rx="1.72" ry="1.68" fill="#2e2e2e" opacity="1"/><ellipse cx="29.47" cy="504.19" rx="1.07" ry="1.23" fill="#2e2e2e" opacity="1"/><ellipse cx="36.48" cy="505.69" rx="1.34" ry="0.87" fill="#2e2e2e" opacity="1"/><ellipse cx="30.04" cy="526.35" rx="1.35" ry="1.43" fill="#2e2e2e" opacity="1"/><ellipse cx="33.48" cy="519.23" rx="1.01" ry="1.14" fill="#2e2e2e" opacity="1"/><ellipse cx="37.94" cy="532.19" rx="0.87" ry="0.92" fill="#2e2e2e" opacity="1"/><ellipse cx="38.71" cy="524.45" rx="1.57" ry="1.01" fill="#2e2e2e" opacity="1"/><ellipse cx="34.09" cy="511.29" rx="1.61" ry="1.17" fill="#2e2e2e" opacity="1"/><ellipse cx="36.84" cy="537.61" rx="1.13" ry="1.35" fill="#2e2e2e" opacity="1"/><ellipse cx="37.95" cy="535.15" rx="1.23" ry="1.17" fill="#2e2e2e" opacity="1"/><ellipse cx="30.16" cy="533.51" rx="0.88" ry="0.88" fill="#2e2e2e" opacity="1"/><ellipse cx="35.77" cy="519.45" rx="1.49" ry="1.1" fill="#2e2e2e" opacity="1"/><ellipse cx="38.31" cy="504.74" rx="1.01" ry="1.46" fill="#2e2e2e" opacity="1"/><ellipse cx="29.9" cy="512.33" rx="0.96" ry="0.95" fill="#6e6e6e" opacity="1"/><ellipse cx="32.11" cy="506.86" rx="0.78" ry="0.96" fill="#6e6e6e" opacity="1"/><ellipse cx="33.03" cy="505.99" rx="0.95" ry="0.88" fill="#6e6e6e" opacity="1"/><ellipse cx="39.1" cy="533.96" rx="1.06" ry="0.82" fill="#6e6e6e" opacity="1"/><ellipse cx="37.83" cy="512.36" rx="0.76" ry="0.8" fill="#6e6e6e" opacity="1"/><path d="M42.8 507C43.8 514 44.5 520 44.5 526" fill="none" stroke="#b8b8b8" stroke-width="1.2" opacity="1" stroke-linejoin="round" stroke-linecap="round"/><path d="M47 517C43 524 38 532 33.5 542" fill="none" stroke="#c6c6c6" stroke-width="1.4" opacity="1" stroke-linejoin="round" stroke-linecap="round"/><path d="M56 503C59 499.5 64 498.5 69 499.5C74 500.5 77 505 77.2 511C77.4 518 74.5 524 69 527.5C64 530 57.5 528.5 55 523C52.5 518 53 508 56 503Z" fill="#6c6c6c" stroke="#262626" stroke-width="1.2" opacity="1" stroke-linejoin="round" stroke-linecap="round"/><ellipse cx="74.69" cy="524.26" rx="1" ry="1.09" fill="#4e4e4e" opacity="1"/><ellipse cx="63.31" cy="510.45" rx="1.12" ry="1.11" fill="#4e4e4e" opacity="1"/><ellipse cx="59.9" cy="515.66" rx="1.44" ry="1.23" fill="#4e4e4e" opacity="1"/><ellipse cx="72.73" cy="515.63" rx="0.94" ry="1.41" fill="#4e4e4e" opacity="1"/><ellipse cx="73.62" cy="508.32" rx="0.82" ry="1.21" fill="#4e4e4e" opacity="1"/><ellipse cx="66.88" cy="515.75" rx="1.57" ry="1.32" fill="#4e4e4e" opacity="1"/><ellipse cx="72.09" cy="502.67" rx="1.24" ry="1.43" fill="#4e4e4e" opacity="1"/><ellipse cx="57.68" cy="503.12" rx="1.39" ry="1.52" fill="#4e4e4e" opacity="1"/><ellipse cx="57.69" cy="517.49" rx="0.92" ry="1.4" fill="#4e4e4e" opacity="1"/><ellipse cx="68.98" cy="507.38" rx="0.98" ry="1.41" fill="#4e4e4e" opacity="1"/><ellipse cx="66.43" cy="520.88" rx="1.12" ry="1.07" fill="#4e4e4e" opacity="1"/><ellipse cx="75.37" cy="518.48" rx="1.19" ry="1.23" fill="#4e4e4e" opacity="1"/><ellipse cx="90" cy="538.8" rx="10" ry="5.2" fill="#1c1c1c" opacity="1"/><ellipse cx="84" cy="535" rx="3" ry="2.5" fill="#2a2a2a" opacity="1"/><ellipse cx="72" cy="528.5" rx="2" ry="2" fill="#2a2a2a" opacity="1"/><ellipse cx="70.23" cy="538.62" rx="1.34" ry="0.99" fill="#c8c8c8" opacity="1"/><ellipse cx="73.92" cy="538" rx="1.3" ry="1.26" fill="#c8c8c8" opacity="1"/><ellipse cx="74.18" cy="541.33" rx="1.37" ry="1.15" fill="#c8c8c8" opacity="1"/><ellipse cx="63.33" cy="538.65" rx="1.26" ry="1" fill="#c8c8c8" opacity="1"/><ellipse cx="59.72" cy="530.19" rx="1.22" ry="1.39" fill="#c8c8c8" opacity="1"/><ellipse cx="58.14" cy="530.51" rx="0.84" ry="1" fill="#c8c8c8" opacity="1"/><ellipse cx="55.22" cy="542.55" rx="0.74" ry="0.92" fill="#c8c8c8" opacity="1"/><ellipse cx="49.02" cy="537.72" rx="1.24" ry="0.83" fill="#c8c8c8" opacity="1"/><ellipse cx="47.18" cy="534.88" rx="1.11" ry="1.34" fill="#c8c8c8" opacity="1"/><ellipse cx="46.27" cy="529.63" rx="0.83" ry="0.85" fill="#c8c8c8" opacity="1"/><ellipse cx="53.24" cy="538.76" rx="1.12" ry="0.86" fill="#444" opacity="1"/><ellipse cx="51.47" cy="532.22" rx="0.82" ry="1.23" fill="#444" opacity="1"/><ellipse cx="55.91" cy="536.22" rx="1.27" ry="1.04" fill="#444" opacity="1"/><ellipse cx="54.12" cy="541.31" rx="1.34" ry="0.94" fill="#444" opacity="1"/><ellipse cx="64.16" cy="542.36" rx="1.04" ry="0.85" fill="#444" opacity="1"/><ellipse cx="46.74" cy="542.21" rx="1.26" ry="0.97" fill="#444" opacity="1"/><ellipse cx="63.47" cy="535.74" rx="0.89" ry="1.39" fill="#444" opacity="1"/><ellipse cx="68.01" cy="531.56" rx="0.71" ry="1.03" fill="#444" opacity="1"/><ellipse cx="58" cy="539.95" rx="1.2" ry="1.12" fill="#444" opacity="1"/><ellipse cx="50.51" cy="530.35" rx="0.93" ry="0.88" fill="#444" opacity="1"/><ellipse cx="96.25" cy="515.48" rx="1.08" ry="1.3" fill="#bcbcbc" opacity="1"/><ellipse cx="83.6" cy="516.04" rx="0.79" ry="1.16" fill="#bcbcbc" opacity="1"/><ellipse cx="78.03" cy="524.64" rx="1.21" ry="1.19" fill="#bcbcbc" opacity="1"/><ellipse cx="79.73" cy="508.1" rx="1.13" ry="0.76" fill="#bcbcbc" opacity="1"/><ellipse cx="88.08" cy="514.06" rx="1.27" ry="1.05" fill="#bcbcbc" opacity="1"/><ellipse cx="96" cy="509.11" rx="1.17" ry="0.95" fill="#bcbcbc" opacity="1"/><ellipse cx="97.25" cy="502.73" rx="1.2" ry="0.83" fill="#bcbcbc" opacity="1"/><ellipse cx="89.41" cy="515.77" rx="0.79" ry="1.2" fill="#bcbcbc" opacity="1"/><path d="M81 504C85 508 88 512 92 514" fill="none" stroke="#c8c8c8" stroke-width="0.8" opacity="1" stroke-linejoin="round" stroke-linecap="round"/><path d="M80 515C84 518 87 522 89 527" fill="none" stroke="#c8c8c8" stroke-width="0.8" opacity="1" stroke-linejoin="round" stroke-linecap="round"/>
</g>
<rect x="28.9" y="473.5" width="71.1" height="70.3" fill="#808080" filter="url(#nz)" style="mix-blend-mode:overlay" opacity="0.38"/>
</g>
<clipPath id="ec4"><rect x="107.8" y="494.3" width="31.1" height="31.5"/></clipPath>
<g clip-path="url(#ec4)" style="isolation:isolate">
<rect x="107.8" y="494.3" width="31.1" height="31.5" fill="#8a8a8a"/>
<g filter="url(#bem)">
<path d="M134 494.3H139V526H135C134 515 134 505 134 494.3Z" fill="#6a6a6a" stroke="none" stroke-width="1" opacity="1" stroke-linejoin="round" stroke-linecap="round"/><path d="M136 494.3H139V500Z" fill="#303030" stroke="none" stroke-width="1" opacity="1" stroke-linejoin="round" stroke-linecap="round"/><path d="M108.4 506C111 508 111.5 512 111.2 515C111 517 110.6 519 110.6 520" fill="none" stroke="#d6d6d6" stroke-width="1" opacity="1" stroke-linejoin="round" stroke-linecap="round"/><ellipse cx="113.9" cy="499.9" rx="2.5" ry="2.5" fill="#444" opacity="1"/><ellipse cx="113.9" cy="499.9" rx="1.2" ry="1.2" fill="#bbb" opacity="1"/><path d="M123 501.7L129.6 498.4" fill="none" stroke="#dedede" stroke-width="1.6" opacity="1" stroke-linejoin="round" stroke-linecap="round"/><ellipse cx="125.9" cy="508.6" rx="4" ry="3.5" fill="#3a3a3a" opacity="1"/><ellipse cx="125.5" cy="508.8" rx="2" ry="1.6" fill="#a8a8a8" opacity="1"/><ellipse cx="128.5" cy="511.5" rx="1.4" ry="1.2" fill="#222" opacity="1"/><ellipse cx="118.6" cy="516.7" rx="3.5" ry="3.5" fill="#5a5a5a" opacity="1"/><ellipse cx="131" cy="519.2" rx="4" ry="3" fill="#6c6c6c" opacity="1"/><ellipse cx="117.41" cy="505.01" rx="0.65" ry="0.78" fill="#6a6a6a" opacity="1"/><ellipse cx="121.62" cy="516.74" rx="0.82" ry="1.01" fill="#6a6a6a" opacity="1"/><ellipse cx="111.86" cy="507.43" rx="0.88" ry="1.18" fill="#6a6a6a" opacity="1"/><ellipse cx="131.4" cy="514.96" rx="0.61" ry="0.83" fill="#6a6a6a" opacity="1"/><ellipse cx="128.17" cy="502.89" rx="0.94" ry="0.87" fill="#6a6a6a" opacity="1"/><ellipse cx="109.28" cy="524.76" rx="1.08" ry="0.72" fill="#6a6a6a" opacity="1"/><ellipse cx="125.63" cy="504.42" rx="0.83" ry="0.92" fill="#6a6a6a" opacity="1"/><ellipse cx="117.05" cy="505.78" rx="0.84" ry="1" fill="#6a6a6a" opacity="1"/><ellipse cx="115.92" cy="501.8" rx="1.04" ry="0.8" fill="#6a6a6a" opacity="1"/><ellipse cx="134.52" cy="512.32" rx="1.03" ry="0.8" fill="#6a6a6a" opacity="1"/>
</g>
<rect x="107.8" y="494.3" width="31.1" height="31.5" fill="#808080" filter="url(#nz)" style="mix-blend-mode:overlay" opacity="0.38"/>
</g>
<rect x="107.8" y="494.3" width="31.1" height="31.5" fill="none" stroke="#333" stroke-width="0.5"/>
<rect x="46.2" y="499.5" width="8.8" height="7.9" fill="none" stroke="#111" stroke-width="1"/>
<line x1="55" y1="499.5" x2="107.8" y2="494.4" stroke="#111" stroke-width="1"/>
<line x1="55" y1="507.4" x2="107.8" y2="525.7" stroke="#111" stroke-width="1"/>
<text x="19.5" y="512" font-size="7.8" text-anchor="middle" fill="#231f20" font-weight="normal" stroke="#231f20" stroke-width="0.05">P1</text>
<clipPath id="ec5"><rect x="28.9" y="552.6" width="71.6" height="68.8"/></clipPath>
<g clip-path="url(#ec5)" style="isolation:isolate">
<rect x="28.9" y="552.6" width="71.6" height="68.8" fill="#5e5e5e"/>
<g filter="url(#bem)">
<path d="M29 552.6H100.5V555H29Z" fill="#3a3a3a" stroke="none" stroke-width="1" opacity="1" stroke-linejoin="round" stroke-linecap="round"/><path d="M29 555L45 558L42 575L38 590L29 590Z" fill="#6c6c6c" stroke="none" stroke-width="1" opacity="1" stroke-linejoin="round" stroke-linecap="round"/><ellipse cx="39.75" cy="559.14" rx="0.91" ry="0.88" fill="#444" opacity="1"/><ellipse cx="37.81" cy="580.08" rx="0.94" ry="1.12" fill="#444" opacity="1"/><ellipse cx="39.88" cy="576.15" rx="0.87" ry="0.98" fill="#444" opacity="1"/><ellipse cx="31.04" cy="560.22" rx="1.13" ry="0.86" fill="#444" opacity="1"/><ellipse cx="40.97" cy="570.52" rx="1.21" ry="1.32" fill="#444" opacity="1"/><ellipse cx="38.97" cy="583.92" rx="1.11" ry="1.07" fill="#444" opacity="1"/><ellipse cx="34.36" cy="556.52" rx="1.12" ry="1.36" fill="#444" opacity="1"/><ellipse cx="41.77" cy="582.85" rx="1.33" ry="1.29" fill="#444" opacity="1"/><ellipse cx="29.24" cy="567.25" rx="1.07" ry="1.32" fill="#444" opacity="1"/><ellipse cx="30.38" cy="568.84" rx="1.21" ry="1.43" fill="#444" opacity="1"/><path d="M29 596L38 596L42 608L46 621H29Z" fill="#464646" stroke="none" stroke-width="1" opacity="1" stroke-linejoin="round" stroke-linecap="round"/><ellipse cx="41.38" cy="612.06" rx="0.93" ry="1.41" fill="#2c2c2c" opacity="1"/><ellipse cx="42.54" cy="610.61" rx="1.08" ry="1.2" fill="#2c2c2c" opacity="1"/><ellipse cx="31.13" cy="614.41" rx="1.59" ry="1.21" fill="#2c2c2c" opacity="1"/><ellipse cx="39.73" cy="617.22" rx="0.96" ry="1.56" fill="#2c2c2c" opacity="1"/><ellipse cx="38.41" cy="602.55" rx="0.87" ry="1" fill="#2c2c2c" opacity="1"/><ellipse cx="37.65" cy="614.03" rx="1.06" ry="1.54" fill="#2c2c2c" opacity="1"/><ellipse cx="34.42" cy="608.65" rx="0.9" ry="1.58" fill="#2c2c2c" opacity="1"/><ellipse cx="31.03" cy="618.79" rx="1.23" ry="1.25" fill="#2c2c2c" opacity="1"/><path d="M31 619L42 604M34 620L44 608" fill="none" stroke="#7a7a7a" stroke-width="0.8" opacity="1" stroke-linejoin="round" stroke-linecap="round"/><path d="M88 555L100.5 553V614L92 612L90 596L85 580L82 566Z" fill="#4a4a4a" stroke="none" stroke-width="1" opacity="1" stroke-linejoin="round" stroke-linecap="round"/><ellipse cx="95.6" cy="570.8" rx="1.44" ry="1.49" fill="#333" opacity="1"/><ellipse cx="98.18" cy="589.68" rx="0.89" ry="1.38" fill="#333" opacity="1"/><ellipse cx="92.89" cy="606.23" rx="0.97" ry="1.2" fill="#333" opacity="1"/><ellipse cx="98.31" cy="566.39" rx="1.18" ry="0.85" fill="#333" opacity="1"/><ellipse cx="90.32" cy="566.08" rx="1.49" ry="1.46" fill="#333" opacity="1"/><ellipse cx="96.58" cy="573.23" rx="1.27" ry="1.32" fill="#333" opacity="1"/><ellipse cx="52" cy="598" rx="6" ry="5" fill="#353535" opacity="1"/><ellipse cx="60" cy="604" rx="7" ry="5" fill="#333" opacity="1"/><ellipse cx="70" cy="600" rx="6" ry="6" fill="#363636" opacity="1"/><ellipse cx="65" cy="592" rx="5" ry="4" fill="#3a3a3a" opacity="1"/><ellipse cx="58" cy="611" rx="6" ry="3.5" fill="#343434" opacity="1"/><ellipse cx="73" cy="609" rx="5" ry="4" fill="#363636" opacity="1"/><ellipse cx="47" cy="588" rx="3" ry="4" fill="#3a3a3a" opacity="1"/><ellipse cx="78" cy="595" rx="3" ry="4" fill="#3c3c3c" opacity="1"/><ellipse cx="58.83" cy="604.21" rx="1.18" ry="0.71" fill="#202020" opacity="1"/><ellipse cx="53.19" cy="601.23" rx="0.79" ry="0.93" fill="#202020" opacity="1"/><ellipse cx="64.66" cy="594.17" rx="1.01" ry="0.86" fill="#202020" opacity="1"/><ellipse cx="64.61" cy="597.97" rx="1.09" ry="0.72" fill="#202020" opacity="1"/><ellipse cx="67.8" cy="593.47" rx="1.28" ry="1.06" fill="#202020" opacity="1"/><ellipse cx="61.57" cy="599.87" rx="1.07" ry="1.11" fill="#202020" opacity="1"/><ellipse cx="70.5" cy="608.04" rx="0.99" ry="1.3" fill="#202020" opacity="1"/><ellipse cx="72.99" cy="610.52" rx="0.95" ry="0.96" fill="#202020" opacity="1"/><ellipse cx="64.54" cy="611.73" rx="1.02" ry="1.02" fill="#202020" opacity="1"/><ellipse cx="60.4" cy="611.7" rx="0.89" ry="0.73" fill="#202020" opacity="1"/><ellipse cx="69.49" cy="611.6" rx="0.97" ry="0.9" fill="#5a5a5a" opacity="1"/><ellipse cx="70.31" cy="597.31" rx="0.9" ry="0.63" fill="#5a5a5a" opacity="1"/><ellipse cx="50.86" cy="600.73" rx="0.85" ry="0.8" fill="#5a5a5a" opacity="1"/><ellipse cx="48.61" cy="606.68" rx="0.86" ry="0.72" fill="#5a5a5a" opacity="1"/><ellipse cx="56.5" cy="599.49" rx="0.72" ry="0.63" fill="#5a5a5a" opacity="1"/><ellipse cx="75.25" cy="613.2" rx="0.93" ry="1.03" fill="#5a5a5a" opacity="1"/><path d="M29 557C40 558 50 560 60 560C70 559 78 558 86 556C92 555 96 554 100.5 553" fill="none" stroke="#c4c4c4" stroke-width="2.6" opacity="1" stroke-linejoin="round" stroke-linecap="round"/><path d="M45 560C41 567 38 575 37.5 585C37 595 39 604 44 611C49 616 56 618 64 618.5C75 618 85 615 91 612" fill="none" stroke="#c8c8c8" stroke-width="2.6" opacity="1" stroke-linejoin="round" stroke-linecap="round"/><path d="M80 558C81 567 84 577 88 588C91 596 93 603 91 612" fill="none" stroke="#d8d8d8" stroke-width="2.8" opacity="1" stroke-linejoin="round" stroke-linecap="round"/><path d="M29 576C32 577 35 579 37.5 582" fill="none" stroke="#b8b8b8" stroke-width="1.8" opacity="1" stroke-linejoin="round" stroke-linecap="round"/><path d="M37.5 596C34 599 31 601 29 602" fill="none" stroke="#c0c0c0" stroke-width="3" opacity="1" stroke-linejoin="round" stroke-linecap="round"/><path d="M60 620C70 619.5 82 619 96 617" fill="none" stroke="#b4b4b4" stroke-width="2" opacity="1" stroke-linejoin="round" stroke-linecap="round"/><ellipse cx="67.91" cy="620.03" rx="0.86" ry="1.22" fill="#c0c0c0" opacity="1"/><ellipse cx="75.47" cy="620.52" rx="0.77" ry="1.25" fill="#c0c0c0" opacity="1"/><ellipse cx="52.44" cy="618.69" rx="1.37" ry="0.7" fill="#c0c0c0" opacity="1"/><ellipse cx="58.68" cy="617.5" rx="0.93" ry="0.74" fill="#c0c0c0" opacity="1"/><ellipse cx="92.55" cy="620.08" rx="0.98" ry="0.95" fill="#c0c0c0" opacity="1"/><ellipse cx="76.45" cy="616.23" rx="0.72" ry="1.33" fill="#c0c0c0" opacity="1"/><ellipse cx="62.01" cy="618.49" rx="1.35" ry="1.38" fill="#c0c0c0" opacity="1"/><ellipse cx="70.58" cy="617.03" rx="0.91" ry="1.35" fill="#c0c0c0" opacity="1"/><ellipse cx="92.63" cy="616.98" rx="1.29" ry="0.95" fill="#c0c0c0" opacity="1"/><ellipse cx="70.57" cy="616.86" rx="1.32" ry="1.4" fill="#c0c0c0" opacity="1"/><ellipse cx="47.7" cy="572.6" rx="2.1" ry="2" fill="#d0d0d0" opacity="1"/><ellipse cx="52.5" cy="571.5" rx="1.5" ry="1.5" fill="#c8c8c8" opacity="1"/><ellipse cx="55.4" cy="575.9" rx="2.3" ry="2.3" fill="#d4d4d4" opacity="1"/><ellipse cx="49.6" cy="578" rx="1.5" ry="1.5" fill="#c8c8c8" opacity="1"/><ellipse cx="54" cy="580.5" rx="1.6" ry="1.6" fill="#c4c4c4" opacity="1"/><ellipse cx="45" cy="579.5" rx="1.2" ry="1.2" fill="#c0c0c0" opacity="1"/><ellipse cx="51.5" cy="575.5" rx="1.2" ry="1.2" fill="#bcbcbc" opacity="1"/><ellipse cx="71" cy="564" rx="2.2" ry="2.2" fill="#cfcfcf" opacity="1"/><ellipse cx="74" cy="569" rx="2.6" ry="2.6" fill="#d2d2d2" opacity="1"/><ellipse cx="69.5" cy="569.5" rx="1.2" ry="1.2" fill="#222" opacity="1"/><ellipse cx="76.3" cy="580.3" rx="2" ry="2" fill="#d0d0d0" opacity="1"/><ellipse cx="81.1" cy="582.5" rx="2" ry="2" fill="#cccccc" opacity="1"/><ellipse cx="81" cy="592" rx="2.2" ry="2" fill="#c8c8c8" opacity="1"/><ellipse cx="84.5" cy="595" rx="1.6" ry="1.6" fill="#c0c0c0" opacity="1"/><ellipse cx="80" cy="596.5" rx="1.2" ry="1.2" fill="#bdbdbd" opacity="1"/>
</g>
<rect x="28.9" y="552.6" width="71.6" height="68.8" fill="#808080" filter="url(#nz)" style="mix-blend-mode:overlay" opacity="0.38"/>
</g>
<line x1="78.1" y1="620.2" x2="93.9" y2="620.2" stroke="#1e1e1e" stroke-width="1.2"/>
<clipPath id="ec6"><rect x="107" y="554" width="28.8" height="28.8"/></clipPath>
<g clip-path="url(#ec6)" style="isolation:isolate">
<rect x="107" y="554" width="28.8" height="28.8" fill="#505050"/>
<g filter="url(#bem)">
<path d="M131 554H135.8V559Z" fill="#c0c0c0" stroke="none" stroke-width="1" opacity="1" stroke-linejoin="round" stroke-linecap="round"/><ellipse cx="118.9" cy="561.4" rx="4.5" ry="4.4" fill="#c6c6c6" opacity="1"/><ellipse cx="126" cy="572" rx="5.6" ry="6.5" fill="#bdbdbd" opacity="1"/><ellipse cx="115.4" cy="570.9" rx="3.4" ry="4.2" fill="#d0d0d0" opacity="1"/><ellipse cx="115.4" cy="570.9" rx="2.4" ry="3.2" fill="#1e1e1e" opacity="1"/><ellipse cx="112" cy="559" rx="1.2" ry="1.2" fill="#bdbdbd" opacity="1"/><ellipse cx="109.5" cy="566" rx="1.2" ry="1.2" fill="#b8b8b8" opacity="1"/><ellipse cx="131.5" cy="561" rx="1.2" ry="1.6" fill="#b8b8b8" opacity="1"/><ellipse cx="113.45" cy="579.43" rx="0.8" ry="1.14" fill="#6a6a6a" opacity="1"/><ellipse cx="109.35" cy="575.74" rx="1.06" ry="0.86" fill="#6a6a6a" opacity="1"/><ellipse cx="132.31" cy="581.09" rx="1.06" ry="0.77" fill="#6a6a6a" opacity="1"/><ellipse cx="126.79" cy="581.56" rx="0.92" ry="0.74" fill="#6a6a6a" opacity="1"/><ellipse cx="114.03" cy="577.15" rx="1.06" ry="0.8" fill="#6a6a6a" opacity="1"/><ellipse cx="112.89" cy="576.65" rx="1.03" ry="1.1" fill="#6a6a6a" opacity="1"/><ellipse cx="118.06" cy="579.63" rx="1.14" ry="0.99" fill="#6a6a6a" opacity="1"/><ellipse cx="114.18" cy="577.11" rx="1.16" ry="1.03" fill="#6a6a6a" opacity="1"/>
</g>
<rect x="107" y="554" width="28.8" height="28.8" fill="#808080" filter="url(#nz)" style="mix-blend-mode:overlay" opacity="0.38"/>
</g>
<rect x="107" y="554" width="28.8" height="28.8" fill="none" stroke="#333" stroke-width="0.5"/>
<clipPath id="ec7"><rect x="107" y="587.2" width="28.8" height="28.8"/></clipPath>
<g clip-path="url(#ec7)" style="isolation:isolate">
<rect x="107" y="587.2" width="28.8" height="28.8" fill="#5e5e5e"/>
<g filter="url(#bem)">
<path d="M131 587.2H135.8V592Z" fill="#c0c0c0" stroke="none" stroke-width="1" opacity="1" stroke-linejoin="round" stroke-linecap="round"/><ellipse cx="119.9" cy="593.7" rx="5.5" ry="4.5" fill="#c2c2c2" opacity="1"/><ellipse cx="119.9" cy="604.1" rx="5" ry="4.5" fill="#b8b8b8" opacity="1"/><ellipse cx="119.9" cy="604.1" rx="3.6" ry="3.2" fill="#222" opacity="1"/><ellipse cx="113" cy="600" rx="1.5" ry="1.5" fill="#cfcfcf" opacity="1"/><ellipse cx="125" cy="601" rx="1.3" ry="1.3" fill="#cfcfcf" opacity="1"/><ellipse cx="117" cy="609" rx="1.5" ry="1.2" fill="#c4c4c4" opacity="1"/><ellipse cx="130.8" cy="599.2" rx="2" ry="2" fill="#cfcfcf" opacity="1"/><ellipse cx="130.8" cy="599.2" rx="1.3" ry="1.3" fill="#111" opacity="1"/><ellipse cx="127.3" cy="608.1" rx="2.2" ry="2" fill="#3c3c3c" opacity="1"/><ellipse cx="113" cy="612" rx="2.5" ry="1.8" fill="#888" opacity="1"/>
</g>
<rect x="107" y="587.2" width="28.8" height="28.8" fill="#808080" filter="url(#nz)" style="mix-blend-mode:overlay" opacity="0.38"/>
</g>
<rect x="107" y="587.2" width="28.8" height="28.8" fill="none" stroke="#333" stroke-width="0.5"/>
<rect x="67.3" y="561.1" width="11.6" height="12.3" fill="none" stroke="#111" stroke-width="1"/>
<rect x="77.5" y="587.1" width="11.1" height="12.4" fill="none" stroke="#111" stroke-width="1"/>
<line x1="78.9" y1="567.2" x2="107" y2="561" stroke="#111" stroke-width="1"/>
<line x1="78.9" y1="573.3" x2="107" y2="582.7" stroke="#111" stroke-width="1"/>
<line x1="88.6" y1="587.8" x2="107" y2="587.4" stroke="#111" stroke-width="1"/>
<line x1="88.6" y1="599.5" x2="107" y2="615.6" stroke="#111" stroke-width="1"/>
<text x="20.2" y="589.6" font-size="7.8" text-anchor="middle" fill="#231f20" font-weight="normal" stroke="#231f20" stroke-width="0.05">P2</text>
<clipPath id="ec8"><rect x="28.9" y="627.1" width="71.6" height="69.9"/></clipPath>
<g clip-path="url(#ec8)" style="isolation:isolate">
<rect x="28.9" y="627.1" width="71.6" height="69.9" fill="#6a6a6a"/>
<g filter="url(#bem)">
<path d="M29 627.1H86L82 630L75 632L65 634L55 638L40 645L29 651Z" fill="#3e3e3e" stroke="none" stroke-width="1" opacity="1" stroke-linejoin="round" stroke-linecap="round"/><ellipse cx="43.12" cy="640.8" rx="0.87" ry="1.59" fill="#2a2a2a" opacity="1"/><ellipse cx="51.46" cy="638.57" rx="1.22" ry="0.84" fill="#2a2a2a" opacity="1"/><ellipse cx="59.58" cy="633.69" rx="1" ry="1.44" fill="#2a2a2a" opacity="1"/><ellipse cx="33.45" cy="633.7" rx="1.4" ry="1" fill="#2a2a2a" opacity="1"/><ellipse cx="43.23" cy="638.96" rx="0.95" ry="1.52" fill="#2a2a2a" opacity="1"/><ellipse cx="79.37" cy="628.67" rx="1.17" ry="1.4" fill="#2a2a2a" opacity="1"/><ellipse cx="48.62" cy="646.59" rx="1.2" ry="0.94" fill="#2a2a2a" opacity="1"/><ellipse cx="57.36" cy="640.9" rx="1.09" ry="1.33" fill="#2a2a2a" opacity="1"/><ellipse cx="68.93" cy="638.33" rx="1.2" ry="1.48" fill="#2a2a2a" opacity="1"/><ellipse cx="63.9" cy="638.41" rx="1.56" ry="0.94" fill="#2a2a2a" opacity="1"/><ellipse cx="68.76" cy="631.3" rx="1.29" ry="0.99" fill="#2a2a2a" opacity="1"/><ellipse cx="51.46" cy="643.46" rx="1.43" ry="1.43" fill="#2a2a2a" opacity="1"/><ellipse cx="41.03" cy="637.78" rx="0.98" ry="1.26" fill="#2a2a2a" opacity="1"/><ellipse cx="54.45" cy="628.71" rx="1.28" ry="1.37" fill="#2a2a2a" opacity="1"/><ellipse cx="58.2" cy="645.46" rx="0.94" ry="0.92" fill="#2a2a2a" opacity="1"/><ellipse cx="29.91" cy="637.92" rx="1.15" ry="1.15" fill="#2a2a2a" opacity="1"/><path d="M29 643L62 628" fill="none" stroke="#6e6e6e" stroke-width="1" opacity="1" stroke-linejoin="round" stroke-linecap="round"/><path d="M29 651L40 645L55 638L65 634L75 632L82 630L86 627.1L100.5 627.1L100.5 682L94 680L95.5 670L96 655L95 646L85 640.5L75 640L66 641L60 643L50 650L40 657L29 660Z" fill="#cbcbcb" stroke="none" stroke-width="1" opacity="1" stroke-linejoin="round" stroke-linecap="round"/><ellipse cx="88" cy="632" rx="0.9" ry="0.9" fill="#3a3a3a" opacity="1"/><ellipse cx="93" cy="635" rx="0.9" ry="0.9" fill="#3a3a3a" opacity="1"/><ellipse cx="97" cy="640" rx="0.9" ry="0.9" fill="#3a3a3a" opacity="1"/><ellipse cx="90" cy="636.5" rx="0.9" ry="0.9" fill="#3a3a3a" opacity="1"/><ellipse cx="98" cy="650" rx="0.9" ry="0.9" fill="#3a3a3a" opacity="1"/><ellipse cx="97" cy="662" rx="0.9" ry="0.9" fill="#3a3a3a" opacity="1"/><path d="M60 643C64 641 72 639.5 80 640.5" fill="none" stroke="#c0c0c0" stroke-width="1" opacity="1" stroke-linejoin="round" stroke-linecap="round"/><ellipse cx="47" cy="656.6" rx="3.2" ry="3.2" fill="#d4d4d4" opacity="1"/><ellipse cx="47" cy="656.6" rx="1.6" ry="1.8" fill="#1e1e1e" opacity="1"/><ellipse cx="52" cy="658" rx="1.6" ry="1.6" fill="#cfcfcf" opacity="1"/><ellipse cx="53.67" cy="673.37" rx="0.85" ry="1.44" fill="#505050" opacity="1"/><ellipse cx="69.58" cy="667.49" rx="1.35" ry="0.97" fill="#505050" opacity="1"/><ellipse cx="47.6" cy="662.15" rx="0.83" ry="1.02" fill="#505050" opacity="1"/><ellipse cx="72.3" cy="667.09" rx="0.99" ry="1.21" fill="#505050" opacity="1"/><ellipse cx="44.6" cy="673.87" rx="0.92" ry="0.98" fill="#505050" opacity="1"/><ellipse cx="48.31" cy="670.89" rx="1.38" ry="1.35" fill="#505050" opacity="1"/><ellipse cx="43.18" cy="664.44" rx="1.06" ry="0.95" fill="#505050" opacity="1"/><ellipse cx="90.47" cy="655.97" rx="1.14" ry="1.33" fill="#505050" opacity="1"/><ellipse cx="91.28" cy="658.33" rx="1.12" ry="1.32" fill="#505050" opacity="1"/><ellipse cx="42.04" cy="660.53" rx="1.42" ry="0.9" fill="#505050" opacity="1"/><ellipse cx="60.43" cy="661.86" rx="1.1" ry="0.85" fill="#505050" opacity="1"/><ellipse cx="41.78" cy="677.91" rx="1.33" ry="1.31" fill="#505050" opacity="1"/><ellipse cx="51.95" cy="655.6" rx="0.93" ry="0.75" fill="#a8a8a8" opacity="1"/><ellipse cx="64" cy="675.97" rx="0.82" ry="0.8" fill="#a8a8a8" opacity="1"/><ellipse cx="91.02" cy="666.33" rx="0.62" ry="0.84" fill="#a8a8a8" opacity="1"/><ellipse cx="73.79" cy="649.76" rx="0.81" ry="1.02" fill="#a8a8a8" opacity="1"/><ellipse cx="84.95" cy="665.72" rx="1.13" ry="0.88" fill="#a8a8a8" opacity="1"/><ellipse cx="60.43" cy="673.29" rx="0.83" ry="1.07" fill="#a8a8a8" opacity="1"/><ellipse cx="51.2" cy="658.42" rx="0.71" ry="0.93" fill="#a8a8a8" opacity="1"/><ellipse cx="48.52" cy="654.11" rx="0.73" ry="0.88" fill="#a8a8a8" opacity="1"/><ellipse cx="60" cy="665" rx="5" ry="6" fill="#3a3a3a" opacity="1"/><ellipse cx="66.5" cy="672" rx="6" ry="5" fill="#383838" opacity="1"/><ellipse cx="72" cy="662" rx="4" ry="6" fill="#3c3c3c" opacity="1"/><ellipse cx="58" cy="676" rx="5" ry="3" fill="#3a3a3a" opacity="1"/><ellipse cx="80" cy="670" rx="4" ry="7" fill="#444" opacity="1"/><path d="M56 660C60 664 64 668 70 670C74 671 76 674 76 678" fill="none" stroke="#222" stroke-width="1" opacity="1" stroke-linejoin="round" stroke-linecap="round"/><ellipse cx="55.8" cy="664.4" rx="2.2" ry="2.2" fill="#262626" opacity="1"/><path d="M29 662L37 664L46 676L40 678.5L29 677Z" fill="#c6c6c6" stroke="none" stroke-width="1" opacity="1" stroke-linejoin="round" stroke-linecap="round"/><path d="M29 677L46 677L58 682L72 688L84 697H29Z" fill="#4a4a4a" stroke="none" stroke-width="1" opacity="1" stroke-linejoin="round" stroke-linecap="round"/><ellipse cx="44.74" cy="687.05" rx="1.59" ry="1.34" fill="#2e2e2e" opacity="1"/><ellipse cx="73" cy="682.68" rx="1.11" ry="0.86" fill="#2e2e2e" opacity="1"/><ellipse cx="64.26" cy="685.53" rx="1.02" ry="0.81" fill="#2e2e2e" opacity="1"/><ellipse cx="38.28" cy="683.72" rx="1.11" ry="1.54" fill="#2e2e2e" opacity="1"/><ellipse cx="65.47" cy="683.84" rx="1.09" ry="0.92" fill="#2e2e2e" opacity="1"/><ellipse cx="76.77" cy="685.48" rx="1.41" ry="1.38" fill="#2e2e2e" opacity="1"/><ellipse cx="75.26" cy="679.37" rx="1.06" ry="1.11" fill="#2e2e2e" opacity="1"/><ellipse cx="33.24" cy="694.88" rx="1.06" ry="1.42" fill="#2e2e2e" opacity="1"/><ellipse cx="55.48" cy="679.99" rx="1.12" ry="0.99" fill="#2e2e2e" opacity="1"/><ellipse cx="31.08" cy="681.72" rx="1.28" ry="0.83" fill="#2e2e2e" opacity="1"/><ellipse cx="44.93" cy="686.63" rx="1.24" ry="0.91" fill="#2e2e2e" opacity="1"/><ellipse cx="65.04" cy="683.69" rx="1.38" ry="1.33" fill="#2e2e2e" opacity="1"/><ellipse cx="36.51" cy="682.69" rx="1.02" ry="1.37" fill="#2e2e2e" opacity="1"/><ellipse cx="49.67" cy="685.96" rx="1.49" ry="0.98" fill="#2e2e2e" opacity="1"/><path d="M44 676.5C50 679 56 681 63 684C70 687 77 691 84 696" fill="none" stroke="#c8c8c8" stroke-width="1.8" opacity="1" stroke-linejoin="round" stroke-linecap="round"/><path d="M29 685.5L47 685.2" fill="none" stroke="#8a8a8a" stroke-width="0.9" opacity="1" stroke-linejoin="round" stroke-linecap="round"/><path d="M84 697L89 688L94 681L100.5 682V697Z" fill="#cccccc" stroke="none" stroke-width="1" opacity="1" stroke-linejoin="round" stroke-linecap="round"/><ellipse cx="90.09" cy="691.1" rx="0.71" ry="0.62" fill="#555" opacity="1"/><ellipse cx="86.34" cy="693.67" rx="0.88" ry="1" fill="#555" opacity="1"/><ellipse cx="99.66" cy="690.68" rx="0.94" ry="1.06" fill="#555" opacity="1"/><ellipse cx="89.03" cy="694.2" rx="0.93" ry="1.08" fill="#555" opacity="1"/><ellipse cx="98.16" cy="690.11" rx="0.92" ry="0.64" fill="#555" opacity="1"/><ellipse cx="65.7" cy="645.1" rx="0.63" ry="0.79" fill="#d0d0d0" opacity="1"/><ellipse cx="64.61" cy="646.46" rx="0.74" ry="0.68" fill="#d0d0d0" opacity="1"/><ellipse cx="65.43" cy="646.18" rx="0.68" ry="0.93" fill="#d0d0d0" opacity="1"/><ellipse cx="63.64" cy="641.21" rx="0.77" ry="0.81" fill="#d0d0d0" opacity="1"/><ellipse cx="62.66" cy="647.57" rx="0.95" ry="0.88" fill="#d0d0d0" opacity="1"/><ellipse cx="68.7" cy="640.3" rx="0.8" ry="0.78" fill="#d0d0d0" opacity="1"/><ellipse cx="78.57" cy="642.83" rx="0.63" ry="0.85" fill="#d0d0d0" opacity="1"/><ellipse cx="83.27" cy="643.28" rx="0.76" ry="0.73" fill="#d0d0d0" opacity="1"/><ellipse cx="78.21" cy="642.43" rx="1.05" ry="0.88" fill="#d0d0d0" opacity="1"/><ellipse cx="80.36" cy="644.68" rx="0.69" ry="0.83" fill="#d0d0d0" opacity="1"/><ellipse cx="83.54" cy="646.68" rx="0.78" ry="0.89" fill="#333" opacity="1"/><ellipse cx="86.48" cy="645.4" rx="0.91" ry="0.91" fill="#333" opacity="1"/><ellipse cx="81.7" cy="642.91" rx="0.74" ry="1.01" fill="#333" opacity="1"/><ellipse cx="85.92" cy="642.67" rx="1.05" ry="0.62" fill="#333" opacity="1"/>
</g>
<rect x="28.9" y="627.1" width="71.6" height="69.9" fill="#808080" filter="url(#nz)" style="mix-blend-mode:overlay" opacity="0.38"/>
</g>
<line x1="79.3" y1="696" x2="92.8" y2="696" stroke="#1e1e1e" stroke-width="1.1"/>
<clipPath id="ec9"><rect x="107" y="630" width="30.3" height="30.3"/></clipPath>
<g clip-path="url(#ec9)" style="isolation:isolate">
<rect x="107" y="630" width="30.3" height="30.3" fill="#6a6a6a"/>
<g filter="url(#bem)">
<path d="M107 630H137.3V650H131C131 642 128 636 120 634C115 633 110 634 107 635Z" fill="#c8c8c8" stroke="none" stroke-width="1" opacity="1" stroke-linejoin="round" stroke-linecap="round"/><path d="M107 635C110 634 115 633 120 634C128 636 131 642 131 650" fill="none" stroke="#333" stroke-width="1" opacity="1" stroke-linejoin="round" stroke-linecap="round"/><ellipse cx="111.4" cy="639.9" rx="2" ry="2" fill="#2a2a2a" opacity="1"/><ellipse cx="118.4" cy="649.8" rx="3" ry="4" fill="#2e2e2e" opacity="1"/><ellipse cx="118.9" cy="637.9" rx="2" ry="1.6" fill="#333" opacity="1"/><ellipse cx="122" cy="640" rx="1.3" ry="1.3" fill="#c8c8c8" opacity="1"/><ellipse cx="126" cy="645" rx="1.4" ry="1.4" fill="#c0c0c0" opacity="1"/><ellipse cx="121" cy="647" rx="1" ry="1" fill="#bbb" opacity="1"/><ellipse cx="126.8" cy="651.8" rx="3" ry="3" fill="#d2d2d2" opacity="1"/><ellipse cx="126.8" cy="651.8" rx="1.5" ry="1.5" fill="#1e1e1e" opacity="1"/><ellipse cx="111.8" cy="657.04" rx="0.89" ry="0.92" fill="#b8b8b8" opacity="1"/><ellipse cx="135.36" cy="654.9" rx="0.82" ry="0.84" fill="#b8b8b8" opacity="1"/><ellipse cx="127.04" cy="655.41" rx="0.7" ry="1.03" fill="#b8b8b8" opacity="1"/><ellipse cx="119.03" cy="655.44" rx="1" ry="1.09" fill="#b8b8b8" opacity="1"/><ellipse cx="123.35" cy="657.75" rx="1.04" ry="1.2" fill="#b8b8b8" opacity="1"/><ellipse cx="135.13" cy="656" rx="0.91" ry="1.23" fill="#b8b8b8" opacity="1"/><ellipse cx="116.77" cy="658.3" rx="1.12" ry="1.11" fill="#b8b8b8" opacity="1"/><ellipse cx="134.99" cy="658.95" rx="0.8" ry="1.07" fill="#b8b8b8" opacity="1"/><ellipse cx="118.79" cy="650.15" rx="0.92" ry="0.87" fill="#4a4a4a" opacity="1"/><ellipse cx="124.48" cy="649.61" rx="0.84" ry="0.85" fill="#4a4a4a" opacity="1"/><ellipse cx="115.15" cy="643.2" rx="1.01" ry="0.78" fill="#4a4a4a" opacity="1"/><ellipse cx="109.39" cy="641.24" rx="0.76" ry="1.12" fill="#4a4a4a" opacity="1"/><ellipse cx="110.48" cy="648.13" rx="1.16" ry="0.99" fill="#4a4a4a" opacity="1"/><ellipse cx="111.58" cy="655.59" rx="1.22" ry="0.73" fill="#4a4a4a" opacity="1"/>
</g>
<rect x="107" y="630" width="30.3" height="30.3" fill="#808080" filter="url(#nz)" style="mix-blend-mode:overlay" opacity="0.38"/>
</g>
<rect x="107" y="630" width="30.3" height="30.3" fill="none" stroke="#333" stroke-width="0.5"/>
<clipPath id="ec10"><rect x="107" y="663.2" width="30.3" height="29.8"/></clipPath>
<g clip-path="url(#ec10)" style="isolation:isolate">
<rect x="107" y="663.2" width="30.3" height="29.8" fill="#6e6e6e"/>
<g filter="url(#bem)">
<path d="M107 663.2H137.3V664C130 665 122 668 115 667C111 668 108 671 107 673Z" fill="#cfcfcf" stroke="none" stroke-width="1" opacity="1" stroke-linejoin="round" stroke-linecap="round"/><ellipse cx="112" cy="676.7" rx="2.5" ry="4" fill="#c4c4c4" opacity="1"/><ellipse cx="130.3" cy="678.1" rx="3.5" ry="5" fill="#c0c0c0" opacity="1"/><ellipse cx="122.4" cy="689.1" rx="3" ry="3" fill="#c4c4c4" opacity="1"/><ellipse cx="134.8" cy="671.7" rx="2" ry="3" fill="#bcbcbc" opacity="1"/><ellipse cx="118.4" cy="680.1" rx="3.2" ry="5.2" fill="#262626" opacity="1"/><ellipse cx="116" cy="673" rx="1.4" ry="1.4" fill="#d0d0d0" opacity="1"/><ellipse cx="121.5" cy="675" rx="1.4" ry="1.4" fill="#d0d0d0" opacity="1"/><ellipse cx="115" cy="686" rx="1.4" ry="1.2" fill="#c8c8c8" opacity="1"/><path d="M128 686L137.3 683V693H126Z" fill="#444" stroke="none" stroke-width="1" opacity="1" stroke-linejoin="round" stroke-linecap="round"/>
</g>
<rect x="107" y="663.2" width="30.3" height="29.8" fill="#808080" filter="url(#nz)" style="mix-blend-mode:overlay" opacity="0.38"/>
</g>
<rect x="107" y="663.2" width="30.3" height="29.8" fill="none" stroke="#333" stroke-width="0.5"/>
<rect x="60.3" y="639.3" width="12" height="13.9" fill="none" stroke="#111" stroke-width="1"/>
<rect x="77.2" y="639.3" width="9.9" height="8.2" fill="none" stroke="#111" stroke-width="1"/>
<line x1="87.1" y1="639.3" x2="107" y2="630.2" stroke="#111" stroke-width="1"/>
<line x1="87.1" y1="647.3" x2="107" y2="660.2" stroke="#111" stroke-width="1"/>
<line x1="72.3" y1="649" x2="107" y2="663.3" stroke="#111" stroke-width="1"/>
<line x1="66.5" y1="653.2" x2="107" y2="692.9" stroke="#111" stroke-width="1"/>
<text x="20.2" y="659.8" font-size="7.8" text-anchor="middle" fill="#231f20" font-weight="normal" stroke="#231f20" stroke-width="0.05">P3</text>
<line x1="222" y1="457.2" x2="222" y2="629.1" stroke="#3a3a3a" stroke-width="1.1"/>
<line x1="221.5" y1="628.6" x2="338.8" y2="628.6" stroke="#3a3a3a" stroke-width="1.3"/>
<line x1="219.2" y1="628.6" x2="222" y2="628.6" stroke="#3a3a3a" stroke-width="0.9"/>
<text x="216.4" y="631.4" font-size="7.8" text-anchor="end" fill="#231f20" font-weight="normal" stroke="#231f20" stroke-width="0.12">0</text>
<line x1="219.2" y1="586.55" x2="222" y2="586.55" stroke="#3a3a3a" stroke-width="0.9"/>
<text x="216.4" y="589.35" font-size="7.8" text-anchor="end" fill="#231f20" font-weight="normal" stroke="#231f20" stroke-width="0.12">5</text>
<line x1="219.2" y1="544.5" x2="222" y2="544.5" stroke="#3a3a3a" stroke-width="0.9"/>
<text x="216.4" y="547.3" font-size="7.8" text-anchor="end" fill="#231f20" font-weight="normal" stroke="#231f20" stroke-width="0.12">10</text>
<line x1="219.2" y1="502.45" x2="222" y2="502.45" stroke="#3a3a3a" stroke-width="0.9"/>
<text x="216.4" y="505.25" font-size="7.8" text-anchor="end" fill="#231f20" font-weight="normal" stroke="#231f20" stroke-width="0.12">15</text>
<line x1="219.2" y1="460.4" x2="222" y2="460.4" stroke="#3a3a3a" stroke-width="0.9"/>
<text x="216.4" y="463.2" font-size="7.8" text-anchor="end" fill="#231f20" font-weight="normal" stroke="#231f20" stroke-width="0.12">20</text>
<text x="200.9" y="543" font-size="8.2" text-anchor="middle" fill="#231f20" font-weight="normal" stroke="#231f20" stroke-width="0.12" textLength="75.5" lengthAdjust="spacingAndGlyphs" transform="rotate(-90 200.9 543)">Autolysosomes per cell</text>
<path d="M234.1 628.6a1.05 1.05 0 1 0 2.1 0a1.05 1.05 0 1 0 -2.1 0ZM235.6 628.6a1.05 1.05 0 1 0 2.1 0a1.05 1.05 0 1 0 -2.1 0ZM237.1 628.6a1.05 1.05 0 1 0 2.1 0a1.05 1.05 0 1 0 -2.1 0ZM238.6 628.6a1.05 1.05 0 1 0 2.1 0a1.05 1.05 0 1 0 -2.1 0ZM240.1 628.6a1.05 1.05 0 1 0 2.1 0a1.05 1.05 0 1 0 -2.1 0ZM241.6 628.6a1.05 1.05 0 1 0 2.1 0a1.05 1.05 0 1 0 -2.1 0ZM243.1 628.6a1.05 1.05 0 1 0 2.1 0a1.05 1.05 0 1 0 -2.1 0ZM244.6 628.6a1.05 1.05 0 1 0 2.1 0a1.05 1.05 0 1 0 -2.1 0ZM230.94 620.19a1.05 1.05 0 1 0 2.1 0a1.05 1.05 0 1 0 -2.1 0ZM231.52 620.19a1.05 1.05 0 1 0 2.1 0a1.05 1.05 0 1 0 -2.1 0ZM232.1 620.19a1.05 1.05 0 1 0 2.1 0a1.05 1.05 0 1 0 -2.1 0ZM232.68 620.19a1.05 1.05 0 1 0 2.1 0a1.05 1.05 0 1 0 -2.1 0ZM233.26 620.19a1.05 1.05 0 1 0 2.1 0a1.05 1.05 0 1 0 -2.1 0ZM233.84 620.19a1.05 1.05 0 1 0 2.1 0a1.05 1.05 0 1 0 -2.1 0ZM234.42 620.19a1.05 1.05 0 1 0 2.1 0a1.05 1.05 0 1 0 -2.1 0ZM235 620.19a1.05 1.05 0 1 0 2.1 0a1.05 1.05 0 1 0 -2.1 0ZM235.58 620.19a1.05 1.05 0 1 0 2.1 0a1.05 1.05 0 1 0 -2.1 0ZM236.16 620.19a1.05 1.05 0 1 0 2.1 0a1.05 1.05 0 1 0 -2.1 0ZM236.74 620.19a1.05 1.05 0 1 0 2.1 0a1.05 1.05 0 1 0 -2.1 0ZM237.32 620.19a1.05 1.05 0 1 0 2.1 0a1.05 1.05 0 1 0 -2.1 0ZM237.9 620.19a1.05 1.05 0 1 0 2.1 0a1.05 1.05 0 1 0 -2.1 0ZM238.48 620.19a1.05 1.05 0 1 0 2.1 0a1.05 1.05 0 1 0 -2.1 0ZM239.06 620.19a1.05 1.05 0 1 0 2.1 0a1.05 1.05 0 1 0 -2.1 0ZM239.64 620.19a1.05 1.05 0 1 0 2.1 0a1.05 1.05 0 1 0 -2.1 0ZM240.22 620.19a1.05 1.05 0 1 0 2.1 0a1.05 1.05 0 1 0 -2.1 0ZM240.8 620.19a1.05 1.05 0 1 0 2.1 0a1.05 1.05 0 1 0 -2.1 0ZM241.38 620.19a1.05 1.05 0 1 0 2.1 0a1.05 1.05 0 1 0 -2.1 0ZM241.96 620.19a1.05 1.05 0 1 0 2.1 0a1.05 1.05 0 1 0 -2.1 0ZM242.54 620.19a1.05 1.05 0 1 0 2.1 0a1.05 1.05 0 1 0 -2.1 0ZM243.12 620.19a1.05 1.05 0 1 0 2.1 0a1.05 1.05 0 1 0 -2.1 0ZM243.7 620.19a1.05 1.05 0 1 0 2.1 0a1.05 1.05 0 1 0 -2.1 0ZM244.28 620.19a1.05 1.05 0 1 0 2.1 0a1.05 1.05 0 1 0 -2.1 0ZM244.86 620.19a1.05 1.05 0 1 0 2.1 0a1.05 1.05 0 1 0 -2.1 0ZM245.44 620.19a1.05 1.05 0 1 0 2.1 0a1.05 1.05 0 1 0 -2.1 0ZM246.02 620.19a1.05 1.05 0 1 0 2.1 0a1.05 1.05 0 1 0 -2.1 0ZM246.6 620.19a1.05 1.05 0 1 0 2.1 0a1.05 1.05 0 1 0 -2.1 0ZM247.18 620.19a1.05 1.05 0 1 0 2.1 0a1.05 1.05 0 1 0 -2.1 0ZM247.76 620.19a1.05 1.05 0 1 0 2.1 0a1.05 1.05 0 1 0 -2.1 0ZM234.85 611.78a1.05 1.05 0 1 0 2.1 0a1.05 1.05 0 1 0 -2.1 0ZM236.35 611.78a1.05 1.05 0 1 0 2.1 0a1.05 1.05 0 1 0 -2.1 0ZM237.85 611.78a1.05 1.05 0 1 0 2.1 0a1.05 1.05 0 1 0 -2.1 0ZM239.35 611.78a1.05 1.05 0 1 0 2.1 0a1.05 1.05 0 1 0 -2.1 0ZM240.85 611.78a1.05 1.05 0 1 0 2.1 0a1.05 1.05 0 1 0 -2.1 0ZM242.35 611.78a1.05 1.05 0 1 0 2.1 0a1.05 1.05 0 1 0 -2.1 0ZM243.85 611.78a1.05 1.05 0 1 0 2.1 0a1.05 1.05 0 1 0 -2.1 0ZM239.35 603.37a1.05 1.05 0 1 0 2.1 0a1.05 1.05 0 1 0 -2.1 0ZM239.35 594.96a1.05 1.05 0 1 0 2.1 0a1.05 1.05 0 1 0 -2.1 0Z" fill="#4b1570"/>
<path d="M267.5 629.84L268.65 627.77L266.35 627.77ZM259.1 621.43L260.25 619.36L257.95 619.36ZM259.9 621.43L261.05 619.36L258.75 619.36ZM260.7 621.43L261.85 619.36L259.55 619.36ZM261.5 621.43L262.65 619.36L260.35 619.36ZM262.3 621.43L263.45 619.36L261.15 619.36ZM263.1 621.43L264.25 619.36L261.95 619.36ZM263.9 621.43L265.05 619.36L262.75 619.36ZM264.7 621.43L265.85 619.36L263.55 619.36ZM265.5 621.43L266.65 619.36L264.35 619.36ZM266.3 621.43L267.45 619.36L265.15 619.36ZM267.1 621.43L268.25 619.36L265.95 619.36ZM267.9 621.43L269.05 619.36L266.75 619.36ZM268.7 621.43L269.85 619.36L267.55 619.36ZM269.5 621.43L270.65 619.36L268.35 619.36ZM270.3 621.43L271.45 619.36L269.15 619.36ZM271.1 621.43L272.25 619.36L269.95 619.36ZM271.9 621.43L273.05 619.36L270.75 619.36ZM272.7 621.43L273.85 619.36L271.55 619.36ZM273.5 621.43L274.65 619.36L272.35 619.36ZM274.3 621.43L275.45 619.36L273.15 619.36ZM275.1 621.43L276.25 619.36L273.95 619.36ZM275.9 621.43L277.05 619.36L274.75 619.36ZM263.5 613.02L264.65 610.95L262.35 610.95ZM265.1 613.02L266.25 610.95L263.95 610.95ZM266.7 613.02L267.85 610.95L265.55 610.95ZM268.3 613.02L269.45 610.95L267.15 610.95ZM269.9 613.02L271.05 610.95L268.75 610.95ZM271.5 613.02L272.65 610.95L270.35 610.95ZM267.5 604.61L268.65 602.54L266.35 602.54ZM267.5 596.2L268.65 594.13L266.35 594.13ZM267.5 587.79L268.65 585.72L266.35 585.72Z" fill="#2aab3c"/>
<path d="M291.7 620.19a1.05 1.05 0 1 0 2.1 0a1.05 1.05 0 1 0 -2.1 0ZM293.75 620.19a1.05 1.05 0 1 0 2.1 0a1.05 1.05 0 1 0 -2.1 0ZM295.8 620.19a1.05 1.05 0 1 0 2.1 0a1.05 1.05 0 1 0 -2.1 0ZM290.68 611.78a1.05 1.05 0 1 0 2.1 0a1.05 1.05 0 1 0 -2.1 0ZM292.73 611.78a1.05 1.05 0 1 0 2.1 0a1.05 1.05 0 1 0 -2.1 0ZM294.77 611.78a1.05 1.05 0 1 0 2.1 0a1.05 1.05 0 1 0 -2.1 0ZM296.82 611.78a1.05 1.05 0 1 0 2.1 0a1.05 1.05 0 1 0 -2.1 0ZM290.68 603.37a1.05 1.05 0 1 0 2.1 0a1.05 1.05 0 1 0 -2.1 0ZM292.73 603.37a1.05 1.05 0 1 0 2.1 0a1.05 1.05 0 1 0 -2.1 0ZM294.77 603.37a1.05 1.05 0 1 0 2.1 0a1.05 1.05 0 1 0 -2.1 0ZM296.82 603.37a1.05 1.05 0 1 0 2.1 0a1.05 1.05 0 1 0 -2.1 0ZM285.55 594.96a1.05 1.05 0 1 0 2.1 0a1.05 1.05 0 1 0 -2.1 0ZM287.6 594.96a1.05 1.05 0 1 0 2.1 0a1.05 1.05 0 1 0 -2.1 0ZM289.65 594.96a1.05 1.05 0 1 0 2.1 0a1.05 1.05 0 1 0 -2.1 0ZM291.7 594.96a1.05 1.05 0 1 0 2.1 0a1.05 1.05 0 1 0 -2.1 0ZM293.75 594.96a1.05 1.05 0 1 0 2.1 0a1.05 1.05 0 1 0 -2.1 0ZM295.8 594.96a1.05 1.05 0 1 0 2.1 0a1.05 1.05 0 1 0 -2.1 0ZM297.85 594.96a1.05 1.05 0 1 0 2.1 0a1.05 1.05 0 1 0 -2.1 0ZM299.9 594.96a1.05 1.05 0 1 0 2.1 0a1.05 1.05 0 1 0 -2.1 0ZM301.95 594.96a1.05 1.05 0 1 0 2.1 0a1.05 1.05 0 1 0 -2.1 0ZM285.55 586.55a1.05 1.05 0 1 0 2.1 0a1.05 1.05 0 1 0 -2.1 0ZM287.6 586.55a1.05 1.05 0 1 0 2.1 0a1.05 1.05 0 1 0 -2.1 0ZM289.65 586.55a1.05 1.05 0 1 0 2.1 0a1.05 1.05 0 1 0 -2.1 0ZM291.7 586.55a1.05 1.05 0 1 0 2.1 0a1.05 1.05 0 1 0 -2.1 0ZM293.75 586.55a1.05 1.05 0 1 0 2.1 0a1.05 1.05 0 1 0 -2.1 0ZM295.8 586.55a1.05 1.05 0 1 0 2.1 0a1.05 1.05 0 1 0 -2.1 0ZM297.85 586.55a1.05 1.05 0 1 0 2.1 0a1.05 1.05 0 1 0 -2.1 0ZM299.9 586.55a1.05 1.05 0 1 0 2.1 0a1.05 1.05 0 1 0 -2.1 0ZM301.95 586.55a1.05 1.05 0 1 0 2.1 0a1.05 1.05 0 1 0 -2.1 0ZM288.62 578.14a1.05 1.05 0 1 0 2.1 0a1.05 1.05 0 1 0 -2.1 0ZM290.68 578.14a1.05 1.05 0 1 0 2.1 0a1.05 1.05 0 1 0 -2.1 0ZM292.73 578.14a1.05 1.05 0 1 0 2.1 0a1.05 1.05 0 1 0 -2.1 0ZM294.77 578.14a1.05 1.05 0 1 0 2.1 0a1.05 1.05 0 1 0 -2.1 0ZM296.82 578.14a1.05 1.05 0 1 0 2.1 0a1.05 1.05 0 1 0 -2.1 0ZM298.88 578.14a1.05 1.05 0 1 0 2.1 0a1.05 1.05 0 1 0 -2.1 0ZM292.73 569.73a1.05 1.05 0 1 0 2.1 0a1.05 1.05 0 1 0 -2.1 0ZM294.77 569.73a1.05 1.05 0 1 0 2.1 0a1.05 1.05 0 1 0 -2.1 0ZM293.75 561.32a1.05 1.05 0 1 0 2.1 0a1.05 1.05 0 1 0 -2.1 0ZM293.75 552.91a1.05 1.05 0 1 0 2.1 0a1.05 1.05 0 1 0 -2.1 0ZM293.75 544.5a1.05 1.05 0 1 0 2.1 0a1.05 1.05 0 1 0 -2.1 0ZM293.75 536.09a1.05 1.05 0 1 0 2.1 0a1.05 1.05 0 1 0 -2.1 0ZM293.75 502.45a1.05 1.05 0 1 0 2.1 0a1.05 1.05 0 1 0 -2.1 0ZM293.75 477.22a1.05 1.05 0 1 0 2.1 0a1.05 1.05 0 1 0 -2.1 0Z" fill="#17528e"/>
<path d="M318.52 618.84L319.77 621.09L317.27 621.09ZM321.18 618.84L322.43 621.09L319.93 621.09ZM323.82 618.84L325.07 621.09L322.57 621.09ZM326.48 618.84L327.73 621.09L325.23 621.09ZM321.18 610.43L322.43 612.68L319.93 612.68ZM323.82 610.43L325.07 612.68L322.57 612.68ZM314.55 602.02L315.8 604.27L313.3 604.27ZM317.2 602.02L318.45 604.27L315.95 604.27ZM319.85 602.02L321.1 604.27L318.6 604.27ZM322.5 602.02L323.75 604.27L321.25 604.27ZM325.15 602.02L326.4 604.27L323.9 604.27ZM327.8 602.02L329.05 604.27L326.55 604.27ZM330.45 602.02L331.7 604.27L329.2 604.27ZM315.88 593.61L317.12 595.86L314.62 595.86ZM318.52 593.61L319.77 595.86L317.27 595.86ZM321.18 593.61L322.43 595.86L319.93 595.86ZM323.82 593.61L325.07 595.86L322.57 595.86ZM326.48 593.61L327.73 595.86L325.23 595.86ZM329.12 593.61L330.38 595.86L327.88 595.86ZM314.55 585.2L315.8 587.45L313.3 587.45ZM317.2 585.2L318.45 587.45L315.95 587.45ZM319.85 585.2L321.1 587.45L318.6 587.45ZM322.5 585.2L323.75 587.45L321.25 587.45ZM325.15 585.2L326.4 587.45L323.9 587.45ZM327.8 585.2L329.05 587.45L326.55 587.45ZM330.45 585.2L331.7 587.45L329.2 587.45ZM314.55 576.79L315.8 579.04L313.3 579.04ZM317.2 576.79L318.45 579.04L315.95 579.04ZM319.85 576.79L321.1 579.04L318.6 579.04ZM322.5 576.79L323.75 579.04L321.25 579.04ZM325.15 576.79L326.4 579.04L323.9 579.04ZM327.8 576.79L329.05 579.04L326.55 579.04ZM330.45 576.79L331.7 579.04L329.2 579.04ZM322.5 568.38L323.75 570.63L321.25 570.63ZM321.18 559.97L322.43 562.22L319.93 562.22ZM323.82 559.97L325.07 562.22L322.57 562.22ZM322.5 551.56L323.75 553.81L321.25 553.81ZM321.18 517.92L322.43 520.17L319.93 520.17ZM323.82 517.92L325.07 520.17L322.57 520.17ZM321.18 509.51L322.43 511.76L319.93 511.76ZM323.82 509.51L325.07 511.76L322.57 511.76ZM322.5 492.69L323.75 494.94L321.25 494.94ZM322.5 484.28L323.75 486.53L321.25 486.53Z" fill="#cf1838"/>
<line x1="231.8" y1="620.19" x2="249" y2="620.19" stroke="#1a1a1a" stroke-width="1.1"/>
<line x1="258.8" y1="620.19" x2="276.2" y2="620.19" stroke="#1a3a1a" stroke-width="1.1"/>
<line x1="286" y1="586.55" x2="303.6" y2="586.55" stroke="#1a1a1a" stroke-width="1.1"/>
<line x1="313" y1="586.55" x2="332.2" y2="586.55" stroke="#1a1a1a" stroke-width="1.1"/>
<line x1="240.4" y1="628.6" x2="240.4" y2="631.5" stroke="#3a3a3a" stroke-width="1"/>
<text x="240.4" y="640.6" font-size="7.8" text-anchor="middle" fill="#231f20" font-weight="normal" stroke="#231f20" stroke-width="0.12">HD</text>
<text x="240.4" y="649.9" font-size="7.6" text-anchor="middle" fill="#231f20" font-weight="normal" stroke="#231f20" stroke-width="0.12" textLength="19.5" lengthAdjust="spacingAndGlyphs">N=64</text>
<line x1="267.5" y1="628.6" x2="267.5" y2="631.5" stroke="#3a3a3a" stroke-width="1"/>
<text x="267.5" y="640.6" font-size="7.8" text-anchor="middle" fill="#231f20" font-weight="normal" stroke="#231f20" stroke-width="0.12">P1</text>
<text x="267.5" y="649.9" font-size="7.6" text-anchor="middle" fill="#231f20" font-weight="normal" stroke="#231f20" stroke-width="0.12" textLength="19.5" lengthAdjust="spacingAndGlyphs">N=29</text>
<line x1="294.8" y1="628.6" x2="294.8" y2="631.5" stroke="#3a3a3a" stroke-width="1"/>
<text x="294.8" y="640.6" font-size="7.8" text-anchor="middle" fill="#231f20" font-weight="normal" stroke="#231f20" stroke-width="0.12">P2</text>
<text x="294.8" y="649.9" font-size="7.6" text-anchor="middle" fill="#231f20" font-weight="normal" stroke="#231f20" stroke-width="0.12" textLength="19.5" lengthAdjust="spacingAndGlyphs">N=39</text>
<line x1="322.5" y1="628.6" x2="322.5" y2="631.5" stroke="#3a3a3a" stroke-width="1"/>
<text x="322.5" y="640.6" font-size="7.8" text-anchor="middle" fill="#231f20" font-weight="normal" stroke="#231f20" stroke-width="0.12">P3</text>
<text x="322.5" y="649.9" font-size="7.6" text-anchor="middle" fill="#231f20" font-weight="normal" stroke="#231f20" stroke-width="0.12" textLength="19.5" lengthAdjust="spacingAndGlyphs">N=40</text>
<line x1="241" y1="489.6" x2="269" y2="489.6" stroke="#3a3a3a" stroke-width="1.1"/>
<line x1="241" y1="487.3" x2="241" y2="491.9" stroke="#3a3a3a" stroke-width="1"/>
<line x1="269" y1="487.3" x2="269" y2="491.9" stroke="#3a3a3a" stroke-width="1"/>
<text x="255.2" y="486.4" font-size="7.6" text-anchor="middle" fill="#231f20" font-weight="normal" stroke="#231f20" stroke-width="0.12" textLength="7.6" lengthAdjust="spacingAndGlyphs">ns</text>
<line x1="240.4" y1="474.8" x2="298.2" y2="474.8" stroke="#3a3a3a" stroke-width="1.1"/>
<line x1="240.4" y1="472.5" x2="240.4" y2="477.1" stroke="#3a3a3a" stroke-width="1"/>
<line x1="298.2" y1="472.5" x2="298.2" y2="477.1" stroke="#3a3a3a" stroke-width="1"/>
<text x="269" y="475.6" font-size="10" text-anchor="middle" fill="#231f20" font-weight="normal" stroke="#231f20" stroke-width="0.12" textLength="16.8" lengthAdjust="spacingAndGlyphs">****</text>
<line x1="239.5" y1="461" x2="327.2" y2="461" stroke="#3a3a3a" stroke-width="1.1"/>
<line x1="239.5" y1="458.7" x2="239.5" y2="463.3" stroke="#3a3a3a" stroke-width="1"/>
<line x1="327.2" y1="458.7" x2="327.2" y2="463.3" stroke="#3a3a3a" stroke-width="1"/>
<text x="282.8" y="461.8" font-size="10" text-anchor="middle" fill="#231f20" font-weight="normal" stroke="#231f20" stroke-width="0.12" textLength="16.8" lengthAdjust="spacingAndGlyphs">****</text>
<line x1="383.2" y1="453.4" x2="383.2" y2="523.7" stroke="#3a3a3a" stroke-width="1.1"/>
<line x1="383.2" y1="536.8" x2="383.2" y2="628.6" stroke="#3a3a3a" stroke-width="1.1"/>
<line x1="381.2" y1="523.7" x2="385.2" y2="523.7" stroke="#3a3a3a" stroke-width="1.1"/>
<line x1="381.2" y1="536.8" x2="385.2" y2="536.8" stroke="#3a3a3a" stroke-width="1.1"/>
<line x1="382.7" y1="628.1" x2="511.7" y2="628.1" stroke="#3a3a3a" stroke-width="1.3"/>
<line x1="379.6" y1="457.4" x2="383.2" y2="457.4" stroke="#3a3a3a" stroke-width="0.9"/>
<text x="377.2" y="460.2" font-size="7.8" text-anchor="end" fill="#231f20" font-weight="normal" stroke="#231f20" stroke-width="0.12">2.5</text>
<line x1="379.6" y1="483.9" x2="383.2" y2="483.9" stroke="#3a3a3a" stroke-width="0.9"/>
<text x="377.2" y="486.7" font-size="7.8" text-anchor="end" fill="#231f20" font-weight="normal" stroke="#231f20" stroke-width="0.12">2.0</text>
<line x1="379.6" y1="510.4" x2="383.2" y2="510.4" stroke="#3a3a3a" stroke-width="0.9"/>
<text x="377.2" y="513.2" font-size="7.8" text-anchor="end" fill="#231f20" font-weight="normal" stroke="#231f20" stroke-width="0.12">1.5</text>
<line x1="379.6" y1="628.1" x2="383.2" y2="628.1" stroke="#3a3a3a" stroke-width="0.9"/>
<text x="377.2" y="630.9" font-size="7.8" text-anchor="end" fill="#231f20" font-weight="normal" stroke="#231f20" stroke-width="0.12">0.0</text>
<line x1="379.6" y1="603.5" x2="383.2" y2="603.5" stroke="#3a3a3a" stroke-width="0.9"/>
<text x="377.2" y="606.3" font-size="7.8" text-anchor="end" fill="#231f20" font-weight="normal" stroke="#231f20" stroke-width="0.12">0.2</text>
<line x1="379.6" y1="578.9" x2="383.2" y2="578.9" stroke="#3a3a3a" stroke-width="0.9"/>
<text x="377.2" y="581.7" font-size="7.8" text-anchor="end" fill="#231f20" font-weight="normal" stroke="#231f20" stroke-width="0.12">0.4</text>
<line x1="379.6" y1="554.3" x2="383.2" y2="554.3" stroke="#3a3a3a" stroke-width="0.9"/>
<text x="377.2" y="557.1" font-size="7.8" text-anchor="end" fill="#231f20" font-weight="normal" stroke="#231f20" stroke-width="0.12">0.6</text>
<text x="357.2" y="550" font-size="8.2" text-anchor="middle" fill="#231f20" font-weight="normal" stroke="#231f20" stroke-width="0.12" textLength="86" lengthAdjust="spacingAndGlyphs" transform="rotate(-90 357.2 550)">Autolysosome area (&#956;m<tspan font-size="5.5" dy="-3">2</tspan><tspan dy="3">)</tspan></text>
<path d="M396.35 548.15a0.95 0.95 0 1 0 1.9 0a0.95 0.95 0 1 0 -1.9 0ZM396.35 578.91a0.95 0.95 0 1 0 1.9 0a0.95 0.95 0 1 0 -1.9 0ZM396.35 580.85a0.95 0.95 0 1 0 1.9 0a0.95 0.95 0 1 0 -1.9 0ZM397.55 583.69a0.95 0.95 0 1 0 1.9 0a0.95 0.95 0 1 0 -1.9 0ZM395.15 584.66a0.95 0.95 0 1 0 1.9 0a0.95 0.95 0 1 0 -1.9 0ZM397.55 586.67a0.95 0.95 0 1 0 1.9 0a0.95 0.95 0 1 0 -1.9 0ZM395.15 587.67a0.95 0.95 0 1 0 1.9 0a0.95 0.95 0 1 0 -1.9 0ZM393.95 588.62a0.95 0.95 0 1 0 1.9 0a0.95 0.95 0 1 0 -1.9 0ZM396.35 589.1a0.95 0.95 0 1 0 1.9 0a0.95 0.95 0 1 0 -1.9 0ZM398.75 590.31a0.95 0.95 0 1 0 1.9 0a0.95 0.95 0 1 0 -1.9 0ZM393.95 591.85a0.95 0.95 0 1 0 1.9 0a0.95 0.95 0 1 0 -1.9 0ZM398.75 592.86a0.95 0.95 0 1 0 1.9 0a0.95 0.95 0 1 0 -1.9 0ZM396.35 593.47a0.95 0.95 0 1 0 1.9 0a0.95 0.95 0 1 0 -1.9 0ZM395.15 593.84a0.95 0.95 0 1 0 1.9 0a0.95 0.95 0 1 0 -1.9 0ZM397.55 595.37a0.95 0.95 0 1 0 1.9 0a0.95 0.95 0 1 0 -1.9 0ZM397.55 596.25a0.95 0.95 0 1 0 1.9 0a0.95 0.95 0 1 0 -1.9 0ZM395.15 597.28a0.95 0.95 0 1 0 1.9 0a0.95 0.95 0 1 0 -1.9 0ZM396.35 598.19a0.95 0.95 0 1 0 1.9 0a0.95 0.95 0 1 0 -1.9 0ZM398.75 598.64a0.95 0.95 0 1 0 1.9 0a0.95 0.95 0 1 0 -1.9 0ZM393.95 599.17a0.95 0.95 0 1 0 1.9 0a0.95 0.95 0 1 0 -1.9 0ZM397.55 600.11a0.95 0.95 0 1 0 1.9 0a0.95 0.95 0 1 0 -1.9 0ZM395.15 600.31a0.95 0.95 0 1 0 1.9 0a0.95 0.95 0 1 0 -1.9 0ZM399.95 601.05a0.95 0.95 0 1 0 1.9 0a0.95 0.95 0 1 0 -1.9 0ZM392.75 601.79a0.95 0.95 0 1 0 1.9 0a0.95 0.95 0 1 0 -1.9 0ZM395.15 602.01a0.95 0.95 0 1 0 1.9 0a0.95 0.95 0 1 0 -1.9 0ZM399.95 602.64a0.95 0.95 0 1 0 1.9 0a0.95 0.95 0 1 0 -1.9 0ZM392.75 603.08a0.95 0.95 0 1 0 1.9 0a0.95 0.95 0 1 0 -1.9 0ZM397.55 603.63a0.95 0.95 0 1 0 1.9 0a0.95 0.95 0 1 0 -1.9 0ZM396.35 604.1a0.95 0.95 0 1 0 1.9 0a0.95 0.95 0 1 0 -1.9 0ZM393.95 604.61a0.95 0.95 0 1 0 1.9 0a0.95 0.95 0 1 0 -1.9 0ZM398.75 605.57a0.95 0.95 0 1 0 1.9 0a0.95 0.95 0 1 0 -1.9 0ZM398.75 605.81a0.95 0.95 0 1 0 1.9 0a0.95 0.95 0 1 0 -1.9 0ZM393.95 606.65a0.95 0.95 0 1 0 1.9 0a0.95 0.95 0 1 0 -1.9 0ZM396.35 606.85a0.95 0.95 0 1 0 1.9 0a0.95 0.95 0 1 0 -1.9 0ZM398.75 607.85a0.95 0.95 0 1 0 1.9 0a0.95 0.95 0 1 0 -1.9 0ZM396.35 608.32a0.95 0.95 0 1 0 1.9 0a0.95 0.95 0 1 0 -1.9 0ZM393.95 608.6a0.95 0.95 0 1 0 1.9 0a0.95 0.95 0 1 0 -1.9 0ZM391.55 608.99a0.95 0.95 0 1 0 1.9 0a0.95 0.95 0 1 0 -1.9 0ZM401.15 609.26a0.95 0.95 0 1 0 1.9 0a0.95 0.95 0 1 0 -1.9 0ZM393.95 609.63a0.95 0.95 0 1 0 1.9 0a0.95 0.95 0 1 0 -1.9 0ZM391.55 609.81a0.95 0.95 0 1 0 1.9 0a0.95 0.95 0 1 0 -1.9 0ZM396.35 610.43a0.95 0.95 0 1 0 1.9 0a0.95 0.95 0 1 0 -1.9 0ZM398.75 610.53a0.95 0.95 0 1 0 1.9 0a0.95 0.95 0 1 0 -1.9 0ZM401.15 611.1a0.95 0.95 0 1 0 1.9 0a0.95 0.95 0 1 0 -1.9 0ZM398.75 611.37a0.95 0.95 0 1 0 1.9 0a0.95 0.95 0 1 0 -1.9 0ZM391.55 611.51a0.95 0.95 0 1 0 1.9 0a0.95 0.95 0 1 0 -1.9 0ZM396.35 612.14a0.95 0.95 0 1 0 1.9 0a0.95 0.95 0 1 0 -1.9 0ZM401.15 612.35a0.95 0.95 0 1 0 1.9 0a0.95 0.95 0 1 0 -1.9 0ZM393.95 612.75a0.95 0.95 0 1 0 1.9 0a0.95 0.95 0 1 0 -1.9 0ZM391.55 613.19a0.95 0.95 0 1 0 1.9 0a0.95 0.95 0 1 0 -1.9 0ZM393.95 613.33a0.95 0.95 0 1 0 1.9 0a0.95 0.95 0 1 0 -1.9 0ZM396.35 613.59a0.95 0.95 0 1 0 1.9 0a0.95 0.95 0 1 0 -1.9 0ZM401.15 613.98a0.95 0.95 0 1 0 1.9 0a0.95 0.95 0 1 0 -1.9 0ZM398.75 614.23a0.95 0.95 0 1 0 1.9 0a0.95 0.95 0 1 0 -1.9 0ZM397.55 614.9a0.95 0.95 0 1 0 1.9 0a0.95 0.95 0 1 0 -1.9 0ZM399.95 615.17a0.95 0.95 0 1 0 1.9 0a0.95 0.95 0 1 0 -1.9 0ZM392.75 615.52a0.95 0.95 0 1 0 1.9 0a0.95 0.95 0 1 0 -1.9 0ZM402.35 615.67a0.95 0.95 0 1 0 1.9 0a0.95 0.95 0 1 0 -1.9 0ZM395.15 616.25a0.95 0.95 0 1 0 1.9 0a0.95 0.95 0 1 0 -1.9 0ZM390.35 616.42a0.95 0.95 0 1 0 1.9 0a0.95 0.95 0 1 0 -1.9 0ZM395.15 616.83a0.95 0.95 0 1 0 1.9 0a0.95 0.95 0 1 0 -1.9 0ZM399.95 617.3a0.95 0.95 0 1 0 1.9 0a0.95 0.95 0 1 0 -1.9 0ZM402.35 617.56a0.95 0.95 0 1 0 1.9 0a0.95 0.95 0 1 0 -1.9 0ZM392.75 617.81a0.95 0.95 0 1 0 1.9 0a0.95 0.95 0 1 0 -1.9 0ZM397.55 618.15a0.95 0.95 0 1 0 1.9 0a0.95 0.95 0 1 0 -1.9 0ZM390.35 618.39a0.95 0.95 0 1 0 1.9 0a0.95 0.95 0 1 0 -1.9 0ZM398.75 618.74a0.95 0.95 0 1 0 1.9 0a0.95 0.95 0 1 0 -1.9 0ZM396.35 619.28a0.95 0.95 0 1 0 1.9 0a0.95 0.95 0 1 0 -1.9 0ZM393.95 619.61a0.95 0.95 0 1 0 1.9 0a0.95 0.95 0 1 0 -1.9 0ZM397.55 620.48a0.95 0.95 0 1 0 1.9 0a0.95 0.95 0 1 0 -1.9 0ZM395.15 621.45a0.95 0.95 0 1 0 1.9 0a0.95 0.95 0 1 0 -1.9 0ZM396.35 623.18a0.95 0.95 0 1 0 1.9 0a0.95 0.95 0 1 0 -1.9 0Z" fill="#4b1570"/>
<path d="M429.3 551.64L430.25 549.93L428.35 549.93ZM429.3 569.96L430.25 568.25L428.35 568.25ZM429.3 578.07L430.25 576.36L428.35 576.36ZM429.3 583.18L430.25 581.47L428.35 581.47ZM430.5 587.94L431.45 586.23L429.55 586.23ZM428.1 589.55L429.05 587.84L427.15 587.84ZM430.5 591.51L431.45 589.8L429.55 589.8ZM428.1 592.82L429.05 591.11L427.15 591.11ZM430.5 595.19L431.45 593.48L429.55 593.48ZM428.1 595.97L429.05 594.26L427.15 594.26ZM429.3 597.29L430.25 595.58L428.35 595.58ZM428.1 600.18L429.05 598.47L427.15 598.47ZM430.5 601.05L431.45 599.34L429.55 599.34ZM431.7 602.05L432.65 600.34L430.75 600.34ZM426.9 602.7L427.85 600.99L425.95 600.99ZM429.3 603.41L430.25 601.7L428.35 601.7ZM431.7 604.08L432.65 602.37L430.75 602.37ZM426.9 604.24L427.85 602.53L425.95 602.53ZM429.3 604.91L430.25 603.2L428.35 603.2ZM429.3 606L430.25 604.29L428.35 604.29ZM426.9 606.81L427.85 605.1L425.95 605.1ZM431.7 607.28L432.65 605.57L430.75 605.57ZM426.9 607.79L427.85 606.08L425.95 606.08ZM431.7 608.64L432.65 606.93L430.75 606.93ZM429.3 609.38L430.25 607.67L428.35 607.67ZM429.3 610.19L430.25 608.48L428.35 608.48ZM434.1 610.22L435.05 608.51L433.15 608.51ZM431.7 610.86L432.65 609.15L430.75 609.15ZM426.9 611.7L427.85 609.99L425.95 609.99ZM424.5 611.82L425.45 610.11L423.55 610.11ZM425.7 612.57L426.65 610.86L424.75 610.86ZM428.1 612.94L429.05 611.23L427.15 611.23ZM432.9 613.56L433.85 611.85L431.95 611.85ZM430.5 613.79L431.45 612.08L429.55 612.08ZM428.1 614.43L429.05 612.72L427.15 612.72ZM425.7 615.01L426.65 613.3L424.75 613.3ZM430.5 615.42L431.45 613.71L429.55 613.71ZM432.9 615.78L433.85 614.07L431.95 614.07ZM429.3 616.33L430.25 614.62L428.35 614.62ZM426.9 616.81L427.85 615.1L425.95 615.1ZM431.7 617.62L432.65 615.91L430.75 615.91ZM425.7 618.22L426.65 616.51L424.75 616.51ZM428.1 618.37L429.05 616.66L427.15 616.66ZM432.9 618.97L433.85 617.26L431.95 617.26ZM430.5 619.26L431.45 617.55L429.55 617.55ZM431.7 620.94L432.65 619.23L430.75 619.23ZM426.9 621.72L427.85 620.01L425.95 620.01ZM429.3 622.45L430.25 620.74L428.35 620.74ZM429.3 624.21L430.25 622.5L428.35 622.5Z" fill="#4cbf58"/>
<path d="M458.3 542a1.1 1.1 0 1 0 2.2 0a1.1 1.1 0 1 0 -2.2 0ZM458.3 548.13a1.1 1.1 0 1 0 2.2 0a1.1 1.1 0 1 0 -2.2 0ZM458.3 554.73a1.1 1.1 0 1 0 2.2 0a1.1 1.1 0 1 0 -2.2 0ZM458.3 561.78a1.1 1.1 0 1 0 2.2 0a1.1 1.1 0 1 0 -2.2 0ZM458.3 565.78a1.1 1.1 0 1 0 2.2 0a1.1 1.1 0 1 0 -2.2 0ZM458.3 572.62a1.1 1.1 0 1 0 2.2 0a1.1 1.1 0 1 0 -2.2 0ZM458.3 574.37a1.1 1.1 0 1 0 2.2 0a1.1 1.1 0 1 0 -2.2 0ZM460.2 574.78a1.1 1.1 0 1 0 2.2 0a1.1 1.1 0 1 0 -2.2 0ZM456.4 575.75a1.1 1.1 0 1 0 2.2 0a1.1 1.1 0 1 0 -2.2 0ZM457.35 576.58a1.1 1.1 0 1 0 2.2 0a1.1 1.1 0 1 0 -2.2 0ZM459.25 577.62a1.1 1.1 0 1 0 2.2 0a1.1 1.1 0 1 0 -2.2 0ZM458.3 578.09a1.1 1.1 0 1 0 2.2 0a1.1 1.1 0 1 0 -2.2 0ZM458.3 579.62a1.1 1.1 0 1 0 2.2 0a1.1 1.1 0 1 0 -2.2 0ZM456.4 579.9a1.1 1.1 0 1 0 2.2 0a1.1 1.1 0 1 0 -2.2 0ZM460.2 581.05a1.1 1.1 0 1 0 2.2 0a1.1 1.1 0 1 0 -2.2 0ZM458.3 581.56a1.1 1.1 0 1 0 2.2 0a1.1 1.1 0 1 0 -2.2 0ZM458.3 583.07a1.1 1.1 0 1 0 2.2 0a1.1 1.1 0 1 0 -2.2 0ZM456.4 583.51a1.1 1.1 0 1 0 2.2 0a1.1 1.1 0 1 0 -2.2 0ZM460.2 584.27a1.1 1.1 0 1 0 2.2 0a1.1 1.1 0 1 0 -2.2 0ZM458.3 585.25a1.1 1.1 0 1 0 2.2 0a1.1 1.1 0 1 0 -2.2 0ZM456.4 586.1a1.1 1.1 0 1 0 2.2 0a1.1 1.1 0 1 0 -2.2 0ZM460.2 586.61a1.1 1.1 0 1 0 2.2 0a1.1 1.1 0 1 0 -2.2 0ZM453.55 587.04a1.1 1.1 0 1 0 2.2 0a1.1 1.1 0 1 0 -2.2 0ZM463.05 587.11a1.1 1.1 0 1 0 2.2 0a1.1 1.1 0 1 0 -2.2 0ZM459.25 587.38a1.1 1.1 0 1 0 2.2 0a1.1 1.1 0 1 0 -2.2 0ZM457.35 587.7a1.1 1.1 0 1 0 2.2 0a1.1 1.1 0 1 0 -2.2 0ZM461.15 588.19a1.1 1.1 0 1 0 2.2 0a1.1 1.1 0 1 0 -2.2 0ZM455.45 588.33a1.1 1.1 0 1 0 2.2 0a1.1 1.1 0 1 0 -2.2 0ZM457.35 588.67a1.1 1.1 0 1 0 2.2 0a1.1 1.1 0 1 0 -2.2 0ZM459.25 589.1a1.1 1.1 0 1 0 2.2 0a1.1 1.1 0 1 0 -2.2 0ZM461.15 589.3a1.1 1.1 0 1 0 2.2 0a1.1 1.1 0 1 0 -2.2 0ZM455.45 589.66a1.1 1.1 0 1 0 2.2 0a1.1 1.1 0 1 0 -2.2 0ZM458.3 590.16a1.1 1.1 0 1 0 2.2 0a1.1 1.1 0 1 0 -2.2 0ZM454.5 590.33a1.1 1.1 0 1 0 2.2 0a1.1 1.1 0 1 0 -2.2 0ZM456.4 590.58a1.1 1.1 0 1 0 2.2 0a1.1 1.1 0 1 0 -2.2 0ZM462.1 590.93a1.1 1.1 0 1 0 2.2 0a1.1 1.1 0 1 0 -2.2 0ZM460.2 591.23a1.1 1.1 0 1 0 2.2 0a1.1 1.1 0 1 0 -2.2 0ZM460.2 591.77a1.1 1.1 0 1 0 2.2 0a1.1 1.1 0 1 0 -2.2 0ZM462.1 591.98a1.1 1.1 0 1 0 2.2 0a1.1 1.1 0 1 0 -2.2 0ZM454.5 592.23a1.1 1.1 0 1 0 2.2 0a1.1 1.1 0 1 0 -2.2 0ZM458.3 592.72a1.1 1.1 0 1 0 2.2 0a1.1 1.1 0 1 0 -2.2 0ZM456.4 592.89a1.1 1.1 0 1 0 2.2 0a1.1 1.1 0 1 0 -2.2 0ZM454.5 593.24a1.1 1.1 0 1 0 2.2 0a1.1 1.1 0 1 0 -2.2 0ZM458.3 593.62a1.1 1.1 0 1 0 2.2 0a1.1 1.1 0 1 0 -2.2 0ZM462.1 594.04a1.1 1.1 0 1 0 2.2 0a1.1 1.1 0 1 0 -2.2 0ZM456.4 594.3a1.1 1.1 0 1 0 2.2 0a1.1 1.1 0 1 0 -2.2 0ZM460.2 594.42a1.1 1.1 0 1 0 2.2 0a1.1 1.1 0 1 0 -2.2 0ZM454.97 594.98a1.1 1.1 0 1 0 2.2 0a1.1 1.1 0 1 0 -2.2 0ZM463.3 595.16a1.1 1.1 0 1 0 2.2 0a1.1 1.1 0 1 0 -2.2 0ZM461.63 595.41a1.1 1.1 0 1 0 2.2 0a1.1 1.1 0 1 0 -2.2 0ZM458.3 595.74a1.1 1.1 0 1 0 2.2 0a1.1 1.1 0 1 0 -2.2 0ZM459.97 596.14a1.1 1.1 0 1 0 2.2 0a1.1 1.1 0 1 0 -2.2 0ZM453.3 596.29a1.1 1.1 0 1 0 2.2 0a1.1 1.1 0 1 0 -2.2 0ZM456.63 596.4a1.1 1.1 0 1 0 2.2 0a1.1 1.1 0 1 0 -2.2 0ZM463.3 596.72a1.1 1.1 0 1 0 2.2 0a1.1 1.1 0 1 0 -2.2 0ZM457.05 596.89a1.1 1.1 0 1 0 2.2 0a1.1 1.1 0 1 0 -2.2 0ZM453.3 596.98a1.1 1.1 0 1 0 2.2 0a1.1 1.1 0 1 0 -2.2 0ZM458.3 597.15a1.1 1.1 0 1 0 2.2 0a1.1 1.1 0 1 0 -2.2 0ZM454.55 597.36a1.1 1.1 0 1 0 2.2 0a1.1 1.1 0 1 0 -2.2 0ZM455.8 597.62a1.1 1.1 0 1 0 2.2 0a1.1 1.1 0 1 0 -2.2 0ZM460.8 597.79a1.1 1.1 0 1 0 2.2 0a1.1 1.1 0 1 0 -2.2 0ZM462.05 597.93a1.1 1.1 0 1 0 2.2 0a1.1 1.1 0 1 0 -2.2 0ZM459.55 598.12a1.1 1.1 0 1 0 2.2 0a1.1 1.1 0 1 0 -2.2 0ZM459.01 598.21a1.1 1.1 0 1 0 2.2 0a1.1 1.1 0 1 0 -2.2 0ZM454.73 598.42a1.1 1.1 0 1 0 2.2 0a1.1 1.1 0 1 0 -2.2 0ZM461.87 598.67a1.1 1.1 0 1 0 2.2 0a1.1 1.1 0 1 0 -2.2 0ZM463.3 598.85a1.1 1.1 0 1 0 2.2 0a1.1 1.1 0 1 0 -2.2 0ZM460.44 598.88a1.1 1.1 0 1 0 2.2 0a1.1 1.1 0 1 0 -2.2 0ZM453.3 599.1a1.1 1.1 0 1 0 2.2 0a1.1 1.1 0 1 0 -2.2 0ZM457.59 599.34a1.1 1.1 0 1 0 2.2 0a1.1 1.1 0 1 0 -2.2 0ZM456.16 599.5a1.1 1.1 0 1 0 2.2 0a1.1 1.1 0 1 0 -2.2 0ZM460.8 599.7a1.1 1.1 0 1 0 2.2 0a1.1 1.1 0 1 0 -2.2 0ZM453.3 599.86a1.1 1.1 0 1 0 2.2 0a1.1 1.1 0 1 0 -2.2 0ZM455.8 599.96a1.1 1.1 0 1 0 2.2 0a1.1 1.1 0 1 0 -2.2 0ZM463.3 600.19a1.1 1.1 0 1 0 2.2 0a1.1 1.1 0 1 0 -2.2 0ZM458.3 600.34a1.1 1.1 0 1 0 2.2 0a1.1 1.1 0 1 0 -2.2 0ZM459.55 600.52a1.1 1.1 0 1 0 2.2 0a1.1 1.1 0 1 0 -2.2 0ZM454.55 600.66a1.1 1.1 0 1 0 2.2 0a1.1 1.1 0 1 0 -2.2 0ZM462.05 600.97a1.1 1.1 0 1 0 2.2 0a1.1 1.1 0 1 0 -2.2 0ZM457.05 601.12a1.1 1.1 0 1 0 2.2 0a1.1 1.1 0 1 0 -2.2 0ZM463.3 601.2a1.1 1.1 0 1 0 2.2 0a1.1 1.1 0 1 0 -2.2 0ZM458.3 601.38a1.1 1.1 0 1 0 2.2 0a1.1 1.1 0 1 0 -2.2 0ZM462.05 601.53a1.1 1.1 0 1 0 2.2 0a1.1 1.1 0 1 0 -2.2 0ZM455.8 601.85a1.1 1.1 0 1 0 2.2 0a1.1 1.1 0 1 0 -2.2 0ZM457.05 601.94a1.1 1.1 0 1 0 2.2 0a1.1 1.1 0 1 0 -2.2 0ZM454.55 602.21a1.1 1.1 0 1 0 2.2 0a1.1 1.1 0 1 0 -2.2 0ZM460.8 602.24a1.1 1.1 0 1 0 2.2 0a1.1 1.1 0 1 0 -2.2 0ZM459.55 602.41a1.1 1.1 0 1 0 2.2 0a1.1 1.1 0 1 0 -2.2 0ZM453.3 602.6a1.1 1.1 0 1 0 2.2 0a1.1 1.1 0 1 0 -2.2 0ZM457.05 602.78a1.1 1.1 0 1 0 2.2 0a1.1 1.1 0 1 0 -2.2 0ZM454.55 603.06a1.1 1.1 0 1 0 2.2 0a1.1 1.1 0 1 0 -2.2 0ZM463.3 603.18a1.1 1.1 0 1 0 2.2 0a1.1 1.1 0 1 0 -2.2 0ZM455.8 603.38a1.1 1.1 0 1 0 2.2 0a1.1 1.1 0 1 0 -2.2 0ZM453.3 603.6a1.1 1.1 0 1 0 2.2 0a1.1 1.1 0 1 0 -2.2 0ZM459.55 603.8a1.1 1.1 0 1 0 2.2 0a1.1 1.1 0 1 0 -2.2 0ZM458.3 603.89a1.1 1.1 0 1 0 2.2 0a1.1 1.1 0 1 0 -2.2 0ZM462.05 604.02a1.1 1.1 0 1 0 2.2 0a1.1 1.1 0 1 0 -2.2 0ZM460.8 604.2a1.1 1.1 0 1 0 2.2 0a1.1 1.1 0 1 0 -2.2 0ZM457.05 604.49a1.1 1.1 0 1 0 2.2 0a1.1 1.1 0 1 0 -2.2 0ZM463.3 604.63a1.1 1.1 0 1 0 2.2 0a1.1 1.1 0 1 0 -2.2 0ZM459.55 604.71a1.1 1.1 0 1 0 2.2 0a1.1 1.1 0 1 0 -2.2 0ZM455.8 604.97a1.1 1.1 0 1 0 2.2 0a1.1 1.1 0 1 0 -2.2 0ZM454.55 605.17a1.1 1.1 0 1 0 2.2 0a1.1 1.1 0 1 0 -2.2 0ZM453.3 605.39a1.1 1.1 0 1 0 2.2 0a1.1 1.1 0 1 0 -2.2 0ZM460.8 605.49a1.1 1.1 0 1 0 2.2 0a1.1 1.1 0 1 0 -2.2 0ZM462.05 605.76a1.1 1.1 0 1 0 2.2 0a1.1 1.1 0 1 0 -2.2 0ZM458.3 605.9a1.1 1.1 0 1 0 2.2 0a1.1 1.1 0 1 0 -2.2 0ZM463.3 606a1.1 1.1 0 1 0 2.2 0a1.1 1.1 0 1 0 -2.2 0ZM459.01 606.2a1.1 1.1 0 1 0 2.2 0a1.1 1.1 0 1 0 -2.2 0ZM453.3 606.48a1.1 1.1 0 1 0 2.2 0a1.1 1.1 0 1 0 -2.2 0ZM456.16 606.58a1.1 1.1 0 1 0 2.2 0a1.1 1.1 0 1 0 -2.2 0ZM461.87 606.85a1.1 1.1 0 1 0 2.2 0a1.1 1.1 0 1 0 -2.2 0ZM454.73 606.9a1.1 1.1 0 1 0 2.2 0a1.1 1.1 0 1 0 -2.2 0ZM460.44 607.04a1.1 1.1 0 1 0 2.2 0a1.1 1.1 0 1 0 -2.2 0ZM457.59 607.25a1.1 1.1 0 1 0 2.2 0a1.1 1.1 0 1 0 -2.2 0ZM455.8 607.57a1.1 1.1 0 1 0 2.2 0a1.1 1.1 0 1 0 -2.2 0ZM458.3 607.58a1.1 1.1 0 1 0 2.2 0a1.1 1.1 0 1 0 -2.2 0ZM453.3 607.9a1.1 1.1 0 1 0 2.2 0a1.1 1.1 0 1 0 -2.2 0ZM460.8 608.07a1.1 1.1 0 1 0 2.2 0a1.1 1.1 0 1 0 -2.2 0ZM459.55 608.23a1.1 1.1 0 1 0 2.2 0a1.1 1.1 0 1 0 -2.2 0ZM462.05 608.45a1.1 1.1 0 1 0 2.2 0a1.1 1.1 0 1 0 -2.2 0ZM454.55 608.61a1.1 1.1 0 1 0 2.2 0a1.1 1.1 0 1 0 -2.2 0ZM463.3 608.73a1.1 1.1 0 1 0 2.2 0a1.1 1.1 0 1 0 -2.2 0ZM457.05 608.94a1.1 1.1 0 1 0 2.2 0a1.1 1.1 0 1 0 -2.2 0ZM457.05 609.12a1.1 1.1 0 1 0 2.2 0a1.1 1.1 0 1 0 -2.2 0ZM458.3 609.21a1.1 1.1 0 1 0 2.2 0a1.1 1.1 0 1 0 -2.2 0ZM460.8 609.49a1.1 1.1 0 1 0 2.2 0a1.1 1.1 0 1 0 -2.2 0ZM455.8 609.69a1.1 1.1 0 1 0 2.2 0a1.1 1.1 0 1 0 -2.2 0ZM462.05 609.82a1.1 1.1 0 1 0 2.2 0a1.1 1.1 0 1 0 -2.2 0ZM454.55 610.07a1.1 1.1 0 1 0 2.2 0a1.1 1.1 0 1 0 -2.2 0ZM453.3 610.16a1.1 1.1 0 1 0 2.2 0a1.1 1.1 0 1 0 -2.2 0ZM459.55 610.44a1.1 1.1 0 1 0 2.2 0a1.1 1.1 0 1 0 -2.2 0ZM463.3 610.49a1.1 1.1 0 1 0 2.2 0a1.1 1.1 0 1 0 -2.2 0ZM454.55 610.78a1.1 1.1 0 1 0 2.2 0a1.1 1.1 0 1 0 -2.2 0ZM457.05 610.95a1.1 1.1 0 1 0 2.2 0a1.1 1.1 0 1 0 -2.2 0ZM455.8 611.02a1.1 1.1 0 1 0 2.2 0a1.1 1.1 0 1 0 -2.2 0ZM463.3 611.32a1.1 1.1 0 1 0 2.2 0a1.1 1.1 0 1 0 -2.2 0ZM459.55 611.43a1.1 1.1 0 1 0 2.2 0a1.1 1.1 0 1 0 -2.2 0ZM458.3 611.62a1.1 1.1 0 1 0 2.2 0a1.1 1.1 0 1 0 -2.2 0ZM462.05 611.85a1.1 1.1 0 1 0 2.2 0a1.1 1.1 0 1 0 -2.2 0ZM453.3 612.06a1.1 1.1 0 1 0 2.2 0a1.1 1.1 0 1 0 -2.2 0ZM460.8 612.15a1.1 1.1 0 1 0 2.2 0a1.1 1.1 0 1 0 -2.2 0ZM461.87 612.28a1.1 1.1 0 1 0 2.2 0a1.1 1.1 0 1 0 -2.2 0ZM453.3 612.62a1.1 1.1 0 1 0 2.2 0a1.1 1.1 0 1 0 -2.2 0ZM454.73 612.73a1.1 1.1 0 1 0 2.2 0a1.1 1.1 0 1 0 -2.2 0ZM456.16 612.86a1.1 1.1 0 1 0 2.2 0a1.1 1.1 0 1 0 -2.2 0ZM460.44 613.01a1.1 1.1 0 1 0 2.2 0a1.1 1.1 0 1 0 -2.2 0ZM459.01 613.3a1.1 1.1 0 1 0 2.2 0a1.1 1.1 0 1 0 -2.2 0ZM457.59 613.53a1.1 1.1 0 1 0 2.2 0a1.1 1.1 0 1 0 -2.2 0ZM463.3 613.62a1.1 1.1 0 1 0 2.2 0a1.1 1.1 0 1 0 -2.2 0ZM454.55 613.88a1.1 1.1 0 1 0 2.2 0a1.1 1.1 0 1 0 -2.2 0ZM453.3 614.01a1.1 1.1 0 1 0 2.2 0a1.1 1.1 0 1 0 -2.2 0ZM460.8 614.21a1.1 1.1 0 1 0 2.2 0a1.1 1.1 0 1 0 -2.2 0ZM458.3 614.39a1.1 1.1 0 1 0 2.2 0a1.1 1.1 0 1 0 -2.2 0ZM463.3 614.62a1.1 1.1 0 1 0 2.2 0a1.1 1.1 0 1 0 -2.2 0ZM457.05 614.63a1.1 1.1 0 1 0 2.2 0a1.1 1.1 0 1 0 -2.2 0ZM462.05 614.81a1.1 1.1 0 1 0 2.2 0a1.1 1.1 0 1 0 -2.2 0ZM455.8 615.02a1.1 1.1 0 1 0 2.2 0a1.1 1.1 0 1 0 -2.2 0ZM459.55 615.24a1.1 1.1 0 1 0 2.2 0a1.1 1.1 0 1 0 -2.2 0ZM458.3 615.46a1.1 1.1 0 1 0 2.2 0a1.1 1.1 0 1 0 -2.2 0ZM460.8 615.54a1.1 1.1 0 1 0 2.2 0a1.1 1.1 0 1 0 -2.2 0ZM455.8 615.85a1.1 1.1 0 1 0 2.2 0a1.1 1.1 0 1 0 -2.2 0ZM454.55 615.95a1.1 1.1 0 1 0 2.2 0a1.1 1.1 0 1 0 -2.2 0ZM463.3 616.13a1.1 1.1 0 1 0 2.2 0a1.1 1.1 0 1 0 -2.2 0ZM459.55 616.28a1.1 1.1 0 1 0 2.2 0a1.1 1.1 0 1 0 -2.2 0ZM453.3 616.49a1.1 1.1 0 1 0 2.2 0a1.1 1.1 0 1 0 -2.2 0ZM457.05 616.66a1.1 1.1 0 1 0 2.2 0a1.1 1.1 0 1 0 -2.2 0ZM462.05 616.86a1.1 1.1 0 1 0 2.2 0a1.1 1.1 0 1 0 -2.2 0ZM461.87 617.02a1.1 1.1 0 1 0 2.2 0a1.1 1.1 0 1 0 -2.2 0ZM456.16 617.18a1.1 1.1 0 1 0 2.2 0a1.1 1.1 0 1 0 -2.2 0ZM459.01 617.39a1.1 1.1 0 1 0 2.2 0a1.1 1.1 0 1 0 -2.2 0ZM453.3 617.61a1.1 1.1 0 1 0 2.2 0a1.1 1.1 0 1 0 -2.2 0ZM463.3 617.79a1.1 1.1 0 1 0 2.2 0a1.1 1.1 0 1 0 -2.2 0ZM454.73 618.05a1.1 1.1 0 1 0 2.2 0a1.1 1.1 0 1 0 -2.2 0ZM457.59 618.07a1.1 1.1 0 1 0 2.2 0a1.1 1.1 0 1 0 -2.2 0ZM460.44 618.3a1.1 1.1 0 1 0 2.2 0a1.1 1.1 0 1 0 -2.2 0ZM463.3 618.47a1.1 1.1 0 1 0 2.2 0a1.1 1.1 0 1 0 -2.2 0ZM455.52 618.64a1.1 1.1 0 1 0 2.2 0a1.1 1.1 0 1 0 -2.2 0ZM459.97 618.81a1.1 1.1 0 1 0 2.2 0a1.1 1.1 0 1 0 -2.2 0ZM462.19 618.92a1.1 1.1 0 1 0 2.2 0a1.1 1.1 0 1 0 -2.2 0ZM454.41 619.03a1.1 1.1 0 1 0 2.2 0a1.1 1.1 0 1 0 -2.2 0ZM461.08 619.17a1.1 1.1 0 1 0 2.2 0a1.1 1.1 0 1 0 -2.2 0ZM453.3 619.33a1.1 1.1 0 1 0 2.2 0a1.1 1.1 0 1 0 -2.2 0ZM456.63 619.55a1.1 1.1 0 1 0 2.2 0a1.1 1.1 0 1 0 -2.2 0ZM457.74 619.67a1.1 1.1 0 1 0 2.2 0a1.1 1.1 0 1 0 -2.2 0ZM458.86 619.88a1.1 1.1 0 1 0 2.2 0a1.1 1.1 0 1 0 -2.2 0ZM460.3 620a1.1 1.1 0 1 0 2.2 0a1.1 1.1 0 1 0 -2.2 0ZM459.3 620.13a1.1 1.1 0 1 0 2.2 0a1.1 1.1 0 1 0 -2.2 0ZM461.3 620.28a1.1 1.1 0 1 0 2.2 0a1.1 1.1 0 1 0 -2.2 0ZM458.3 620.41a1.1 1.1 0 1 0 2.2 0a1.1 1.1 0 1 0 -2.2 0ZM454.3 620.57a1.1 1.1 0 1 0 2.2 0a1.1 1.1 0 1 0 -2.2 0ZM453.3 620.69a1.1 1.1 0 1 0 2.2 0a1.1 1.1 0 1 0 -2.2 0ZM457.3 620.93a1.1 1.1 0 1 0 2.2 0a1.1 1.1 0 1 0 -2.2 0ZM456.3 620.99a1.1 1.1 0 1 0 2.2 0a1.1 1.1 0 1 0 -2.2 0ZM463.3 621.16a1.1 1.1 0 1 0 2.2 0a1.1 1.1 0 1 0 -2.2 0ZM455.3 621.27a1.1 1.1 0 1 0 2.2 0a1.1 1.1 0 1 0 -2.2 0ZM462.3 621.41a1.1 1.1 0 1 0 2.2 0a1.1 1.1 0 1 0 -2.2 0ZM459.25 621.67a1.1 1.1 0 1 0 2.2 0a1.1 1.1 0 1 0 -2.2 0ZM461.15 621.82a1.1 1.1 0 1 0 2.2 0a1.1 1.1 0 1 0 -2.2 0ZM457.35 621.98a1.1 1.1 0 1 0 2.2 0a1.1 1.1 0 1 0 -2.2 0ZM455.45 622.02a1.1 1.1 0 1 0 2.2 0a1.1 1.1 0 1 0 -2.2 0ZM463.05 622.69a1.1 1.1 0 1 0 2.2 0a1.1 1.1 0 1 0 -2.2 0ZM453.55 623.07a1.1 1.1 0 1 0 2.2 0a1.1 1.1 0 1 0 -2.2 0ZM458.3 623.23a1.1 1.1 0 1 0 2.2 0a1.1 1.1 0 1 0 -2.2 0ZM456.4 623.69a1.1 1.1 0 1 0 2.2 0a1.1 1.1 0 1 0 -2.2 0ZM460.2 624.41a1.1 1.1 0 1 0 2.2 0a1.1 1.1 0 1 0 -2.2 0Z" fill="#17528e"/>
<path d="M489.8 536L490.8 537.8L488.8 537.8ZM489.8 540.5L490.8 542.3L488.8 542.3ZM489.8 543.48L490.8 545.28L488.8 545.28ZM489.8 546.08L490.8 547.88L488.8 547.88ZM492.2 548.38L493.2 550.18L491.2 550.18ZM489.8 549.52L490.8 551.32L488.8 551.32ZM487.4 549.75L488.4 551.55L486.4 551.55ZM489.8 551.43L490.8 553.23L488.8 553.23ZM487.4 552.2L488.4 554L486.4 554ZM492.2 552.62L493.2 554.42L491.2 554.42ZM489.8 553.95L490.8 555.75L488.8 555.75ZM492.2 554.96L493.2 556.76L491.2 556.76ZM487.4 555.36L488.4 557.16L486.4 557.16ZM492.2 556.55L493.2 558.35L491.2 558.35ZM489.8 557.5L490.8 559.3L488.8 559.3ZM487.4 558.23L488.4 560.03L486.4 560.03ZM486.2 559.36L487.2 561.16L485.2 561.16ZM493.4 560.08L494.4 561.88L492.4 561.88ZM488.6 560.78L489.6 562.58L487.6 562.58ZM491 560.93L492 562.73L490 562.73ZM485 561.26L486 563.06L484 563.06ZM492.2 561.87L493.2 563.67L491.2 563.67ZM489.8 562.01L490.8 563.81L488.8 563.81ZM487.4 562.33L488.4 564.13L486.4 564.13ZM494.6 562.81L495.6 564.61L493.6 564.61ZM483.8 563.07L484.8 564.87L482.8 564.87ZM491 563.48L492 565.28L490 565.28ZM493.4 563.58L494.4 565.38L492.4 565.38ZM495.8 563.88L496.8 565.68L494.8 565.68ZM486.2 564.42L487.2 566.22L485.2 566.22ZM488.6 564.6L489.6 566.4L487.6 566.4ZM497 565.05L498 566.85L496 566.85ZM494.6 565.13L495.6 566.93L493.6 566.93ZM482.6 565.59L483.6 567.39L481.6 567.39ZM487.4 565.84L488.4 567.64L486.4 567.64ZM485 566.36L486 568.16L484 568.16ZM489.8 566.42L490.8 568.22L488.8 568.22ZM492.2 566.75L493.2 568.55L491.2 568.55ZM492.2 567.04L493.2 568.84L491.2 568.84ZM489.8 567.48L490.8 569.28L488.8 569.28ZM485 567.94L486 569.74L484 569.74ZM487.4 568.07L488.4 569.87L486.4 569.87ZM494.6 568.42L495.6 570.22L493.6 570.22ZM483.8 568.81L484.8 570.61L482.8 570.61ZM486.2 568.99L487.2 570.79L485.2 570.79ZM495.8 569.29L496.8 571.09L494.8 571.09ZM493.4 569.9L494.4 571.7L492.4 571.7ZM491 569.93L492 571.73L490 571.73ZM488.6 570.29L489.6 572.09L487.6 572.09ZM495.8 570.75L496.8 572.55L494.8 572.55ZM491 571.11L492 572.91L490 572.91ZM483.8 571.43L484.8 573.23L482.8 573.23ZM488.6 571.78L489.6 573.58L487.6 573.58ZM493.4 571.94L494.4 573.74L492.4 573.74ZM486.2 572.26L487.2 574.06L485.2 574.06ZM485 572.54L486 574.34L484 574.34ZM494.6 572.89L495.6 574.69L493.6 574.69ZM489.8 573.23L490.8 575.03L488.8 575.03ZM482.6 573.51L483.6 575.31L481.6 575.31ZM492.2 573.74L493.2 575.54L491.2 575.54ZM487.4 573.97L488.4 575.77L486.4 575.77ZM497 574.06L498 575.86L496 575.86ZM497.8 574.5L498.8 576.3L496.8 576.3ZM488.66 574.58L489.66 576.38L487.66 576.38ZM486.37 574.96L487.37 576.76L485.37 576.76ZM484.09 575.1L485.09 576.9L483.09 576.9ZM493.23 575.28L494.23 577.08L492.23 577.08ZM495.51 575.52L496.51 577.32L494.51 577.32ZM490.94 575.83L491.94 577.63L489.94 577.63ZM481.8 576.07L482.8 577.87L480.8 577.87ZM485 576.41L486 578.21L484 578.21ZM482.6 576.5L483.6 578.3L481.6 578.3ZM492.2 576.92L493.2 578.72L491.2 578.72ZM487.4 577.12L488.4 578.92L486.4 578.92ZM497 577.33L498 579.13L496 579.13ZM489.8 577.61L490.8 579.41L488.8 579.41ZM494.6 577.81L495.6 579.61L493.6 579.61ZM490.94 578.13L491.94 579.93L489.94 579.93ZM493.23 578.18L494.23 579.98L492.23 579.98ZM497.8 578.55L498.8 580.35L496.8 580.35ZM488.66 578.66L489.66 580.46L487.66 580.46ZM486.37 578.94L487.37 580.74L485.37 580.74ZM481.8 579.25L482.8 581.05L480.8 581.05ZM484.09 579.35L485.09 581.15L483.09 581.15ZM495.51 579.73L496.51 581.53L494.51 581.53ZM486.37 580.02L487.37 581.82L485.37 581.82ZM481.8 580.09L482.8 581.89L480.8 581.89ZM484.09 580.37L485.09 582.17L483.09 582.17ZM497.8 580.7L498.8 582.5L496.8 582.5ZM488.66 580.87L489.66 582.67L487.66 582.67ZM495.51 581.2L496.51 583L494.51 583ZM493.23 581.26L494.23 583.06L492.23 583.06ZM490.94 581.54L491.94 583.34L489.94 583.34ZM497 581.81L498 583.61L496 583.61ZM489.8 582.14L490.8 583.94L488.8 583.94ZM485 582.43L486 584.23L484 584.23ZM492.2 582.53L493.2 584.33L491.2 584.33ZM487.4 582.85L488.4 584.65L486.4 584.65ZM494.6 583.08L495.6 584.88L493.6 584.88ZM482.6 583.25L483.6 585.05L481.6 585.05ZM488.66 583.56L489.66 585.36L487.66 585.36ZM497.8 583.83L498.8 585.63L496.8 585.63ZM493.23 584.02L494.23 585.82L492.23 585.82ZM484.09 584.36L485.09 586.16L483.09 586.16ZM486.37 584.47L487.37 586.27L485.37 586.27ZM481.8 584.85L482.8 586.65L480.8 586.65ZM490.94 584.92L491.94 586.72L489.94 586.72ZM495.51 585.24L496.51 587.04L494.51 587.04ZM488.66 585.57L489.66 587.37L487.66 587.37ZM481.8 585.83L482.8 587.63L480.8 587.63ZM495.51 586.04L496.51 587.84L494.51 587.84ZM490.94 586.22L491.94 588.02L489.94 588.02ZM497.8 586.52L498.8 588.32L496.8 588.32ZM493.23 586.72L494.23 588.52L492.23 588.52ZM486.37 586.87L487.37 588.67L485.37 588.67ZM484.09 587.17L485.09 588.97L483.09 588.97ZM484.09 587.35L485.09 589.15L483.09 589.15ZM486.37 587.52L487.37 589.32L485.37 589.32ZM488.66 587.87L489.66 589.67L487.66 589.67ZM481.8 588.07L482.8 589.87L480.8 589.87ZM497.8 588.35L498.8 590.15L496.8 590.15ZM495.51 588.48L496.51 590.28L494.51 590.28ZM490.94 588.76L491.94 590.56L489.94 590.56ZM493.23 588.98L494.23 590.78L492.23 590.78ZM487.4 589.23L488.4 591.03L486.4 591.03ZM492.2 589.49L493.2 591.29L491.2 591.29ZM482.6 589.74L483.6 591.54L481.6 591.54ZM485 590.01L486 591.81L484 591.81ZM489.8 590.21L490.8 592.01L488.8 592.01ZM494.6 590.58L495.6 592.38L493.6 592.38ZM497 590.81L498 592.61L496 592.61ZM485 590.97L486 592.77L484 592.77ZM494.6 591.27L495.6 593.07L493.6 593.07ZM492.2 591.56L493.2 593.36L491.2 593.36ZM482.6 591.61L483.6 593.41L481.6 593.41ZM497 591.99L498 593.79L496 593.79ZM487.4 592.24L488.4 594.04L486.4 594.04ZM489.8 592.32L490.8 594.12L488.8 594.12ZM481.8 592.74L482.8 594.54L480.8 594.54ZM497.8 592.83L498.8 594.63L496.8 594.63ZM495.51 593.05L496.51 594.85L494.51 594.85ZM484.09 593.36L485.09 595.16L483.09 595.16ZM493.23 593.58L494.23 595.38L492.23 595.38ZM488.66 593.84L489.66 595.64L487.66 595.64ZM490.94 594.21L491.94 596.01L489.94 596.01ZM486.37 594.28L487.37 596.08L485.37 596.08ZM489.8 594.51L490.8 596.31L488.8 596.31ZM497 594.89L498 596.69L496 596.69ZM494.6 595.09L495.6 596.89L493.6 596.89ZM492.2 595.28L493.2 597.08L491.2 597.08ZM485 595.49L486 597.29L484 597.29ZM482.6 595.79L483.6 597.59L481.6 597.59ZM487.4 596.1L488.4 597.9L486.4 597.9ZM497.8 596.32L498.8 598.12L496.8 598.12ZM484.09 596.53L485.09 598.33L483.09 598.33ZM490.94 596.72L491.94 598.52L489.94 598.52ZM486.37 597.03L487.37 598.83L485.37 598.83ZM488.66 597.22L489.66 599.02L487.66 599.02ZM495.51 597.56L496.51 599.36L494.51 599.36ZM481.8 597.69L482.8 599.49L480.8 599.49ZM493.23 598.01L494.23 599.81L492.23 599.81ZM492.2 598.13L493.2 599.93L491.2 599.93ZM485 598.53L486 600.33L484 600.33ZM482.6 598.81L483.6 600.61L481.6 600.61ZM487.4 599.01L488.4 600.81L486.4 600.81ZM489.8 599.2L490.8 601L488.8 601ZM494.6 599.32L495.6 601.12L493.6 601.12ZM497 599.73L498 601.53L496 601.53ZM491 599.94L492 601.74L490 601.74ZM486.2 600.27L487.2 602.07L485.2 602.07ZM495.8 600.54L496.8 602.34L494.8 602.34ZM488.6 600.96L489.6 602.76L487.6 602.76ZM493.4 601.23L494.4 603.03L492.4 603.03ZM483.8 601.5L484.8 603.3L482.8 603.3ZM488.6 601.85L489.6 603.65L487.6 603.65ZM495.8 602.13L496.8 603.93L494.8 603.93ZM486.2 602.44L487.2 604.24L485.2 604.24ZM483.8 602.85L484.8 604.65L482.8 604.65ZM491 603.04L492 604.84L490 604.84ZM493.4 603.53L494.4 605.33L492.4 605.33ZM483.8 603.9L484.8 605.7L482.8 605.7ZM486.2 604.16L487.2 605.96L485.2 605.96ZM488.6 604.42L489.6 606.22L487.6 606.22ZM493.4 604.93L494.4 606.73L492.4 606.73ZM495.8 605.19L496.8 606.99L494.8 606.99ZM491 605.57L492 607.37L490 607.37ZM487.4 605.7L488.4 607.5L486.4 607.5ZM485 606.01L486 607.81L484 607.81ZM494.6 606.5L495.6 608.3L493.6 608.3ZM489.8 606.9L490.8 608.7L488.8 608.7ZM492.2 607.16L493.2 608.96L491.2 608.96ZM495.8 607.57L496.8 609.37L494.8 609.37ZM493.4 607.65L494.4 609.45L492.4 609.45ZM488.6 608.11L489.6 609.91L487.6 609.91ZM483.8 608.35L484.8 610.15L482.8 610.15ZM486.2 608.68L487.2 610.48L485.2 610.48ZM491 609.11L492 610.91L490 610.91ZM483.8 609.5L484.8 611.3L482.8 611.3ZM493.4 609.71L494.4 611.51L492.4 611.51ZM495.8 609.97L496.8 611.77L494.8 611.77ZM488.6 610.28L489.6 612.08L487.6 612.08ZM491 610.55L492 612.35L490 612.35ZM486.2 611.17L487.2 612.97L485.2 612.97ZM485 611.22L486 613.02L484 613.02ZM489.8 611.79L490.8 613.59L488.8 613.59ZM494.6 611.99L495.6 613.79L493.6 613.79ZM492.2 612.25L493.2 614.05L491.2 614.05ZM487.4 612.54L488.4 614.34L486.4 614.34ZM483.8 613L484.8 614.8L482.8 614.8ZM491 613.48L492 615.28L490 615.28ZM495.8 613.56L496.8 615.36L494.8 615.36ZM493.4 614.03L494.4 615.83L492.4 615.83ZM488.6 614.17L489.6 615.97L487.6 615.97ZM486.2 614.7L487.2 616.5L485.2 616.5ZM487.4 615.34L488.4 617.14L486.4 617.14ZM489.8 616.19L490.8 617.99L488.8 617.99ZM492.2 616.42L493.2 618.22L491.2 618.22ZM489.8 617.17L490.8 618.97L488.8 618.97ZM492.2 617.63L493.2 619.43L491.2 619.43ZM487.4 618.44L488.4 620.24L486.4 620.24ZM492.2 619.34L493.2 621.14L491.2 621.14ZM487.4 620.07L488.4 621.87L486.4 621.87ZM489.8 620.39L490.8 622.19L488.8 622.19ZM491 621.28L492 623.08L490 623.08ZM488.6 622.1L489.6 623.9L487.6 623.9Z" fill="#d4466c"/>
<path d="M458.5 504.04a1 1 0 1 0 2 0a1 1 0 1 0 -2 0Z" fill="#17528e"/>
<path d="M489.8 464.7L490.65 466.23L488.95 466.23ZM489.8 468.67L490.65 470.2L488.95 470.2ZM489.8 482.45L490.65 483.98L488.95 483.98ZM489.8 493.58L490.65 495.11L488.95 495.11ZM489.8 498.88L490.65 500.41L488.95 500.41ZM489.8 511.6L490.65 513.13L488.95 513.13ZM489.8 513.19L490.65 514.72L488.95 514.72ZM491 512.4L491.85 513.93L490.15 513.93Z" fill="#d4466c"/>
<line x1="387.8" y1="608.42" x2="406.8" y2="608.42" stroke="#1a1a1a" stroke-width="1.1"/>
<line x1="419.8" y1="608.42" x2="438.8" y2="608.42" stroke="#1a1a1a" stroke-width="1.1"/>
<line x1="449.9" y1="605.22" x2="468.9" y2="605.22" stroke="#1a1a1a" stroke-width="1.1"/>
<line x1="480.3" y1="587.51" x2="499.3" y2="587.51" stroke="#1a1a1a" stroke-width="1.1"/>
<line x1="397.3" y1="628.1" x2="397.3" y2="631" stroke="#3a3a3a" stroke-width="1"/>
<text x="397.3" y="640" font-size="7.8" text-anchor="middle" fill="#231f20" font-weight="normal" stroke="#231f20" stroke-width="0.12">HD</text>
<text x="397.3" y="648.8" font-size="7.6" text-anchor="middle" fill="#231f20" font-weight="normal" stroke="#231f20" stroke-width="0.12" textLength="19.5" lengthAdjust="spacingAndGlyphs">N=72</text>
<line x1="429.3" y1="628.1" x2="429.3" y2="631" stroke="#3a3a3a" stroke-width="1"/>
<text x="429.3" y="640" font-size="7.8" text-anchor="middle" fill="#231f20" font-weight="normal" stroke="#231f20" stroke-width="0.12">P1</text>
<text x="429.3" y="648.8" font-size="7.6" text-anchor="middle" fill="#231f20" font-weight="normal" stroke="#231f20" stroke-width="0.12" textLength="19.5" lengthAdjust="spacingAndGlyphs">N=49</text>
<line x1="459.4" y1="628.1" x2="459.4" y2="631" stroke="#3a3a3a" stroke-width="1"/>
<text x="459.4" y="640" font-size="7.8" text-anchor="middle" fill="#231f20" font-weight="normal" stroke="#231f20" stroke-width="0.12">P2</text>
<text x="459.4" y="648.8" font-size="7.6" text-anchor="middle" fill="#231f20" font-weight="normal" stroke="#231f20" stroke-width="0.12" textLength="24" lengthAdjust="spacingAndGlyphs">N=206</text>
<line x1="489.8" y1="628.1" x2="489.8" y2="631" stroke="#3a3a3a" stroke-width="1"/>
<text x="489.8" y="640" font-size="7.8" text-anchor="middle" fill="#231f20" font-weight="normal" stroke="#231f20" stroke-width="0.12">P3</text>
<text x="489.8" y="648.8" font-size="7.6" text-anchor="middle" fill="#231f20" font-weight="normal" stroke="#231f20" stroke-width="0.12" textLength="24" lengthAdjust="spacingAndGlyphs">N=233</text>
<line x1="399.6" y1="494" x2="430.6" y2="494" stroke="#3a3a3a" stroke-width="1.1"/>
<line x1="399.6" y1="491.7" x2="399.6" y2="496.3" stroke="#3a3a3a" stroke-width="1"/>
<line x1="430.6" y1="491.7" x2="430.6" y2="496.3" stroke="#3a3a3a" stroke-width="1"/>
<text x="414.6" y="490.6" font-size="7.6" text-anchor="middle" fill="#231f20" font-weight="normal" stroke="#231f20" stroke-width="0.12" textLength="7.6" lengthAdjust="spacingAndGlyphs">ns</text>
<line x1="399.6" y1="476.7" x2="460.1" y2="476.7" stroke="#3a3a3a" stroke-width="1.1"/>
<line x1="399.6" y1="474.4" x2="399.6" y2="479" stroke="#3a3a3a" stroke-width="1"/>
<line x1="460.1" y1="474.4" x2="460.1" y2="479" stroke="#3a3a3a" stroke-width="1"/>
<text x="430" y="473.4" font-size="7.6" text-anchor="middle" fill="#231f20" font-weight="normal" stroke="#231f20" stroke-width="0.12" textLength="7.6" lengthAdjust="spacingAndGlyphs">ns</text>
<line x1="399.6" y1="455.8" x2="489.8" y2="455.8" stroke="#3a3a3a" stroke-width="1.1"/>
<line x1="399.6" y1="453.5" x2="399.6" y2="458.1" stroke="#3a3a3a" stroke-width="1"/>
<line x1="489.8" y1="453.5" x2="489.8" y2="458.1" stroke="#3a3a3a" stroke-width="1"/>
<text x="444.7" y="456.6" font-size="10" text-anchor="middle" fill="#231f20" font-weight="normal" stroke="#231f20" stroke-width="0.12" textLength="12.4" lengthAdjust="spacingAndGlyphs">***</text>
<rect x="0.5" y="0.5" width="519" height="704" fill="none" stroke="#000" stroke-width="1.2"/>
</svg></body></html>
